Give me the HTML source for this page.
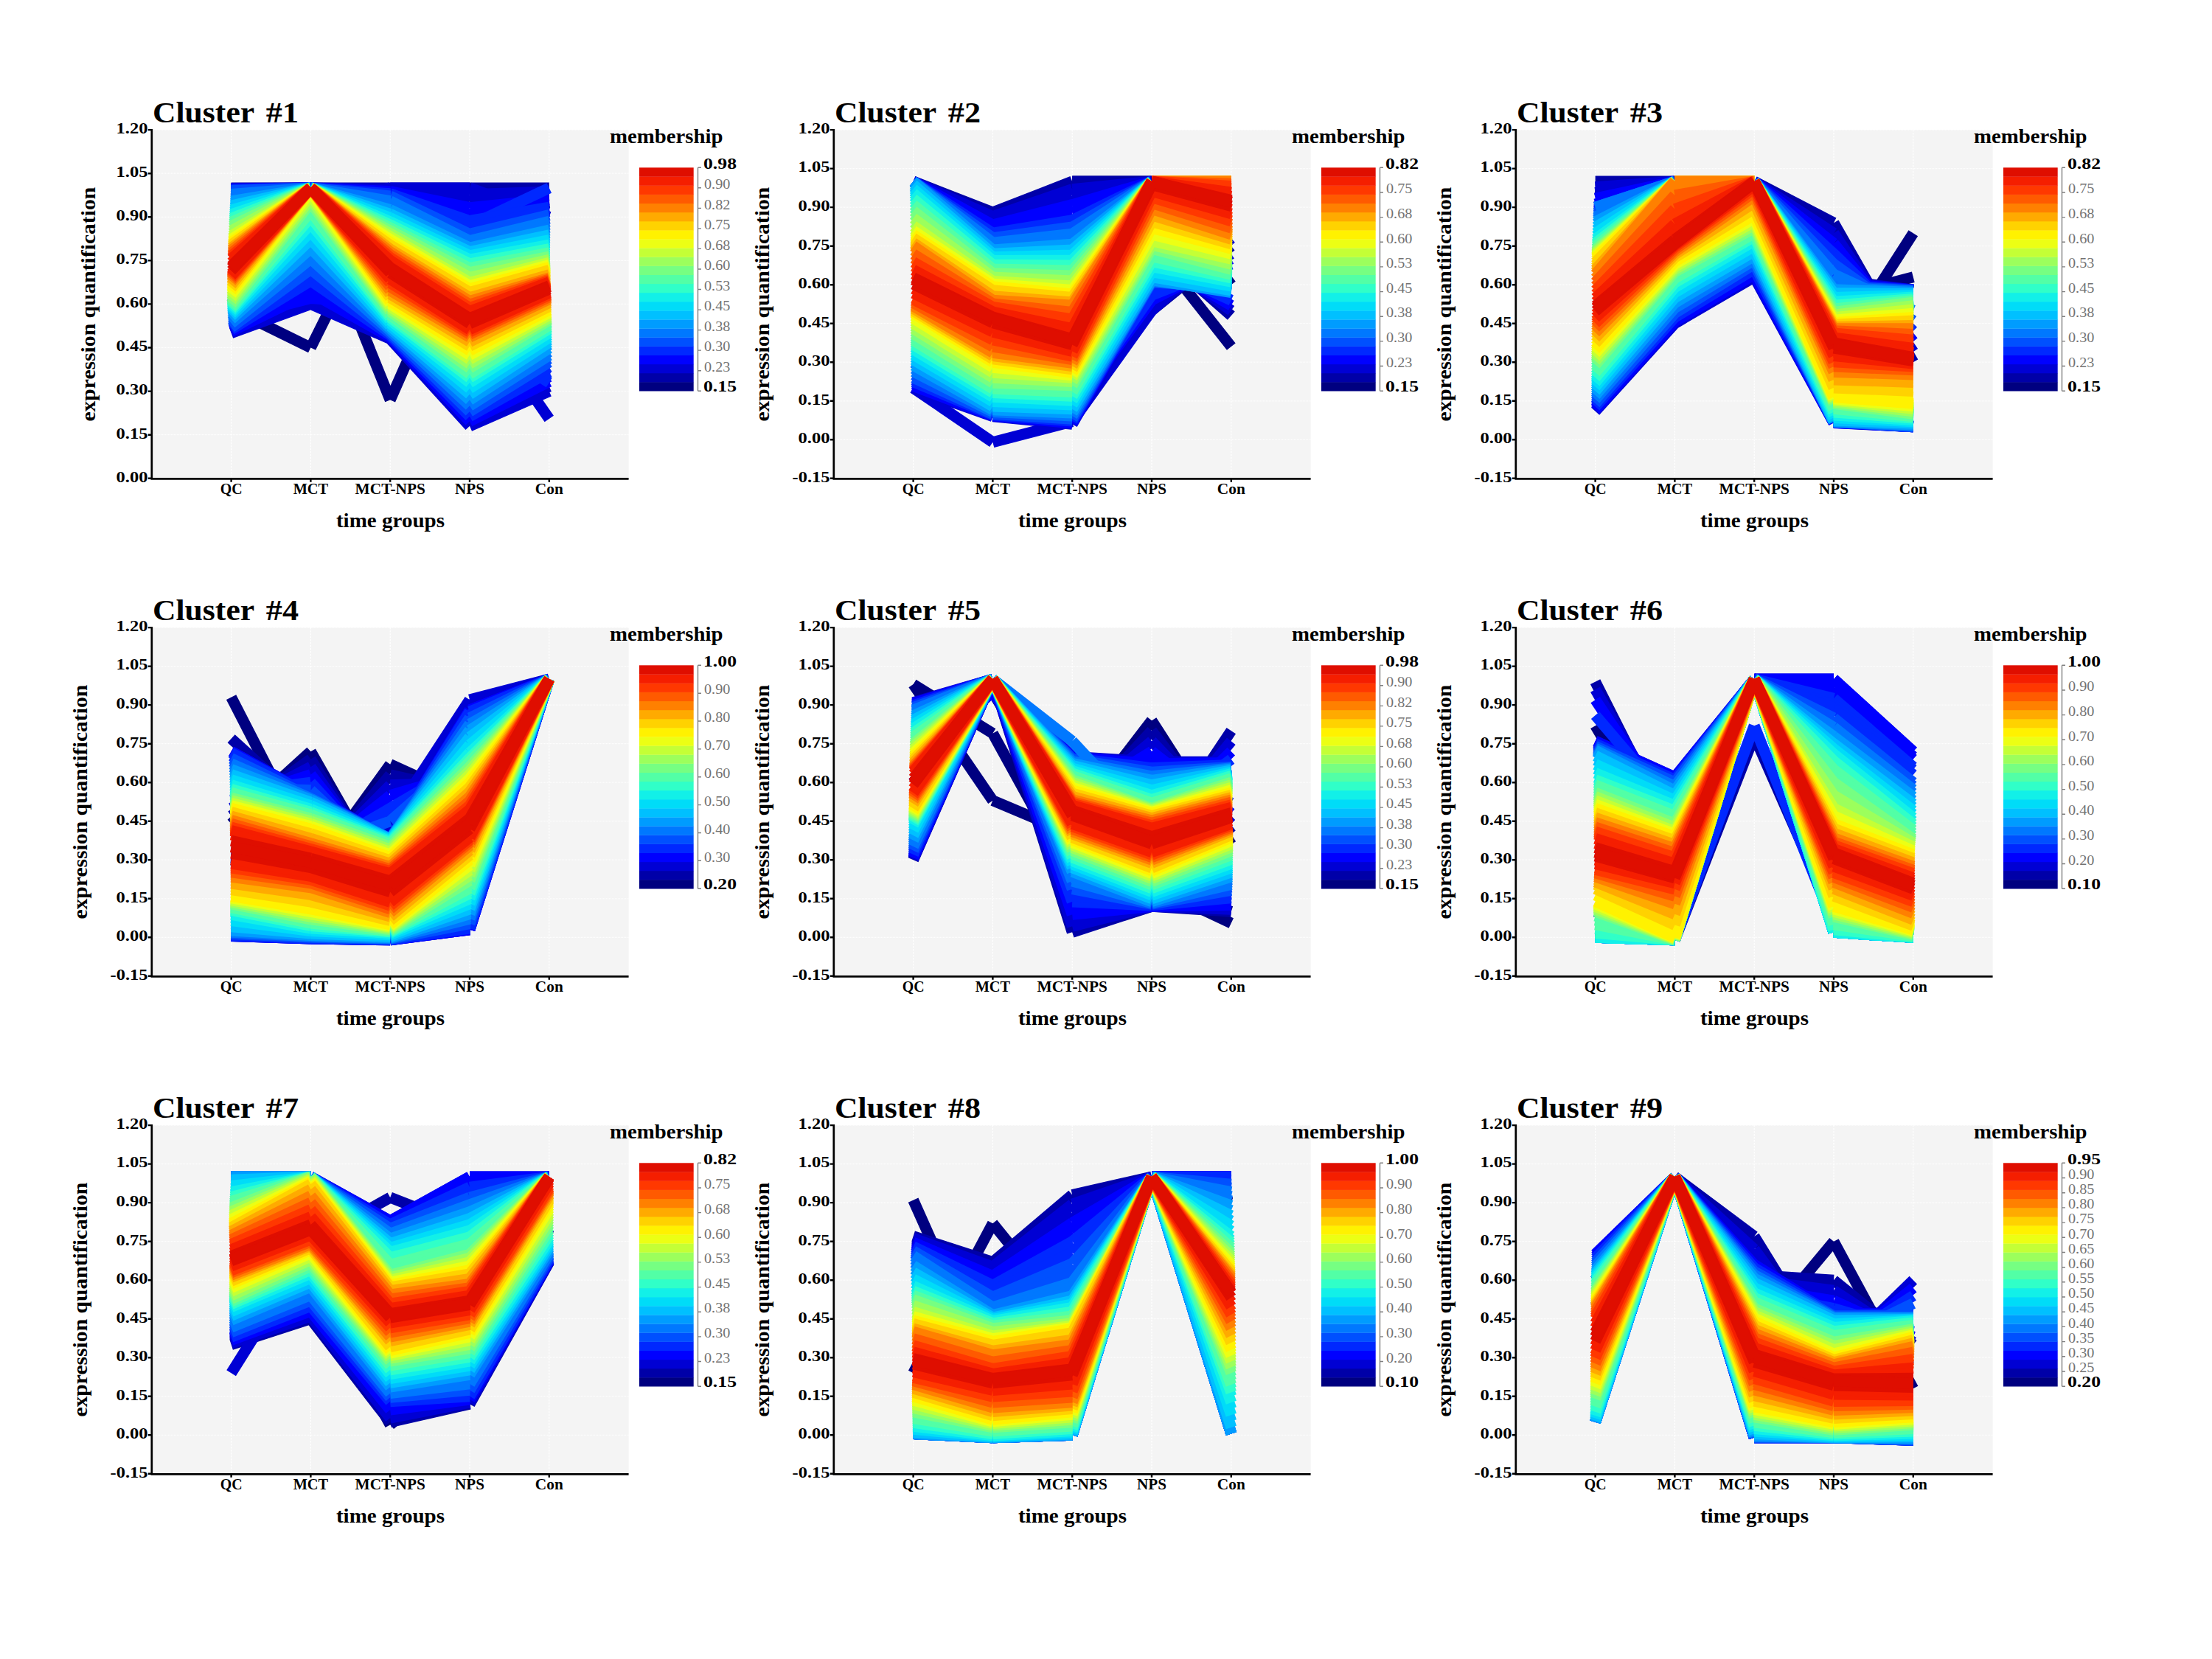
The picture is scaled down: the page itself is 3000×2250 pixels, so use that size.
<!DOCTYPE html>
<html><head><meta charset="utf-8"><title>Mfuzz clusters</title>
<style>
html,body{margin:0;padding:0;background:#fff;}
body{width:3000px;height:2250px;overflow:hidden;}
svg{display:block;}
text{font-family:"Liberation Serif", serif;font-weight:bold;fill:#000;}
</style></head><body>
<svg width="3000" height="2250" viewBox="0 0 3000 2250">
<rect width="3000" height="2250" fill="#fff"/>
<rect x="205.8" y="176.1" width="646.8" height="472.7" fill="#F4F4F4"/>
<path d="M205.8 176.1H852.6M205.8 235.2H852.6M205.8 294.3H852.6M205.8 353.4H852.6M205.8 412.4H852.6M205.8 471.5H852.6M205.8 530.6H852.6M205.8 589.7H852.6M205.8 648.8H852.6" stroke="#FFFFFF" stroke-width="1.2" stroke-dasharray="1 1" fill="none"/>
<path d="M313.6 176.1V648.8M421.4 176.1V648.8M529.2 176.1V648.8M637.0 176.1V648.8M744.8 176.1V648.8" stroke="#FFFFFF" stroke-width="1.2" stroke-dasharray="2.5 1.5" fill="none"/>
<clipPath id="clip1"><rect x="205.8" y="176.1" width="646.8" height="472.7"/></clipPath>
<g clip-path="url(#clip1)" fill="none" stroke-width="15" stroke-linecap="butt">
<path d="M313.6 418.4L421.4 471.5M421.4 471.5L529.2 254.9M529.2 254.9L637.0 294.3M637.0 294.3L744.8 274.6" stroke="#000080"/>
<path d="M313.6 412.4L421.4 274.6M421.4 274.6L529.2 542.4M529.2 542.4L637.0 298.2M637.0 298.2L744.8 294.3" stroke="#000080"/>
<path d="M313.6 254.9L421.4 254.9M421.4 254.9L529.2 254.9M529.2 254.9L637.0 254.9M637.0 254.9L744.8 254.9" stroke="#0000A8"/>
<path d="M313.6 255.4L421.4 254.9M421.4 254.9L529.2 256.5M529.2 256.5L637.0 263.8M637.0 263.8L744.8 260.1" stroke="#0000D4"/>
<path d="M313.6 451.8L421.4 412.4M421.4 412.4L529.2 459.7M529.2 459.7L637.0 577.9M637.0 577.9L744.8 530.6" stroke="#0000D4"/>
<path d="M313.6 294.3L421.4 274.6M421.4 274.6L529.2 294.3M529.2 294.3L637.0 412.4M637.0 412.4L744.8 568.0" stroke="#0000D4"/>
<path d="M313.6 255.9L421.4 254.9M421.4 254.9L529.2 258.0M529.2 258.0L637.0 272.7M637.0 272.7L744.8 265.4" stroke="#0000D4"/>
<path d="M313.6 450.5L421.4 404.6M421.4 404.6L529.2 458.4M529.2 458.4L637.0 574.6M637.0 574.6L744.8 524.1" stroke="#0000D4"/>
<path d="M313.6 294.3L421.4 274.6M421.4 274.6L529.2 254.9M529.2 254.9L637.0 254.9M637.0 254.9L744.8 294.3" stroke="#0000D4"/>
<path d="M313.6 256.5L421.4 254.9M421.4 254.9L529.2 259.6M529.2 259.6L637.0 281.7M637.0 281.7L744.8 270.6" stroke="#0000FF"/>
<path d="M313.6 449.2L421.4 396.7M421.4 396.7L529.2 457.1M529.2 457.1L637.0 571.3M637.0 571.3L744.8 517.5" stroke="#0000FF"/>
<path d="M313.6 432.1L421.4 404.6M421.4 404.6L529.2 412.4M529.2 412.4L637.0 471.5M637.0 471.5L744.8 510.9" stroke="#0000FF"/>
<path d="M313.6 257.0L421.4 254.9M421.4 254.9L529.2 261.2M529.2 261.2L637.0 290.6M637.0 290.6L744.8 275.9" stroke="#0000FF"/>
<path d="M313.6 447.9L421.4 388.8M421.4 388.8L529.2 455.8M529.2 455.8L637.0 568.0M637.0 568.0L744.8 510.9" stroke="#0000FF"/>
<path d="M313.6 420.3L421.4 373.1M421.4 373.1L529.2 404.6M529.2 404.6L637.0 451.8M637.0 451.8L744.8 518.8" stroke="#0028FF"/>
<path d="M313.6 404.6L421.4 353.4M421.4 353.4L529.2 262.8M529.2 262.8L637.0 306.1M637.0 306.1L744.8 254.9" stroke="#0028FF"/>
<path d="M313.6 257.5L421.4 254.9M421.4 254.9L529.2 262.8M529.2 262.8L637.0 299.5M637.0 299.5L744.8 281.1" stroke="#0028FF"/>
<path d="M313.6 446.6L421.4 380.9M421.4 380.9L529.2 454.5M529.2 454.5L637.0 564.8M637.0 564.8L744.8 504.4" stroke="#0028FF"/>
<path d="M313.6 258.0L421.4 254.9M421.4 254.9L529.2 264.3M529.2 264.3L637.0 308.5M637.0 308.5L744.8 286.4" stroke="#0028FF"/>
<path d="M313.6 445.3L421.4 373.1M421.4 373.1L529.2 453.2M529.2 453.2L637.0 561.5M637.0 561.5L744.8 497.8" stroke="#0028FF"/>
<path d="M313.6 258.6L421.4 254.9M421.4 254.9L529.2 265.9M529.2 265.9L637.0 317.4M637.0 317.4L744.8 291.6" stroke="#0050FF"/>
<path d="M313.6 444.0L421.4 365.2M421.4 365.2L529.2 451.8M529.2 451.8L637.0 558.2M637.0 558.2L744.8 491.2" stroke="#0050FF"/>
<path d="M313.6 260.4L421.4 254.9M421.4 254.9L529.2 268.7M529.2 268.7L637.0 323.4M637.0 323.4L744.8 296.2" stroke="#0050FF"/>
<path d="M313.6 441.2L421.4 358.1M421.4 358.1L529.2 450.3M529.2 450.3L637.0 554.3M637.0 554.3L744.8 486.5" stroke="#0050FF"/>
<path d="M313.6 263.5L421.4 254.9M421.4 254.9L529.2 272.6M529.2 272.6L637.0 326.6M637.0 326.6L744.8 300.2" stroke="#0078FF"/>
<path d="M313.6 438.4L421.4 351.0M421.4 351.0L529.2 448.7M529.2 448.7L637.0 550.3M637.0 550.3L744.8 481.8" stroke="#0078FF"/>
<path d="M313.6 266.7L421.4 254.9M421.4 254.9L529.2 276.5M529.2 276.5L637.0 329.7M637.0 329.7L744.8 304.1" stroke="#0078FF"/>
<path d="M313.6 435.7L421.4 343.9M421.4 343.9L529.2 447.1M529.2 447.1L637.0 546.4M637.0 546.4L744.8 477.1" stroke="#0078FF"/>
<path d="M313.6 269.9L421.4 254.9M421.4 254.9L529.2 280.5M529.2 280.5L637.0 332.9M637.0 332.9L744.8 308.1" stroke="#0078FF"/>
<path d="M313.6 432.9L421.4 336.8M421.4 336.8L529.2 445.5M529.2 445.5L637.0 542.4M637.0 542.4L744.8 472.3" stroke="#009CFF"/>
<path d="M313.6 273.0L421.4 254.9M421.4 254.9L529.2 284.4M529.2 284.4L637.0 336.0M637.0 336.0L744.8 312.0" stroke="#009CFF"/>
<path d="M313.6 430.2L421.4 329.7M421.4 329.7L529.2 444.0M529.2 444.0L637.0 538.5M637.0 538.5L744.8 467.6" stroke="#009CFF"/>
<path d="M313.6 276.1L421.4 254.9M421.4 254.9L529.2 287.7M529.2 287.7L637.0 338.9M637.0 338.9L744.8 315.6" stroke="#009CFF"/>
<path d="M313.6 428.5L421.4 324.5M421.4 324.5L529.2 442.0M529.2 442.0L637.0 534.6M637.0 534.6L744.8 464.3" stroke="#00C0FF"/>
<path d="M313.6 279.0L421.4 254.9M421.4 254.9L529.2 290.3M529.2 290.3L637.0 341.5M637.0 341.5L744.8 318.9" stroke="#00C0FF"/>
<path d="M313.6 426.9L421.4 319.2M421.4 319.2L529.2 440.0M529.2 440.0L637.0 530.6M637.0 530.6L744.8 461.0" stroke="#00C0FF"/>
<path d="M313.6 282.0L421.4 254.9M421.4 254.9L529.2 293.0M529.2 293.0L637.0 344.2M637.0 344.2L744.8 322.2" stroke="#00C0FF"/>
<path d="M313.6 425.3L421.4 314.0M421.4 314.0L529.2 438.1M529.2 438.1L637.0 526.7M637.0 526.7L744.8 457.8" stroke="#00DCF8"/>
<path d="M313.6 284.9L421.4 254.9M421.4 254.9L529.2 295.6M529.2 295.6L637.0 346.8M637.0 346.8L744.8 325.5" stroke="#00DCF8"/>
<path d="M313.6 423.6L421.4 308.7M421.4 308.7L529.2 436.1M529.2 436.1L637.0 522.7M637.0 522.7L744.8 454.5" stroke="#00DCF8"/>
<path d="M313.6 287.9L421.4 254.9M421.4 254.9L529.2 298.2M529.2 298.2L637.0 349.4M637.0 349.4L744.8 328.7" stroke="#00DCF8"/>
<path d="M313.6 422.0L421.4 303.5M421.4 303.5L529.2 434.1M529.2 434.1L637.0 518.8M637.0 518.8L744.8 451.2" stroke="#12F0E8"/>
<path d="M313.6 290.8L421.4 254.9M421.4 254.9L529.2 300.8M529.2 300.8L637.0 352.0M637.0 352.0L744.8 332.0" stroke="#12F0E8"/>
<path d="M313.6 420.3L421.4 298.2M421.4 298.2L529.2 432.1M529.2 432.1L637.0 514.9M637.0 514.9L744.8 447.9" stroke="#12F0E8"/>
<path d="M313.6 293.6L421.4 254.9M421.4 254.9L529.2 303.1M529.2 303.1L637.0 354.8M637.0 354.8L744.8 335.0" stroke="#12F0E8"/>
<path d="M313.6 419.0L421.4 294.3M421.4 294.3L529.2 430.5M529.2 430.5L637.0 512.2M637.0 512.2L744.8 445.6" stroke="#30FFC8"/>
<path d="M313.6 296.2L421.4 254.9M421.4 254.9L529.2 305.1M529.2 305.1L637.0 357.8M637.0 357.8L744.8 337.6" stroke="#30FFC8"/>
<path d="M313.6 417.7L421.4 290.3M421.4 290.3L529.2 428.9M529.2 428.9L637.0 509.6M637.0 509.6L744.8 443.3" stroke="#30FFC8"/>
<path d="M313.6 298.9L421.4 254.9M421.4 254.9L529.2 307.1M529.2 307.1L637.0 360.7M637.0 360.7L744.8 340.2" stroke="#30FFC8"/>
<path d="M313.6 416.4L421.4 286.4M421.4 286.4L529.2 427.2M529.2 427.2L637.0 507.0M637.0 507.0L744.8 441.0" stroke="#52FFA6"/>
<path d="M313.6 301.5L421.4 254.9M421.4 254.9L529.2 309.0M529.2 309.0L637.0 363.7M637.0 363.7L744.8 342.9" stroke="#52FFA6"/>
<path d="M313.6 415.1L421.4 282.5M421.4 282.5L529.2 425.6M529.2 425.6L637.0 504.4M637.0 504.4L744.8 438.7" stroke="#52FFA6"/>
<path d="M313.6 304.1L421.4 254.9M421.4 254.9L529.2 311.0M529.2 311.0L637.0 366.7M637.0 366.7L744.8 345.5" stroke="#52FFA6"/>
<path d="M313.6 413.8L421.4 278.5M421.4 278.5L529.2 423.9M529.2 423.9L637.0 501.7M637.0 501.7L744.8 436.4" stroke="#52FFA6"/>
<path d="M313.6 306.7L421.4 254.9M421.4 254.9L529.2 313.0M529.2 313.0L637.0 369.6M637.0 369.6L744.8 348.1" stroke="#76FF82"/>
<path d="M313.6 412.4L421.4 274.6M421.4 274.6L529.2 422.3M529.2 422.3L637.0 499.1M637.0 499.1L744.8 434.1" stroke="#76FF82"/>
<path d="M313.6 309.8L421.4 254.9M421.4 254.9L529.2 315.0M529.2 315.0L637.0 372.8M637.0 372.8L744.8 350.4" stroke="#76FF82"/>
<path d="M313.6 410.2L421.4 272.1M421.4 272.1L529.2 420.6M529.2 420.6L637.0 496.2M637.0 496.2L744.8 432.4" stroke="#76FF82"/>
<path d="M313.6 313.2L421.4 254.9M421.4 254.9L529.2 316.9M529.2 316.9L637.0 376.3M637.0 376.3L744.8 352.4" stroke="#9CFF5C"/>
<path d="M313.6 408.0L421.4 269.7M421.4 269.7L529.2 418.9M529.2 418.9L637.0 493.2M637.0 493.2L744.8 430.7" stroke="#9CFF5C"/>
<path d="M313.6 316.7L421.4 254.9M421.4 254.9L529.2 318.9M529.2 318.9L637.0 379.7M637.0 379.7L744.8 354.3" stroke="#9CFF5C"/>
<path d="M313.6 405.8L421.4 267.2M421.4 267.2L529.2 417.1M529.2 417.1L637.0 490.2M637.0 490.2L744.8 428.9" stroke="#9CFF5C"/>
<path d="M313.6 320.1L421.4 254.9M421.4 254.9L529.2 320.9M529.2 320.9L637.0 383.2M637.0 383.2L744.8 356.3" stroke="#C4FF36"/>
<path d="M313.6 403.6L421.4 264.7M421.4 264.7L529.2 415.4M529.2 415.4L637.0 487.3M637.0 487.3L744.8 427.2" stroke="#C4FF36"/>
<path d="M313.6 322.8L421.4 254.9M421.4 254.9L529.2 322.8M529.2 322.8L637.0 385.9M637.0 385.9L744.8 358.0" stroke="#C4FF36"/>
<path d="M313.6 401.4L421.4 262.3M421.4 262.3L529.2 413.7M529.2 413.7L637.0 484.3M637.0 484.3L744.8 425.5" stroke="#C4FF36"/>
<path d="M313.6 324.8L421.4 254.9M421.4 254.9L529.2 324.8M529.2 324.8L637.0 387.8M637.0 387.8L744.8 359.5" stroke="#ECFF14"/>
<path d="M313.6 399.2L421.4 259.8M421.4 259.8L529.2 412.0M529.2 412.0L637.0 481.4M637.0 481.4L744.8 423.8" stroke="#ECFF14"/>
<path d="M313.6 326.8L421.4 254.9M421.4 254.9L529.2 326.8M529.2 326.8L637.0 389.8M637.0 389.8L744.8 361.0" stroke="#ECFF14"/>
<path d="M313.6 396.9L421.4 257.3M421.4 257.3L529.2 410.2M529.2 410.2L637.0 478.4M637.0 478.4L744.8 422.1" stroke="#ECFF14"/>
<path d="M313.6 328.7L421.4 254.9M421.4 254.9L529.2 328.7M529.2 328.7L637.0 391.8M637.0 391.8L744.8 362.5" stroke="#FFF200"/>
<path d="M313.6 394.7L421.4 254.9M421.4 254.9L529.2 408.5M529.2 408.5L637.0 475.5M637.0 475.5L744.8 420.3" stroke="#FFF200"/>
<path d="M313.6 330.5L421.4 254.9M421.4 254.9L529.2 330.6M529.2 330.6L637.0 394.0M637.0 394.0L744.8 364.3" stroke="#FFF200"/>
<path d="M313.6 392.6L421.4 254.9M421.4 254.9L529.2 406.1M529.2 406.1L637.0 472.4M637.0 472.4L744.8 417.9" stroke="#FFF200"/>
<path d="M313.6 332.0L421.4 254.9M421.4 254.9L529.2 332.5M529.2 332.5L637.0 396.4M637.0 396.4L744.8 366.4" stroke="#FFD200"/>
<path d="M313.6 390.5L421.4 254.9M421.4 254.9L529.2 403.7M529.2 403.7L637.0 469.4M637.0 469.4L744.8 415.5" stroke="#FFD200"/>
<path d="M313.6 333.5L421.4 254.9M421.4 254.9L529.2 334.3M529.2 334.3L637.0 398.8M637.0 398.8L744.8 368.5" stroke="#FFD200"/>
<path d="M313.6 388.4L421.4 254.9M421.4 254.9L529.2 401.2M529.2 401.2L637.0 466.4M637.0 466.4L744.8 413.1" stroke="#FFD200"/>
<path d="M313.6 335.0L421.4 254.9M421.4 254.9L529.2 336.1M529.2 336.1L637.0 401.2M637.0 401.2L744.8 370.6" stroke="#FFD200"/>
<path d="M313.6 386.2L421.4 254.9M421.4 254.9L529.2 398.8M529.2 398.8L637.0 463.4M637.0 463.4L744.8 410.6" stroke="#FFAA00"/>
<path d="M313.6 336.5L421.4 254.9M421.4 254.9L529.2 337.9M529.2 337.9L637.0 403.7M637.0 403.7L744.8 372.8" stroke="#FFAA00"/>
<path d="M313.6 384.1L421.4 254.9M421.4 254.9L529.2 396.4M529.2 396.4L637.0 460.3M637.0 460.3L744.8 408.2" stroke="#FFAA00"/>
<path d="M313.6 338.1L421.4 254.9M421.4 254.9L529.2 339.7M529.2 339.7L637.0 406.1M637.0 406.1L744.8 374.9" stroke="#FFAA00"/>
<path d="M313.6 382.0L421.4 254.9M421.4 254.9L529.2 394.0M529.2 394.0L637.0 457.3M637.0 457.3L744.8 405.8" stroke="#FF8000"/>
<path d="M313.6 339.6L421.4 254.9M421.4 254.9L529.2 341.5M529.2 341.5L637.0 408.5M637.0 408.5L744.8 377.0" stroke="#FF8000"/>
<path d="M313.6 380.3L421.4 254.9M421.4 254.9L529.2 391.4M529.2 391.4L637.0 455.0M637.0 455.0L744.8 403.9" stroke="#FF8000"/>
<path d="M313.6 341.5L421.4 254.9M421.4 254.9L529.2 343.5M529.2 343.5L637.0 410.8M637.0 410.8L744.8 378.0" stroke="#FF8000"/>
<path d="M313.6 379.0L421.4 254.9M421.4 254.9L529.2 388.8M529.2 388.8L637.0 453.3M637.0 453.3L744.8 402.6" stroke="#FF5A00"/>
<path d="M313.6 343.5L421.4 254.9M421.4 254.9L529.2 345.5M529.2 345.5L637.0 413.1M637.0 413.1L744.8 379.0" stroke="#FF5A00"/>
<path d="M313.6 377.7L421.4 254.9M421.4 254.9L529.2 386.2M529.2 386.2L637.0 451.7M637.0 451.7L744.8 401.3" stroke="#FF5A00"/>
<path d="M313.6 345.5L421.4 254.9M421.4 254.9L529.2 347.5M529.2 347.5L637.0 415.4M637.0 415.4L744.8 380.0" stroke="#FF5A00"/>
<path d="M313.6 376.3L421.4 254.9M421.4 254.9L529.2 383.6M529.2 383.6L637.0 450.0M637.0 450.0L744.8 400.0" stroke="#FF3800"/>
<path d="M313.6 347.5L421.4 254.9M421.4 254.9L529.2 349.4M529.2 349.4L637.0 417.7M637.0 417.7L744.8 380.9" stroke="#FF3800"/>
<path d="M313.6 375.0L421.4 254.9M421.4 254.9L529.2 380.9M529.2 380.9L637.0 448.4M637.0 448.4L744.8 398.7" stroke="#FF3800"/>
<path d="M313.6 349.4L421.4 254.9M421.4 254.9L529.2 351.4M529.2 351.4L637.0 420.0M637.0 420.0L744.8 381.9" stroke="#FF3800"/>
<path d="M313.6 373.7L421.4 254.9M421.4 254.9L529.2 378.3M529.2 378.3L637.0 446.8M637.0 446.8L744.8 397.3" stroke="#F51E00"/>
<path d="M313.6 351.4L421.4 254.9M421.4 254.9L529.2 353.4M529.2 353.4L637.0 422.3M637.0 422.3L744.8 382.9" stroke="#F51E00"/>
<path d="M313.6 371.1L421.4 254.9M421.4 254.9L529.2 374.6M529.2 374.6L637.0 443.6M637.0 443.6L744.8 395.1" stroke="#F51E00"/>
<path d="M313.6 356.1L421.4 254.9M421.4 254.9L529.2 358.1M529.2 358.1L637.0 427.0M637.0 427.0L744.8 385.3" stroke="#F51E00"/>
<path d="M313.6 367.1L421.4 254.9M421.4 254.9L529.2 369.9M529.2 369.9L637.0 438.8M637.0 438.8L744.8 392.0" stroke="#DF0E00"/>
<path d="M313.6 360.8L421.4 254.9M421.4 254.9L529.2 362.8M529.2 362.8L637.0 431.8M637.0 431.8L744.8 387.6" stroke="#DF0E00"/>
<path d="M313.6 363.2L421.4 254.9M421.4 254.9L529.2 365.2M529.2 365.2L637.0 434.1M637.0 434.1L744.8 388.8" stroke="#DF0E00"/>
<path d="M313.6 363.2L421.4 254.9M421.4 254.9L529.2 365.2M529.2 365.2L637.0 434.1M637.0 434.1L744.8 388.8" stroke="#DF0E00"/>
</g>
<path d="M205.8 174.9V649.4H852.6" stroke="#000" stroke-width="2.7" fill="none"/>
<text x="200.5" y="180.9" text-anchor="end" font-size="21.5" textLength="43" lengthAdjust="spacingAndGlyphs">1.20</text>
<text x="200.5" y="240.0" text-anchor="end" font-size="21.5" textLength="43" lengthAdjust="spacingAndGlyphs">1.05</text>
<text x="200.5" y="299.1" text-anchor="end" font-size="21.5" textLength="43" lengthAdjust="spacingAndGlyphs">0.90</text>
<text x="200.5" y="358.2" text-anchor="end" font-size="21.5" textLength="43" lengthAdjust="spacingAndGlyphs">0.75</text>
<text x="200.5" y="417.2" text-anchor="end" font-size="21.5" textLength="43" lengthAdjust="spacingAndGlyphs">0.60</text>
<text x="200.5" y="476.3" text-anchor="end" font-size="21.5" textLength="43" lengthAdjust="spacingAndGlyphs">0.45</text>
<text x="200.5" y="535.4" text-anchor="end" font-size="21.5" textLength="43" lengthAdjust="spacingAndGlyphs">0.30</text>
<text x="200.5" y="594.5" text-anchor="end" font-size="21.5" textLength="43" lengthAdjust="spacingAndGlyphs">0.15</text>
<text x="200.5" y="653.6" text-anchor="end" font-size="21.5" textLength="43" lengthAdjust="spacingAndGlyphs">0.00</text>
<path d="M200.8 176.1H205.8M200.8 235.2H205.8M200.8 294.3H205.8M200.8 353.4H205.8M200.8 412.4H205.8M200.8 471.5H205.8M200.8 530.6H205.8M200.8 589.7H205.8M200.8 648.8H205.8M313.6 648.8V653.8M421.4 648.8V653.8M529.2 648.8V653.8M637.0 648.8V653.8M744.8 648.8V653.8" stroke="#000" stroke-width="2.4" fill="none"/>
<text x="313.6" y="670.1" text-anchor="middle" font-size="21" textLength="29.8" lengthAdjust="spacingAndGlyphs">QC</text>
<text x="421.4" y="670.1" text-anchor="middle" font-size="21" textLength="47.5" lengthAdjust="spacingAndGlyphs">MCT</text>
<text x="529.2" y="670.1" text-anchor="middle" font-size="21" textLength="95.2" lengthAdjust="spacingAndGlyphs">MCT-NPS</text>
<text x="637.0" y="670.1" text-anchor="middle" font-size="21" textLength="40" lengthAdjust="spacingAndGlyphs">NPS</text>
<text x="744.8" y="670.1" text-anchor="middle" font-size="21" textLength="38" lengthAdjust="spacingAndGlyphs">Con</text>
<text x="206.9" y="166.3" font-size="40" textLength="138.3" lengthAdjust="spacingAndGlyphs">Cluster</text>
<text x="360.8" y="166.3" font-size="40" textLength="44.2" lengthAdjust="spacingAndGlyphs">#1</text>
<text x="529.5" y="714.9" text-anchor="middle" font-size="28" textLength="147.2" lengthAdjust="spacingAndGlyphs">time groups</text>
<text transform="translate(129.0,412.7) rotate(-90)" x="0" y="0" text-anchor="middle" font-size="27.5" textLength="317.8" lengthAdjust="spacingAndGlyphs">expression quantification</text>
<text x="827.0" y="194.1" font-size="27" textLength="153.5" lengthAdjust="spacingAndGlyphs">membership</text>
<rect x="867.0" y="518.08" width="73.7" height="12.42" fill="#000080"/>
<rect x="867.0" y="505.97" width="73.7" height="12.42" fill="#0000A8"/>
<rect x="867.0" y="493.85" width="73.7" height="12.42" fill="#0000D4"/>
<rect x="867.0" y="481.74" width="73.7" height="12.42" fill="#0000FF"/>
<rect x="867.0" y="469.62" width="73.7" height="12.42" fill="#0028FF"/>
<rect x="867.0" y="457.50" width="73.7" height="12.42" fill="#0050FF"/>
<rect x="867.0" y="445.39" width="73.7" height="12.42" fill="#0078FF"/>
<rect x="867.0" y="433.27" width="73.7" height="12.42" fill="#009CFF"/>
<rect x="867.0" y="421.16" width="73.7" height="12.42" fill="#00C0FF"/>
<rect x="867.0" y="409.04" width="73.7" height="12.42" fill="#00DCF8"/>
<rect x="867.0" y="396.92" width="73.7" height="12.42" fill="#12F0E8"/>
<rect x="867.0" y="384.81" width="73.7" height="12.42" fill="#30FFC8"/>
<rect x="867.0" y="372.69" width="73.7" height="12.42" fill="#52FFA6"/>
<rect x="867.0" y="360.58" width="73.7" height="12.42" fill="#76FF82"/>
<rect x="867.0" y="348.46" width="73.7" height="12.42" fill="#9CFF5C"/>
<rect x="867.0" y="336.34" width="73.7" height="12.42" fill="#C4FF36"/>
<rect x="867.0" y="324.23" width="73.7" height="12.42" fill="#ECFF14"/>
<rect x="867.0" y="312.11" width="73.7" height="12.42" fill="#FFF200"/>
<rect x="867.0" y="300.00" width="73.7" height="12.42" fill="#FFD200"/>
<rect x="867.0" y="287.88" width="73.7" height="12.42" fill="#FFAA00"/>
<rect x="867.0" y="275.76" width="73.7" height="12.42" fill="#FF8000"/>
<rect x="867.0" y="263.65" width="73.7" height="12.42" fill="#FF5A00"/>
<rect x="867.0" y="251.53" width="73.7" height="12.42" fill="#FF3800"/>
<rect x="867.0" y="239.42" width="73.7" height="12.42" fill="#F51E00"/>
<rect x="867.0" y="227.30" width="73.7" height="12.42" fill="#DF0E00"/>
<text x="954.0" y="228.5" font-size="20.5" textLength="45" lengthAdjust="spacingAndGlyphs">0.98</text>
<text x="955.0" y="256.0" font-size="18" style="font-weight:normal;fill:#737373" textLength="35.4" lengthAdjust="spacingAndGlyphs">0.90</text>
<text x="955.0" y="283.6" font-size="18" style="font-weight:normal;fill:#737373" textLength="35.4" lengthAdjust="spacingAndGlyphs">0.82</text>
<text x="955.0" y="311.1" font-size="18" style="font-weight:normal;fill:#737373" textLength="35.4" lengthAdjust="spacingAndGlyphs">0.75</text>
<text x="955.0" y="338.6" font-size="18" style="font-weight:normal;fill:#737373" textLength="35.4" lengthAdjust="spacingAndGlyphs">0.68</text>
<text x="955.0" y="366.2" font-size="18" style="font-weight:normal;fill:#737373" textLength="35.4" lengthAdjust="spacingAndGlyphs">0.60</text>
<text x="955.0" y="393.7" font-size="18" style="font-weight:normal;fill:#737373" textLength="35.4" lengthAdjust="spacingAndGlyphs">0.53</text>
<text x="955.0" y="421.3" font-size="18" style="font-weight:normal;fill:#737373" textLength="35.4" lengthAdjust="spacingAndGlyphs">0.45</text>
<text x="955.0" y="448.8" font-size="18" style="font-weight:normal;fill:#737373" textLength="35.4" lengthAdjust="spacingAndGlyphs">0.38</text>
<text x="955.0" y="476.3" font-size="18" style="font-weight:normal;fill:#737373" textLength="35.4" lengthAdjust="spacingAndGlyphs">0.30</text>
<text x="955.0" y="503.9" font-size="18" style="font-weight:normal;fill:#737373" textLength="35.4" lengthAdjust="spacingAndGlyphs">0.23</text>
<text x="954.0" y="531.4" font-size="20.5" textLength="45" lengthAdjust="spacingAndGlyphs">0.15</text>
<path d="M946.5 227.3V530.2M946.5 227.3H951.0M946.5 254.8H951.0M946.5 282.4H951.0M946.5 309.9H951.0M946.5 337.4H951.0M946.5 365.0H951.0M946.5 392.5H951.0M946.5 420.1H951.0M946.5 447.6H951.0M946.5 475.1H951.0M946.5 502.7H951.0M946.5 530.2H951.0" stroke="#808080" stroke-width="1.4" fill="none"/>
<rect x="1130.8" y="176.1" width="646.8" height="472.7" fill="#F4F4F4"/>
<path d="M1130.8 176.1H1777.6M1130.8 228.6H1777.6M1130.8 281.1H1777.6M1130.8 333.7H1777.6M1130.8 386.2H1777.6M1130.8 438.7H1777.6M1130.8 491.2H1777.6M1130.8 543.8H1777.6M1130.8 596.3H1777.6M1130.8 648.8H1777.6" stroke="#FFFFFF" stroke-width="1.2" stroke-dasharray="1 1" fill="none"/>
<path d="M1238.6 176.1V648.8M1346.4 176.1V648.8M1454.2 176.1V648.8M1562.0 176.1V648.8M1669.8 176.1V648.8" stroke="#FFFFFF" stroke-width="1.2" stroke-dasharray="2.5 1.5" fill="none"/>
<clipPath id="clip2"><rect x="1130.8" y="176.1" width="646.8" height="472.7"/></clipPath>
<g clip-path="url(#clip2)" fill="none" stroke-width="15" stroke-linecap="butt">
<path d="M1238.6 421.2L1346.4 438.7M1346.4 438.7L1454.2 246.1M1454.2 246.1L1562.0 246.1M1562.0 246.1L1669.8 386.2" stroke="#000080"/>
<path d="M1238.6 491.2L1346.4 543.8M1346.4 543.8L1454.2 554.3M1454.2 554.3L1562.0 333.7M1562.0 333.7L1669.8 470.2" stroke="#000080"/>
<path d="M1238.6 491.2L1346.4 543.8M1346.4 543.8L1454.2 554.3M1454.2 554.3L1562.0 421.2M1562.0 421.2L1669.8 333.7" stroke="#0000A8"/>
<path d="M1238.6 246.1L1346.4 288.1M1346.4 288.1L1454.2 246.1M1454.2 246.1L1562.0 246.1M1562.0 246.1L1669.8 246.1" stroke="#0000A8"/>
<path d="M1238.6 491.2L1346.4 543.8M1346.4 543.8L1454.2 554.3M1454.2 554.3L1562.0 333.7M1562.0 333.7L1669.8 428.2" stroke="#0000A8"/>
<path d="M1238.6 246.1L1346.4 293.7M1346.4 293.7L1454.2 256.6M1454.2 256.6L1562.0 246.1M1562.0 246.1L1669.8 246.1" stroke="#0000D4"/>
<path d="M1238.6 491.2L1346.4 543.8M1346.4 543.8L1454.2 554.3M1454.2 554.3L1562.0 414.2M1562.0 414.2L1669.8 344.2" stroke="#0000D4"/>
<path d="M1238.6 246.1L1346.4 299.4M1346.4 299.4L1454.2 267.1M1454.2 267.1L1562.0 246.1M1562.0 246.1L1669.8 246.1" stroke="#0000D4"/>
<path d="M1238.6 526.2L1346.4 564.8M1346.4 564.8L1454.2 575.3M1454.2 575.3L1562.0 386.2M1562.0 386.2L1669.8 386.2" stroke="#0000D4"/>
<path d="M1238.6 526.2L1346.4 599.8M1346.4 599.8L1454.2 571.8M1454.2 571.8L1562.0 421.2M1562.0 421.2L1669.8 323.2" stroke="#0000D4"/>
<path d="M1238.6 491.2L1346.4 543.8M1346.4 543.8L1454.2 554.3M1454.2 554.3L1562.0 344.2M1562.0 344.2L1669.8 421.2" stroke="#0000D4"/>
<path d="M1238.6 246.1L1346.4 305.0M1346.4 305.0L1454.2 277.6M1454.2 277.6L1562.0 246.1M1562.0 246.1L1669.8 246.1" stroke="#0000FF"/>
<path d="M1238.6 491.2L1346.4 543.8M1346.4 543.8L1454.2 554.3M1454.2 554.3L1562.0 407.2M1562.0 407.2L1669.8 351.2" stroke="#0000FF"/>
<path d="M1238.6 523.4L1346.4 564.1M1346.4 564.1L1454.2 573.9M1454.2 573.9L1562.0 385.5M1562.0 385.5L1669.8 386.9" stroke="#0000FF"/>
<path d="M1238.6 246.1L1346.4 310.6M1346.4 310.6L1454.2 288.1M1454.2 288.1L1562.0 246.1M1562.0 246.1L1669.8 246.1" stroke="#0000FF"/>
<path d="M1238.6 520.6L1346.4 563.4M1346.4 563.4L1454.2 572.5M1454.2 572.5L1562.0 384.8M1562.0 384.8L1669.8 387.6" stroke="#0000FF"/>
<path d="M1238.6 491.2L1346.4 543.8M1346.4 543.8L1454.2 554.3M1454.2 554.3L1562.0 351.2M1562.0 351.2L1669.8 414.2" stroke="#0000FF"/>
<path d="M1238.6 246.1L1346.4 316.2M1346.4 316.2L1454.2 298.7M1454.2 298.7L1562.0 246.1M1562.0 246.1L1669.8 246.1" stroke="#0028FF"/>
<path d="M1238.6 517.8L1346.4 562.7M1346.4 562.7L1454.2 571.1M1454.2 571.1L1562.0 384.1M1562.0 384.1L1669.8 388.3" stroke="#0028FF"/>
<path d="M1238.6 491.2L1346.4 543.8M1346.4 543.8L1454.2 554.3M1454.2 554.3L1562.0 400.2M1562.0 400.2L1669.8 358.2" stroke="#0028FF"/>
<path d="M1238.6 246.1L1346.4 319.4M1346.4 319.4L1454.2 303.3M1454.2 303.3L1562.0 246.1M1562.0 246.1L1669.8 246.1" stroke="#0028FF"/>
<path d="M1238.6 515.0L1346.4 562.0M1346.4 562.0L1454.2 569.7M1454.2 569.7L1562.0 383.4M1562.0 383.4L1669.8 389.0" stroke="#0028FF"/>
<path d="M1238.6 491.2L1346.4 543.8M1346.4 543.8L1454.2 554.3M1454.2 554.3L1562.0 358.2M1562.0 358.2L1669.8 407.2" stroke="#0028FF"/>
<path d="M1238.6 246.1L1346.4 322.7M1346.4 322.7L1454.2 308.0M1454.2 308.0L1562.0 246.1M1562.0 246.1L1669.8 246.1" stroke="#0050FF"/>
<path d="M1238.6 512.2L1346.4 561.3M1346.4 561.3L1454.2 568.3M1454.2 568.3L1562.0 382.7M1562.0 382.7L1669.8 389.7" stroke="#0050FF"/>
<path d="M1238.6 246.1L1346.4 326.0M1346.4 326.0L1454.2 312.7M1454.2 312.7L1562.0 246.1M1562.0 246.1L1669.8 246.1" stroke="#0050FF"/>
<path d="M1238.6 508.0L1346.4 559.9M1346.4 559.9L1454.2 566.2M1454.2 566.2L1562.0 382.0M1562.0 382.0L1669.8 391.1" stroke="#0050FF"/>
<path d="M1238.6 246.1L1346.4 329.2M1346.4 329.2L1454.2 317.3M1454.2 317.3L1562.0 246.1M1562.0 246.1L1669.8 246.1" stroke="#0078FF"/>
<path d="M1238.6 503.8L1346.4 558.5M1346.4 558.5L1454.2 564.1M1454.2 564.1L1562.0 381.3M1562.0 381.3L1669.8 392.5" stroke="#0078FF"/>
<path d="M1238.6 246.1L1346.4 332.5M1346.4 332.5L1454.2 322.0M1454.2 322.0L1562.0 246.1M1562.0 246.1L1669.8 246.1" stroke="#0078FF"/>
<path d="M1238.6 499.6L1346.4 557.1M1346.4 557.1L1454.2 562.0M1454.2 562.0L1562.0 380.6M1562.0 380.6L1669.8 393.9" stroke="#0078FF"/>
<path d="M1238.6 246.1L1346.4 335.8M1346.4 335.8L1454.2 326.7M1454.2 326.7L1562.0 246.1M1562.0 246.1L1669.8 246.1" stroke="#0078FF"/>
<path d="M1238.6 495.4L1346.4 555.7M1346.4 555.7L1454.2 559.9M1454.2 559.9L1562.0 379.9M1562.0 379.9L1669.8 395.3" stroke="#009CFF"/>
<path d="M1238.6 246.1L1346.4 339.0M1346.4 339.0L1454.2 331.3M1454.2 331.3L1562.0 246.1M1562.0 246.1L1669.8 246.1" stroke="#009CFF"/>
<path d="M1238.6 491.2L1346.4 554.3M1346.4 554.3L1454.2 557.8M1454.2 557.8L1562.0 379.2M1562.0 379.2L1669.8 396.7" stroke="#009CFF"/>
<path d="M1238.6 247.6L1346.4 341.8M1346.4 341.8L1454.2 335.4M1454.2 335.4L1562.0 246.1M1562.0 246.1L1669.8 246.1" stroke="#009CFF"/>
<path d="M1238.6 487.7L1346.4 551.1M1346.4 551.1L1454.2 554.8M1454.2 554.8L1562.0 375.7M1562.0 375.7L1669.8 393.8" stroke="#00C0FF"/>
<path d="M1238.6 250.5L1346.4 344.2M1346.4 344.2L1454.2 338.9M1454.2 338.9L1562.0 246.1M1562.0 246.1L1669.8 246.1" stroke="#00C0FF"/>
<path d="M1238.6 484.2L1346.4 547.8M1346.4 547.8L1454.2 551.9M1454.2 551.9L1562.0 372.2M1562.0 372.2L1669.8 390.9" stroke="#00C0FF"/>
<path d="M1238.6 253.4L1346.4 346.5M1346.4 346.5L1454.2 342.4M1454.2 342.4L1562.0 246.1M1562.0 246.1L1669.8 246.1" stroke="#00C0FF"/>
<path d="M1238.6 480.7L1346.4 544.6M1346.4 544.6L1454.2 549.0M1454.2 549.0L1562.0 368.7M1562.0 368.7L1669.8 387.9" stroke="#00DCF8"/>
<path d="M1238.6 256.3L1346.4 348.8M1346.4 348.8L1454.2 345.9M1454.2 345.9L1562.0 246.1M1562.0 246.1L1669.8 246.1" stroke="#00DCF8"/>
<path d="M1238.6 477.2L1346.4 541.4M1346.4 541.4L1454.2 546.1M1454.2 546.1L1562.0 365.2M1562.0 365.2L1669.8 385.0" stroke="#00DCF8"/>
<path d="M1238.6 259.3L1346.4 351.2M1346.4 351.2L1454.2 349.4M1454.2 349.4L1562.0 246.1M1562.0 246.1L1669.8 246.1" stroke="#00DCF8"/>
<path d="M1238.6 473.7L1346.4 538.2M1346.4 538.2L1454.2 543.2M1454.2 543.2L1562.0 361.7M1562.0 361.7L1669.8 382.1" stroke="#12F0E8"/>
<path d="M1238.6 262.2L1346.4 353.5M1346.4 353.5L1454.2 352.9M1454.2 352.9L1562.0 246.1M1562.0 246.1L1669.8 246.1" stroke="#12F0E8"/>
<path d="M1238.6 470.2L1346.4 535.0M1346.4 535.0L1454.2 540.3M1454.2 540.3L1562.0 358.2M1562.0 358.2L1669.8 379.2" stroke="#12F0E8"/>
<path d="M1238.6 265.7L1346.4 356.1M1346.4 356.1L1454.2 356.4M1454.2 356.4L1562.0 246.1M1562.0 246.1L1669.8 246.1" stroke="#12F0E8"/>
<path d="M1238.6 467.3L1346.4 532.4M1346.4 532.4L1454.2 537.3M1454.2 537.3L1562.0 354.7M1562.0 354.7L1669.8 376.9" stroke="#30FFC8"/>
<path d="M1238.6 269.8L1346.4 359.1M1346.4 359.1L1454.2 359.9M1454.2 359.9L1562.0 246.1M1562.0 246.1L1669.8 246.1" stroke="#30FFC8"/>
<path d="M1238.6 464.4L1346.4 529.7M1346.4 529.7L1454.2 534.4M1454.2 534.4L1562.0 351.2M1562.0 351.2L1669.8 374.5" stroke="#30FFC8"/>
<path d="M1238.6 273.8L1346.4 362.0M1346.4 362.0L1454.2 363.4M1454.2 363.4L1562.0 246.1M1562.0 246.1L1669.8 246.1" stroke="#30FFC8"/>
<path d="M1238.6 461.5L1346.4 527.1M1346.4 527.1L1454.2 531.5M1454.2 531.5L1562.0 347.7M1562.0 347.7L1669.8 372.2" stroke="#52FFA6"/>
<path d="M1238.6 277.9L1346.4 364.9M1346.4 364.9L1454.2 366.9M1454.2 366.9L1562.0 246.1M1562.0 246.1L1669.8 246.1" stroke="#52FFA6"/>
<path d="M1238.6 458.6L1346.4 524.5M1346.4 524.5L1454.2 528.6M1454.2 528.6L1562.0 344.2M1562.0 344.2L1669.8 369.8" stroke="#52FFA6"/>
<path d="M1238.6 282.0L1346.4 367.8M1346.4 367.8L1454.2 370.4M1454.2 370.4L1562.0 246.1M1562.0 246.1L1669.8 246.1" stroke="#52FFA6"/>
<path d="M1238.6 455.6L1346.4 521.9M1346.4 521.9L1454.2 525.7M1454.2 525.7L1562.0 340.7M1562.0 340.7L1669.8 367.5" stroke="#52FFA6"/>
<path d="M1238.6 286.1L1346.4 370.7M1346.4 370.7L1454.2 373.9M1454.2 373.9L1562.0 246.1M1562.0 246.1L1669.8 246.1" stroke="#76FF82"/>
<path d="M1238.6 452.7L1346.4 519.2M1346.4 519.2L1454.2 522.7M1454.2 522.7L1562.0 337.2M1562.0 337.2L1669.8 365.2" stroke="#76FF82"/>
<path d="M1238.6 290.8L1346.4 373.5M1346.4 373.5L1454.2 377.4M1454.2 377.4L1562.0 246.1M1562.0 246.1L1669.8 246.1" stroke="#76FF82"/>
<path d="M1238.6 449.2L1346.4 515.7M1346.4 515.7L1454.2 520.1M1454.2 520.1L1562.0 334.5M1562.0 334.5L1669.8 361.7" stroke="#76FF82"/>
<path d="M1238.6 296.0L1346.4 376.1M1346.4 376.1L1454.2 380.9M1454.2 380.9L1562.0 246.1M1562.0 246.1L1669.8 246.1" stroke="#9CFF5C"/>
<path d="M1238.6 445.7L1346.4 512.2M1346.4 512.2L1454.2 517.5M1454.2 517.5L1562.0 331.9M1562.0 331.9L1669.8 358.2" stroke="#9CFF5C"/>
<path d="M1238.6 301.3L1346.4 378.7M1346.4 378.7L1454.2 384.4M1454.2 384.4L1562.0 246.1M1562.0 246.1L1669.8 246.1" stroke="#9CFF5C"/>
<path d="M1238.6 442.2L1346.4 508.7M1346.4 508.7L1454.2 514.9M1454.2 514.9L1562.0 329.3M1562.0 329.3L1669.8 354.7" stroke="#9CFF5C"/>
<path d="M1238.6 306.5L1346.4 381.4M1346.4 381.4L1454.2 387.9M1454.2 387.9L1562.0 246.1M1562.0 246.1L1669.8 246.1" stroke="#C4FF36"/>
<path d="M1238.6 438.7L1346.4 505.2M1346.4 505.2L1454.2 512.2M1454.2 512.2L1562.0 326.7M1562.0 326.7L1669.8 351.2" stroke="#C4FF36"/>
<path d="M1238.6 310.5L1346.4 383.6M1346.4 383.6L1454.2 391.0M1454.2 391.0L1562.0 246.1M1562.0 246.1L1669.8 246.1" stroke="#C4FF36"/>
<path d="M1238.6 435.2L1346.4 501.7M1346.4 501.7L1454.2 510.5M1454.2 510.5L1562.0 322.3M1562.0 322.3L1669.8 347.7" stroke="#C4FF36"/>
<path d="M1238.6 313.1L1346.4 385.3M1346.4 385.3L1454.2 393.6M1454.2 393.6L1562.0 246.1M1562.0 246.1L1669.8 246.1" stroke="#ECFF14"/>
<path d="M1238.6 431.7L1346.4 498.2M1346.4 498.2L1454.2 508.7M1454.2 508.7L1562.0 317.9M1562.0 317.9L1669.8 344.2" stroke="#ECFF14"/>
<path d="M1238.6 315.7L1346.4 387.1M1346.4 387.1L1454.2 396.3M1454.2 396.3L1562.0 246.1M1562.0 246.1L1669.8 246.1" stroke="#ECFF14"/>
<path d="M1238.6 428.2L1346.4 494.7M1346.4 494.7L1454.2 507.0M1454.2 507.0L1562.0 313.5M1562.0 313.5L1669.8 340.7" stroke="#ECFF14"/>
<path d="M1238.6 318.3L1346.4 388.8M1346.4 388.8L1454.2 398.9M1454.2 398.9L1562.0 246.1M1562.0 246.1L1669.8 246.1" stroke="#FFF200"/>
<path d="M1238.6 424.7L1346.4 491.2M1346.4 491.2L1454.2 505.2M1454.2 505.2L1562.0 309.2M1562.0 309.2L1669.8 337.2" stroke="#FFF200"/>
<path d="M1238.6 320.7L1346.4 391.0M1346.4 391.0L1454.2 401.3M1454.2 401.3L1562.0 246.1M1562.0 246.1L1669.8 246.1" stroke="#FFF200"/>
<path d="M1238.6 423.1L1346.4 489.1M1346.4 489.1L1454.2 503.1M1454.2 503.1L1562.0 304.8M1562.0 304.8L1669.8 333.9" stroke="#FFF200"/>
<path d="M1238.6 322.9L1346.4 393.7M1346.4 393.7L1454.2 403.4M1454.2 403.4L1562.0 246.1M1562.0 246.1L1669.8 246.1" stroke="#FFD200"/>
<path d="M1238.6 421.5L1346.4 486.9M1346.4 486.9L1454.2 500.9M1454.2 500.9L1562.0 300.5M1562.0 300.5L1669.8 330.7" stroke="#FFD200"/>
<path d="M1238.6 325.0L1346.4 396.4M1346.4 396.4L1454.2 405.6M1454.2 405.6L1562.0 246.1M1562.0 246.1L1669.8 246.1" stroke="#FFD200"/>
<path d="M1238.6 419.9L1346.4 484.8M1346.4 484.8L1454.2 498.8M1454.2 498.8L1562.0 296.2M1562.0 296.2L1669.8 327.5" stroke="#FFD200"/>
<path d="M1238.6 327.2L1346.4 399.1M1346.4 399.1L1454.2 407.7M1454.2 407.7L1562.0 246.1M1562.0 246.1L1669.8 246.1" stroke="#FFD200"/>
<path d="M1238.6 418.2L1346.4 482.6M1346.4 482.6L1454.2 496.6M1454.2 496.6L1562.0 291.9M1562.0 291.9L1669.8 324.2" stroke="#FFAA00"/>
<path d="M1238.6 329.4L1346.4 401.8M1346.4 401.8L1454.2 409.9M1454.2 409.9L1562.0 246.1M1562.0 246.1L1669.8 246.1" stroke="#FFAA00"/>
<path d="M1238.6 416.6L1346.4 480.5M1346.4 480.5L1454.2 494.5M1454.2 494.5L1562.0 287.6M1562.0 287.6L1669.8 321.0" stroke="#FFAA00"/>
<path d="M1238.6 331.5L1346.4 404.5M1346.4 404.5L1454.2 412.0M1454.2 412.0L1562.0 246.1M1562.0 246.1L1669.8 246.1" stroke="#FFAA00"/>
<path d="M1238.6 415.0L1346.4 478.3M1346.4 478.3L1454.2 492.3M1454.2 492.3L1562.0 283.3M1562.0 283.3L1669.8 317.8" stroke="#FF8000"/>
<path d="M1238.6 333.7L1346.4 407.2M1346.4 407.2L1454.2 414.2M1454.2 414.2L1562.0 246.1M1562.0 246.1L1669.8 246.1" stroke="#FF8000"/>
<path d="M1238.6 413.0L1346.4 474.9M1346.4 474.9L1454.2 490.1M1454.2 490.1L1562.0 279.2M1562.0 279.2L1669.8 313.8" stroke="#FF8000"/>
<path d="M1238.6 339.1L1346.4 409.5M1346.4 409.5L1454.2 418.9M1454.2 418.9L1562.0 246.1M1562.0 246.1L1669.8 247.7" stroke="#FF8000"/>
<path d="M1238.6 410.7L1346.4 470.2M1346.4 470.2L1454.2 487.7M1454.2 487.7L1562.0 275.3M1562.0 275.3L1669.8 309.2" stroke="#FF5A00"/>
<path d="M1238.6 344.6L1346.4 411.9M1346.4 411.9L1454.2 423.5M1454.2 423.5L1562.0 246.1M1562.0 246.1L1669.8 249.2" stroke="#FF5A00"/>
<path d="M1238.6 408.4L1346.4 465.6M1346.4 465.6L1454.2 485.4M1454.2 485.4L1562.0 271.4M1562.0 271.4L1669.8 304.5" stroke="#FF5A00"/>
<path d="M1238.6 350.0L1346.4 414.2M1346.4 414.2L1454.2 428.2M1454.2 428.2L1562.0 246.1M1562.0 246.1L1669.8 250.8" stroke="#FF5A00"/>
<path d="M1238.6 406.0L1346.4 460.9M1346.4 460.9L1454.2 483.1M1454.2 483.1L1562.0 267.5M1562.0 267.5L1669.8 299.8" stroke="#FF3800"/>
<path d="M1238.6 355.5L1346.4 416.5M1346.4 416.5L1454.2 432.9M1454.2 432.9L1562.0 246.1M1562.0 246.1L1669.8 252.4" stroke="#FF3800"/>
<path d="M1238.6 403.7L1346.4 456.2M1346.4 456.2L1454.2 480.7M1454.2 480.7L1562.0 263.6M1562.0 263.6L1669.8 295.2" stroke="#FF3800"/>
<path d="M1238.6 360.8L1346.4 419.5M1346.4 419.5L1454.2 438.7M1454.2 438.7L1562.0 246.1M1562.0 246.1L1669.8 255.8" stroke="#FF3800"/>
<path d="M1238.6 397.6L1346.4 450.1M1346.4 450.1L1454.2 476.4M1454.2 476.4L1562.0 259.3M1562.0 259.3L1669.8 289.9" stroke="#F51E00"/>
<path d="M1238.6 366.1L1346.4 423.0M1346.4 423.0L1454.2 445.7M1454.2 445.7L1562.0 246.1M1562.0 246.1L1669.8 261.0" stroke="#F51E00"/>
<path d="M1238.6 391.4L1346.4 444.0M1346.4 444.0L1454.2 472.0M1454.2 472.0L1562.0 254.9M1562.0 254.9L1669.8 284.6" stroke="#F51E00"/>
<path d="M1238.6 371.3L1346.4 426.5M1346.4 426.5L1454.2 452.7M1454.2 452.7L1562.0 246.1M1562.0 246.1L1669.8 266.3" stroke="#F51E00"/>
<path d="M1238.6 385.3L1346.4 437.8M1346.4 437.8L1454.2 467.6M1454.2 467.6L1562.0 250.5M1562.0 250.5L1669.8 279.4" stroke="#DF0E00"/>
<path d="M1238.6 376.6L1346.4 430.0M1346.4 430.0L1454.2 459.7M1454.2 459.7L1562.0 246.1M1562.0 246.1L1669.8 271.5" stroke="#DF0E00"/>
<path d="M1238.6 379.2L1346.4 431.7M1346.4 431.7L1454.2 463.2M1454.2 463.2L1562.0 246.1M1562.0 246.1L1669.8 274.1" stroke="#DF0E00"/>
<path d="M1238.6 379.2L1346.4 431.7M1346.4 431.7L1454.2 463.2M1454.2 463.2L1562.0 246.1M1562.0 246.1L1669.8 274.1" stroke="#DF0E00"/>
</g>
<path d="M1130.8 174.9V649.4H1777.6" stroke="#000" stroke-width="2.7" fill="none"/>
<text x="1125.5" y="180.9" text-anchor="end" font-size="21.5" textLength="43" lengthAdjust="spacingAndGlyphs">1.20</text>
<text x="1125.5" y="233.4" text-anchor="end" font-size="21.5" textLength="43" lengthAdjust="spacingAndGlyphs">1.05</text>
<text x="1125.5" y="285.9" text-anchor="end" font-size="21.5" textLength="43" lengthAdjust="spacingAndGlyphs">0.90</text>
<text x="1125.5" y="338.5" text-anchor="end" font-size="21.5" textLength="43" lengthAdjust="spacingAndGlyphs">0.75</text>
<text x="1125.5" y="391.0" text-anchor="end" font-size="21.5" textLength="43" lengthAdjust="spacingAndGlyphs">0.60</text>
<text x="1125.5" y="443.5" text-anchor="end" font-size="21.5" textLength="43" lengthAdjust="spacingAndGlyphs">0.45</text>
<text x="1125.5" y="496.0" text-anchor="end" font-size="21.5" textLength="43" lengthAdjust="spacingAndGlyphs">0.30</text>
<text x="1125.5" y="548.6" text-anchor="end" font-size="21.5" textLength="43" lengthAdjust="spacingAndGlyphs">0.15</text>
<text x="1125.5" y="601.1" text-anchor="end" font-size="21.5" textLength="43" lengthAdjust="spacingAndGlyphs">0.00</text>
<text x="1125.5" y="653.6" text-anchor="end" font-size="21.5" textLength="51" lengthAdjust="spacingAndGlyphs">-0.15</text>
<path d="M1125.8 176.1H1130.8M1125.8 228.6H1130.8M1125.8 281.1H1130.8M1125.8 333.7H1130.8M1125.8 386.2H1130.8M1125.8 438.7H1130.8M1125.8 491.2H1130.8M1125.8 543.8H1130.8M1125.8 596.3H1130.8M1125.8 648.8H1130.8M1238.6 648.8V653.8M1346.4 648.8V653.8M1454.2 648.8V653.8M1562.0 648.8V653.8M1669.8 648.8V653.8" stroke="#000" stroke-width="2.4" fill="none"/>
<text x="1238.6" y="670.1" text-anchor="middle" font-size="21" textLength="29.8" lengthAdjust="spacingAndGlyphs">QC</text>
<text x="1346.4" y="670.1" text-anchor="middle" font-size="21" textLength="47.5" lengthAdjust="spacingAndGlyphs">MCT</text>
<text x="1454.2" y="670.1" text-anchor="middle" font-size="21" textLength="95.2" lengthAdjust="spacingAndGlyphs">MCT-NPS</text>
<text x="1562.0" y="670.1" text-anchor="middle" font-size="21" textLength="40" lengthAdjust="spacingAndGlyphs">NPS</text>
<text x="1669.8" y="670.1" text-anchor="middle" font-size="21" textLength="38" lengthAdjust="spacingAndGlyphs">Con</text>
<text x="1131.9" y="166.3" font-size="40" textLength="138.3" lengthAdjust="spacingAndGlyphs">Cluster</text>
<text x="1285.8" y="166.3" font-size="40" textLength="44.2" lengthAdjust="spacingAndGlyphs">#2</text>
<text x="1454.5" y="714.9" text-anchor="middle" font-size="28" textLength="147.2" lengthAdjust="spacingAndGlyphs">time groups</text>
<text transform="translate(1043.4,412.7) rotate(-90)" x="0" y="0" text-anchor="middle" font-size="27.5" textLength="317.8" lengthAdjust="spacingAndGlyphs">expression quantification</text>
<text x="1752.0" y="194.1" font-size="27" textLength="153.5" lengthAdjust="spacingAndGlyphs">membership</text>
<rect x="1792.0" y="518.08" width="73.7" height="12.42" fill="#000080"/>
<rect x="1792.0" y="505.97" width="73.7" height="12.42" fill="#0000A8"/>
<rect x="1792.0" y="493.85" width="73.7" height="12.42" fill="#0000D4"/>
<rect x="1792.0" y="481.74" width="73.7" height="12.42" fill="#0000FF"/>
<rect x="1792.0" y="469.62" width="73.7" height="12.42" fill="#0028FF"/>
<rect x="1792.0" y="457.50" width="73.7" height="12.42" fill="#0050FF"/>
<rect x="1792.0" y="445.39" width="73.7" height="12.42" fill="#0078FF"/>
<rect x="1792.0" y="433.27" width="73.7" height="12.42" fill="#009CFF"/>
<rect x="1792.0" y="421.16" width="73.7" height="12.42" fill="#00C0FF"/>
<rect x="1792.0" y="409.04" width="73.7" height="12.42" fill="#00DCF8"/>
<rect x="1792.0" y="396.92" width="73.7" height="12.42" fill="#12F0E8"/>
<rect x="1792.0" y="384.81" width="73.7" height="12.42" fill="#30FFC8"/>
<rect x="1792.0" y="372.69" width="73.7" height="12.42" fill="#52FFA6"/>
<rect x="1792.0" y="360.58" width="73.7" height="12.42" fill="#76FF82"/>
<rect x="1792.0" y="348.46" width="73.7" height="12.42" fill="#9CFF5C"/>
<rect x="1792.0" y="336.34" width="73.7" height="12.42" fill="#C4FF36"/>
<rect x="1792.0" y="324.23" width="73.7" height="12.42" fill="#ECFF14"/>
<rect x="1792.0" y="312.11" width="73.7" height="12.42" fill="#FFF200"/>
<rect x="1792.0" y="300.00" width="73.7" height="12.42" fill="#FFD200"/>
<rect x="1792.0" y="287.88" width="73.7" height="12.42" fill="#FFAA00"/>
<rect x="1792.0" y="275.76" width="73.7" height="12.42" fill="#FF8000"/>
<rect x="1792.0" y="263.65" width="73.7" height="12.42" fill="#FF5A00"/>
<rect x="1792.0" y="251.53" width="73.7" height="12.42" fill="#FF3800"/>
<rect x="1792.0" y="239.42" width="73.7" height="12.42" fill="#F51E00"/>
<rect x="1792.0" y="227.30" width="73.7" height="12.42" fill="#DF0E00"/>
<text x="1879.0" y="228.5" font-size="20.5" textLength="45" lengthAdjust="spacingAndGlyphs">0.82</text>
<text x="1880.0" y="262.2" font-size="18" style="font-weight:normal;fill:#737373" textLength="35.4" lengthAdjust="spacingAndGlyphs">0.75</text>
<text x="1880.0" y="295.8" font-size="18" style="font-weight:normal;fill:#737373" textLength="35.4" lengthAdjust="spacingAndGlyphs">0.68</text>
<text x="1880.0" y="329.5" font-size="18" style="font-weight:normal;fill:#737373" textLength="35.4" lengthAdjust="spacingAndGlyphs">0.60</text>
<text x="1880.0" y="363.1" font-size="18" style="font-weight:normal;fill:#737373" textLength="35.4" lengthAdjust="spacingAndGlyphs">0.53</text>
<text x="1880.0" y="396.8" font-size="18" style="font-weight:normal;fill:#737373" textLength="35.4" lengthAdjust="spacingAndGlyphs">0.45</text>
<text x="1880.0" y="430.4" font-size="18" style="font-weight:normal;fill:#737373" textLength="35.4" lengthAdjust="spacingAndGlyphs">0.38</text>
<text x="1880.0" y="464.1" font-size="18" style="font-weight:normal;fill:#737373" textLength="35.4" lengthAdjust="spacingAndGlyphs">0.30</text>
<text x="1880.0" y="497.7" font-size="18" style="font-weight:normal;fill:#737373" textLength="35.4" lengthAdjust="spacingAndGlyphs">0.23</text>
<text x="1879.0" y="531.4" font-size="20.5" textLength="45" lengthAdjust="spacingAndGlyphs">0.15</text>
<path d="M1871.5 227.3V530.2M1871.5 227.3H1876.0M1871.5 261.0H1876.0M1871.5 294.6H1876.0M1871.5 328.3H1876.0M1871.5 361.9H1876.0M1871.5 395.6H1876.0M1871.5 429.2H1876.0M1871.5 462.9H1876.0M1871.5 496.5H1876.0M1871.5 530.2H1876.0" stroke="#808080" stroke-width="1.4" fill="none"/>
<rect x="2055.8" y="176.1" width="646.8" height="472.7" fill="#F4F4F4"/>
<path d="M2055.8 176.1H2702.6M2055.8 228.6H2702.6M2055.8 281.1H2702.6M2055.8 333.7H2702.6M2055.8 386.2H2702.6M2055.8 438.7H2702.6M2055.8 491.2H2702.6M2055.8 543.8H2702.6M2055.8 596.3H2702.6M2055.8 648.8H2702.6" stroke="#FFFFFF" stroke-width="1.2" stroke-dasharray="1 1" fill="none"/>
<path d="M2163.6 176.1V648.8M2271.4 176.1V648.8M2379.2 176.1V648.8M2487.0 176.1V648.8M2594.8 176.1V648.8" stroke="#FFFFFF" stroke-width="1.2" stroke-dasharray="2.5 1.5" fill="none"/>
<clipPath id="clip3"><rect x="2055.8" y="176.1" width="646.8" height="472.7"/></clipPath>
<g clip-path="url(#clip3)" fill="none" stroke-width="15" stroke-linecap="butt">
<path d="M2163.6 256.6L2271.4 274.1M2271.4 274.1L2379.2 246.1M2379.2 246.1L2487.0 484.2M2487.0 484.2L2594.8 316.2" stroke="#000080"/>
<path d="M2163.6 281.1L2271.4 246.1M2271.4 246.1L2379.2 246.1M2379.2 246.1L2487.0 403.7M2487.0 403.7L2594.8 375.7" stroke="#000080"/>
<path d="M2163.6 281.1L2271.4 246.1M2271.4 246.1L2379.2 246.1M2379.2 246.1L2487.0 302.2M2487.0 302.2L2594.8 491.2" stroke="#0000A8"/>
<path d="M2163.6 246.1L2271.4 246.1M2271.4 246.1L2379.2 246.1M2379.2 246.1L2487.0 379.2M2487.0 379.2L2594.8 393.2" stroke="#0000A8"/>
<path d="M2163.6 253.8L2271.4 246.1M2271.4 246.1L2379.2 246.1M2379.2 246.1L2487.0 380.6M2487.0 380.6L2594.8 393.2" stroke="#0000D4"/>
<path d="M2163.6 281.1L2271.4 246.1M2271.4 246.1L2379.2 246.1M2379.2 246.1L2487.0 316.2M2487.0 316.2L2594.8 477.2" stroke="#0000D4"/>
<path d="M2163.6 261.5L2271.4 246.1M2271.4 246.1L2379.2 246.1M2379.2 246.1L2487.0 382.0M2487.0 382.0L2594.8 393.2" stroke="#0000D4"/>
<path d="M2163.6 557.8L2271.4 438.7M2271.4 438.7L2379.2 375.7M2379.2 375.7L2487.0 573.5M2487.0 573.5L2594.8 578.8" stroke="#0000D4"/>
<path d="M2163.6 269.2L2271.4 246.1M2271.4 246.1L2379.2 246.1M2379.2 246.1L2487.0 383.4M2487.0 383.4L2594.8 393.2" stroke="#0000FF"/>
<path d="M2163.6 281.1L2271.4 246.1M2271.4 246.1L2379.2 246.1M2379.2 246.1L2487.0 330.2M2487.0 330.2L2594.8 463.2" stroke="#0000FF"/>
<path d="M2163.6 555.7L2271.4 435.9M2271.4 435.9L2379.2 372.2M2379.2 372.2L2487.0 573.2M2487.0 573.2L2594.8 578.8" stroke="#0000FF"/>
<path d="M2163.6 276.9L2271.4 246.1M2271.4 246.1L2379.2 246.1M2379.2 246.1L2487.0 384.8M2487.0 384.8L2594.8 393.2" stroke="#0000FF"/>
<path d="M2163.6 553.6L2271.4 433.1M2271.4 433.1L2379.2 368.7M2379.2 368.7L2487.0 572.8M2487.0 572.8L2594.8 578.8" stroke="#0000FF"/>
<path d="M2163.6 284.6L2271.4 246.1M2271.4 246.1L2379.2 246.1M2379.2 246.1L2487.0 386.2M2487.0 386.2L2594.8 393.2" stroke="#0028FF"/>
<path d="M2163.6 551.5L2271.4 430.3M2271.4 430.3L2379.2 365.2M2379.2 365.2L2487.0 572.5M2487.0 572.5L2594.8 578.8" stroke="#0028FF"/>
<path d="M2163.6 281.1L2271.4 246.1M2271.4 246.1L2379.2 246.1M2379.2 246.1L2487.0 344.2M2487.0 344.2L2594.8 449.2" stroke="#0028FF"/>
<path d="M2163.6 287.0L2271.4 246.1M2271.4 246.1L2379.2 246.1M2379.2 246.1L2487.0 387.1M2487.0 387.1L2594.8 393.7" stroke="#0028FF"/>
<path d="M2163.6 549.4L2271.4 427.5M2271.4 427.5L2379.2 361.7M2379.2 361.7L2487.0 572.1M2487.0 572.1L2594.8 578.8" stroke="#0028FF"/>
<path d="M2163.6 289.3L2271.4 246.1M2271.4 246.1L2379.2 246.1M2379.2 246.1L2487.0 388.1M2487.0 388.1L2594.8 394.1" stroke="#0050FF"/>
<path d="M2163.6 547.3L2271.4 424.7M2271.4 424.7L2379.2 358.2M2379.2 358.2L2487.0 571.8M2487.0 571.8L2594.8 578.8" stroke="#0050FF"/>
<path d="M2163.6 281.1L2271.4 246.1M2271.4 246.1L2379.2 246.1M2379.2 246.1L2487.0 358.2M2487.0 358.2L2594.8 435.2" stroke="#0050FF"/>
<path d="M2163.6 291.6L2271.4 246.1M2271.4 246.1L2379.2 246.1M2379.2 246.1L2487.0 389.0M2487.0 389.0L2594.8 394.6" stroke="#0050FF"/>
<path d="M2163.6 544.5L2271.4 421.2M2271.4 421.2L2379.2 355.4M2379.2 355.4L2487.0 571.8M2487.0 571.8L2594.8 578.1" stroke="#0050FF"/>
<path d="M2163.6 294.0L2271.4 246.1M2271.4 246.1L2379.2 246.1M2379.2 246.1L2487.0 389.9M2487.0 389.9L2594.8 395.1" stroke="#0078FF"/>
<path d="M2163.6 281.1L2271.4 246.1M2271.4 246.1L2379.2 246.1M2379.2 246.1L2487.0 372.2M2487.0 372.2L2594.8 421.2" stroke="#0078FF"/>
<path d="M2163.6 541.7L2271.4 417.7M2271.4 417.7L2379.2 352.6M2379.2 352.6L2487.0 571.8M2487.0 571.8L2594.8 577.4" stroke="#0078FF"/>
<path d="M2163.6 296.3L2271.4 246.1M2271.4 246.1L2379.2 246.1M2379.2 246.1L2487.0 390.9M2487.0 390.9L2594.8 395.5" stroke="#0078FF"/>
<path d="M2163.6 538.9L2271.4 414.2M2271.4 414.2L2379.2 349.8M2379.2 349.8L2487.0 571.8M2487.0 571.8L2594.8 576.7" stroke="#0078FF"/>
<path d="M2163.6 298.7L2271.4 246.1M2271.4 246.1L2379.2 246.1M2379.2 246.1L2487.0 391.8M2487.0 391.8L2594.8 396.0" stroke="#0078FF"/>
<path d="M2163.6 536.1L2271.4 410.7M2271.4 410.7L2379.2 347.0M2379.2 347.0L2487.0 571.8M2487.0 571.8L2594.8 576.0" stroke="#009CFF"/>
<path d="M2163.6 301.0L2271.4 246.1M2271.4 246.1L2379.2 246.1M2379.2 246.1L2487.0 392.7M2487.0 392.7L2594.8 396.5" stroke="#009CFF"/>
<path d="M2163.6 533.3L2271.4 407.2M2271.4 407.2L2379.2 344.2M2379.2 344.2L2487.0 571.8M2487.0 571.8L2594.8 575.3" stroke="#009CFF"/>
<path d="M2163.6 304.2L2271.4 246.1M2271.4 246.1L2379.2 246.1M2379.2 246.1L2487.0 394.7M2487.0 394.7L2594.8 397.3" stroke="#009CFF"/>
<path d="M2163.6 530.3L2271.4 403.7M2271.4 403.7L2379.2 340.7M2379.2 340.7L2487.0 570.0M2487.0 570.0L2594.8 574.1" stroke="#00C0FF"/>
<path d="M2163.6 308.3L2271.4 246.1M2271.4 246.1L2379.2 246.1M2379.2 246.1L2487.0 397.6M2487.0 397.6L2594.8 398.4" stroke="#00C0FF"/>
<path d="M2163.6 527.4L2271.4 400.2M2271.4 400.2L2379.2 337.2M2379.2 337.2L2487.0 568.3M2487.0 568.3L2594.8 572.9" stroke="#00C0FF"/>
<path d="M2163.6 312.4L2271.4 246.1M2271.4 246.1L2379.2 246.1M2379.2 246.1L2487.0 400.5M2487.0 400.5L2594.8 399.6" stroke="#00C0FF"/>
<path d="M2163.6 524.5L2271.4 396.7M2271.4 396.7L2379.2 333.7M2379.2 333.7L2487.0 566.5M2487.0 566.5L2594.8 571.8" stroke="#00DCF8"/>
<path d="M2163.6 316.5L2271.4 246.1M2271.4 246.1L2379.2 246.1M2379.2 246.1L2487.0 403.4M2487.0 403.4L2594.8 400.8" stroke="#00DCF8"/>
<path d="M2163.6 521.6L2271.4 393.2M2271.4 393.2L2379.2 330.2M2379.2 330.2L2487.0 564.8M2487.0 564.8L2594.8 570.6" stroke="#00DCF8"/>
<path d="M2163.6 320.5L2271.4 246.1M2271.4 246.1L2379.2 246.1M2379.2 246.1L2487.0 406.3M2487.0 406.3L2594.8 401.9" stroke="#00DCF8"/>
<path d="M2163.6 518.7L2271.4 389.7M2271.4 389.7L2379.2 326.7M2379.2 326.7L2487.0 563.0M2487.0 563.0L2594.8 569.4" stroke="#12F0E8"/>
<path d="M2163.6 324.6L2271.4 246.1M2271.4 246.1L2379.2 246.1M2379.2 246.1L2487.0 409.2M2487.0 409.2L2594.8 403.1" stroke="#12F0E8"/>
<path d="M2163.6 515.7L2271.4 386.2M2271.4 386.2L2379.2 323.2M2379.2 323.2L2487.0 561.3M2487.0 561.3L2594.8 568.3" stroke="#12F0E8"/>
<path d="M2163.6 327.8L2271.4 246.1M2271.4 246.1L2379.2 246.1M2379.2 246.1L2487.0 411.9M2487.0 411.9L2594.8 404.3" stroke="#12F0E8"/>
<path d="M2163.6 512.2L2271.4 383.3M2271.4 383.3L2379.2 320.8M2379.2 320.8L2487.0 558.9M2487.0 558.9L2594.8 567.1" stroke="#30FFC8"/>
<path d="M2163.6 330.2L2271.4 246.1M2271.4 246.1L2379.2 246.1M2379.2 246.1L2487.0 414.2M2487.0 414.2L2594.8 405.4" stroke="#30FFC8"/>
<path d="M2163.6 508.7L2271.4 380.4M2271.4 380.4L2379.2 318.5M2379.2 318.5L2487.0 556.6M2487.0 556.6L2594.8 565.9" stroke="#30FFC8"/>
<path d="M2163.6 332.5L2271.4 246.1M2271.4 246.1L2379.2 246.1M2379.2 246.1L2487.0 416.5M2487.0 416.5L2594.8 406.6" stroke="#30FFC8"/>
<path d="M2163.6 505.2L2271.4 377.4M2271.4 377.4L2379.2 316.2M2379.2 316.2L2487.0 554.3M2487.0 554.3L2594.8 564.8" stroke="#52FFA6"/>
<path d="M2163.6 334.8L2271.4 246.1M2271.4 246.1L2379.2 246.1M2379.2 246.1L2487.0 418.9M2487.0 418.9L2594.8 407.8" stroke="#52FFA6"/>
<path d="M2163.6 501.7L2271.4 374.5M2271.4 374.5L2379.2 313.8M2379.2 313.8L2487.0 551.9M2487.0 551.9L2594.8 563.6" stroke="#52FFA6"/>
<path d="M2163.6 337.2L2271.4 246.1M2271.4 246.1L2379.2 246.1M2379.2 246.1L2487.0 421.2M2487.0 421.2L2594.8 408.9" stroke="#52FFA6"/>
<path d="M2163.6 498.2L2271.4 371.6M2271.4 371.6L2379.2 311.5M2379.2 311.5L2487.0 549.6M2487.0 549.6L2594.8 562.4" stroke="#52FFA6"/>
<path d="M2163.6 339.5L2271.4 246.1M2271.4 246.1L2379.2 246.1M2379.2 246.1L2487.0 423.5M2487.0 423.5L2594.8 410.1" stroke="#76FF82"/>
<path d="M2163.6 494.7L2271.4 368.7M2271.4 368.7L2379.2 309.2M2379.2 309.2L2487.0 547.3M2487.0 547.3L2594.8 561.3" stroke="#76FF82"/>
<path d="M2163.6 341.3L2271.4 246.1M2271.4 246.1L2379.2 246.1M2379.2 246.1L2487.0 425.6M2487.0 425.6L2594.8 412.0" stroke="#76FF82"/>
<path d="M2163.6 492.1L2271.4 366.9M2271.4 366.9L2379.2 307.0M2379.2 307.0L2487.0 546.2M2487.0 546.2L2594.8 559.5" stroke="#76FF82"/>
<path d="M2163.6 342.6L2271.4 246.1M2271.4 246.1L2379.2 246.1M2379.2 246.1L2487.0 427.3M2487.0 427.3L2594.8 414.6" stroke="#9CFF5C"/>
<path d="M2163.6 489.5L2271.4 365.2M2271.4 365.2L2379.2 304.8M2379.2 304.8L2487.0 545.1M2487.0 545.1L2594.8 557.8" stroke="#9CFF5C"/>
<path d="M2163.6 344.0L2271.4 246.1M2271.4 246.1L2379.2 246.1M2379.2 246.1L2487.0 429.1M2487.0 429.1L2594.8 417.3" stroke="#9CFF5C"/>
<path d="M2163.6 486.9L2271.4 363.4M2271.4 363.4L2379.2 302.6M2379.2 302.6L2487.0 544.0M2487.0 544.0L2594.8 556.0" stroke="#9CFF5C"/>
<path d="M2163.6 345.3L2271.4 246.1M2271.4 246.1L2379.2 246.1M2379.2 246.1L2487.0 430.8M2487.0 430.8L2594.8 419.9" stroke="#C4FF36"/>
<path d="M2163.6 484.2L2271.4 361.7M2271.4 361.7L2379.2 300.4M2379.2 300.4L2487.0 542.9M2487.0 542.9L2594.8 554.3" stroke="#C4FF36"/>
<path d="M2163.6 346.6L2271.4 246.1M2271.4 246.1L2379.2 246.1M2379.2 246.1L2487.0 432.6M2487.0 432.6L2594.8 422.5" stroke="#C4FF36"/>
<path d="M2163.6 481.6L2271.4 359.9M2271.4 359.9L2379.2 298.2M2379.2 298.2L2487.0 541.8M2487.0 541.8L2594.8 552.5" stroke="#C4FF36"/>
<path d="M2163.6 347.9L2271.4 246.1M2271.4 246.1L2379.2 246.1M2379.2 246.1L2487.0 434.3M2487.0 434.3L2594.8 425.1" stroke="#ECFF14"/>
<path d="M2163.6 479.0L2271.4 358.2M2271.4 358.2L2379.2 296.0M2379.2 296.0L2487.0 540.7M2487.0 540.7L2594.8 550.8" stroke="#ECFF14"/>
<path d="M2163.6 349.2L2271.4 246.1M2271.4 246.1L2379.2 246.1M2379.2 246.1L2487.0 436.1M2487.0 436.1L2594.8 427.8" stroke="#ECFF14"/>
<path d="M2163.6 476.4L2271.4 356.4M2271.4 356.4L2379.2 293.8M2379.2 293.8L2487.0 539.6M2487.0 539.6L2594.8 549.0" stroke="#ECFF14"/>
<path d="M2163.6 350.5L2271.4 246.1M2271.4 246.1L2379.2 246.1M2379.2 246.1L2487.0 437.8M2487.0 437.8L2594.8 430.4" stroke="#FFF200"/>
<path d="M2163.6 473.7L2271.4 354.7M2271.4 354.7L2379.2 291.6M2379.2 291.6L2487.0 538.5M2487.0 538.5L2594.8 547.3" stroke="#FFF200"/>
<path d="M2163.6 352.8L2271.4 246.1M2271.4 246.1L2379.2 246.1M2379.2 246.1L2487.0 439.2M2487.0 439.2L2594.8 432.8" stroke="#FFF200"/>
<path d="M2163.6 469.5L2271.4 351.9M2271.4 351.9L2379.2 287.4M2379.2 287.4L2487.0 532.2M2487.0 532.2L2594.8 538.9" stroke="#FFF200"/>
<path d="M2163.6 356.0L2271.4 246.1M2271.4 246.1L2379.2 246.1M2379.2 246.1L2487.0 440.3M2487.0 440.3L2594.8 434.9" stroke="#FFD200"/>
<path d="M2163.6 465.3L2271.4 349.1M2271.4 349.1L2379.2 283.2M2379.2 283.2L2487.0 525.9M2487.0 525.9L2594.8 530.4" stroke="#FFD200"/>
<path d="M2163.6 359.3L2271.4 246.1M2271.4 246.1L2379.2 246.1M2379.2 246.1L2487.0 441.4M2487.0 441.4L2594.8 437.1" stroke="#FFD200"/>
<path d="M2163.6 461.5L2271.4 346.8M2271.4 346.8L2379.2 279.0M2379.2 279.0L2487.0 520.1M2487.0 520.1L2594.8 523.6" stroke="#FFD200"/>
<path d="M2163.6 362.5L2271.4 246.1M2271.4 246.1L2379.2 246.1M2379.2 246.1L2487.0 442.5M2487.0 442.5L2594.8 439.2" stroke="#FFD200"/>
<path d="M2163.6 458.0L2271.4 345.0M2271.4 345.0L2379.2 274.6M2379.2 274.6L2487.0 514.9M2487.0 514.9L2594.8 518.4" stroke="#FFAA00"/>
<path d="M2163.6 365.7L2271.4 246.1M2271.4 246.1L2379.2 246.1M2379.2 246.1L2487.0 443.6M2487.0 443.6L2594.8 441.4" stroke="#FFAA00"/>
<path d="M2163.6 454.5L2271.4 343.3M2271.4 343.3L2379.2 270.2M2379.2 270.2L2487.0 509.6M2487.0 509.6L2594.8 513.1" stroke="#FFAA00"/>
<path d="M2163.6 369.0L2271.4 246.1M2271.4 246.1L2379.2 246.1M2379.2 246.1L2487.0 444.6M2487.0 444.6L2594.8 443.6" stroke="#FFAA00"/>
<path d="M2163.6 451.0L2271.4 341.5M2271.4 341.5L2379.2 265.8M2379.2 265.8L2487.0 504.4M2487.0 504.4L2594.8 507.9" stroke="#FF8000"/>
<path d="M2163.6 372.2L2271.4 246.1M2271.4 246.1L2379.2 246.1M2379.2 246.1L2487.0 445.7M2487.0 445.7L2594.8 445.7" stroke="#FF8000"/>
<path d="M2163.6 447.7L2271.4 339.9M2271.4 339.9L2379.2 262.5M2379.2 262.5L2487.0 500.2M2487.0 500.2L2594.8 504.1" stroke="#FF8000"/>
<path d="M2163.6 377.6L2271.4 255.5M2271.4 255.5L2379.2 246.1M2379.2 246.1L2487.0 447.3M2487.0 447.3L2594.8 449.6" stroke="#FF8000"/>
<path d="M2163.6 444.5L2271.4 338.3M2271.4 338.3L2379.2 260.1M2379.2 260.1L2487.0 497.1M2487.0 497.1L2594.8 501.7" stroke="#FF5A00"/>
<path d="M2163.6 383.1L2271.4 264.8M2271.4 264.8L2379.2 246.1M2379.2 246.1L2487.0 448.8M2487.0 448.8L2594.8 453.5" stroke="#FF5A00"/>
<path d="M2163.6 441.4L2271.4 336.8M2271.4 336.8L2379.2 257.8M2379.2 257.8L2487.0 494.0M2487.0 494.0L2594.8 499.4" stroke="#FF5A00"/>
<path d="M2163.6 388.5L2271.4 274.1M2271.4 274.1L2379.2 246.1M2379.2 246.1L2487.0 450.4M2487.0 450.4L2594.8 457.4" stroke="#FF5A00"/>
<path d="M2163.6 438.3L2271.4 335.2M2271.4 335.2L2379.2 255.5M2379.2 255.5L2487.0 490.8M2487.0 490.8L2594.8 497.1" stroke="#FF3800"/>
<path d="M2163.6 394.0L2271.4 283.5M2271.4 283.5L2379.2 246.1M2379.2 246.1L2487.0 451.9M2487.0 451.9L2594.8 461.3" stroke="#FF3800"/>
<path d="M2163.6 435.2L2271.4 333.7M2271.4 333.7L2379.2 253.1M2379.2 253.1L2487.0 487.7M2487.0 487.7L2594.8 494.7" stroke="#FF3800"/>
<path d="M2163.6 399.3L2271.4 293.4M2271.4 293.4L2379.2 246.1M2379.2 246.1L2487.0 454.5M2487.0 454.5L2594.8 466.3" stroke="#FF3800"/>
<path d="M2163.6 430.8L2271.4 332.8M2271.4 332.8L2379.2 251.4M2379.2 251.4L2487.0 482.5M2487.0 482.5L2594.8 493.0" stroke="#F51E00"/>
<path d="M2163.6 404.6L2271.4 303.9M2271.4 303.9L2379.2 246.1M2379.2 246.1L2487.0 458.0M2487.0 458.0L2594.8 472.4" stroke="#F51E00"/>
<path d="M2163.6 426.5L2271.4 331.9M2271.4 331.9L2379.2 249.6M2379.2 249.6L2487.0 477.2M2487.0 477.2L2594.8 491.2" stroke="#F51E00"/>
<path d="M2163.6 409.8L2271.4 314.4M2271.4 314.4L2379.2 246.1M2379.2 246.1L2487.0 461.5M2487.0 461.5L2594.8 478.5" stroke="#F51E00"/>
<path d="M2163.6 422.1L2271.4 331.0M2271.4 331.0L2379.2 247.9M2379.2 247.9L2487.0 472.0M2487.0 472.0L2594.8 489.5" stroke="#DF0E00"/>
<path d="M2163.6 415.1L2271.4 324.9M2271.4 324.9L2379.2 246.1M2379.2 246.1L2487.0 465.0M2487.0 465.0L2594.8 484.7" stroke="#DF0E00"/>
<path d="M2163.6 417.7L2271.4 330.2M2271.4 330.2L2379.2 246.1M2379.2 246.1L2487.0 466.7M2487.0 466.7L2594.8 487.7" stroke="#DF0E00"/>
<path d="M2163.6 417.7L2271.4 330.2M2271.4 330.2L2379.2 246.1M2379.2 246.1L2487.0 466.7M2487.0 466.7L2594.8 487.7" stroke="#DF0E00"/>
</g>
<path d="M2055.8 174.9V649.4H2702.6" stroke="#000" stroke-width="2.7" fill="none"/>
<text x="2050.5" y="180.9" text-anchor="end" font-size="21.5" textLength="43" lengthAdjust="spacingAndGlyphs">1.20</text>
<text x="2050.5" y="233.4" text-anchor="end" font-size="21.5" textLength="43" lengthAdjust="spacingAndGlyphs">1.05</text>
<text x="2050.5" y="285.9" text-anchor="end" font-size="21.5" textLength="43" lengthAdjust="spacingAndGlyphs">0.90</text>
<text x="2050.5" y="338.5" text-anchor="end" font-size="21.5" textLength="43" lengthAdjust="spacingAndGlyphs">0.75</text>
<text x="2050.5" y="391.0" text-anchor="end" font-size="21.5" textLength="43" lengthAdjust="spacingAndGlyphs">0.60</text>
<text x="2050.5" y="443.5" text-anchor="end" font-size="21.5" textLength="43" lengthAdjust="spacingAndGlyphs">0.45</text>
<text x="2050.5" y="496.0" text-anchor="end" font-size="21.5" textLength="43" lengthAdjust="spacingAndGlyphs">0.30</text>
<text x="2050.5" y="548.6" text-anchor="end" font-size="21.5" textLength="43" lengthAdjust="spacingAndGlyphs">0.15</text>
<text x="2050.5" y="601.1" text-anchor="end" font-size="21.5" textLength="43" lengthAdjust="spacingAndGlyphs">0.00</text>
<text x="2050.5" y="653.6" text-anchor="end" font-size="21.5" textLength="51" lengthAdjust="spacingAndGlyphs">-0.15</text>
<path d="M2050.8 176.1H2055.8M2050.8 228.6H2055.8M2050.8 281.1H2055.8M2050.8 333.7H2055.8M2050.8 386.2H2055.8M2050.8 438.7H2055.8M2050.8 491.2H2055.8M2050.8 543.8H2055.8M2050.8 596.3H2055.8M2050.8 648.8H2055.8M2163.6 648.8V653.8M2271.4 648.8V653.8M2379.2 648.8V653.8M2487.0 648.8V653.8M2594.8 648.8V653.8" stroke="#000" stroke-width="2.4" fill="none"/>
<text x="2163.6" y="670.1" text-anchor="middle" font-size="21" textLength="29.8" lengthAdjust="spacingAndGlyphs">QC</text>
<text x="2271.4" y="670.1" text-anchor="middle" font-size="21" textLength="47.5" lengthAdjust="spacingAndGlyphs">MCT</text>
<text x="2379.2" y="670.1" text-anchor="middle" font-size="21" textLength="95.2" lengthAdjust="spacingAndGlyphs">MCT-NPS</text>
<text x="2487.0" y="670.1" text-anchor="middle" font-size="21" textLength="40" lengthAdjust="spacingAndGlyphs">NPS</text>
<text x="2594.8" y="670.1" text-anchor="middle" font-size="21" textLength="38" lengthAdjust="spacingAndGlyphs">Con</text>
<text x="2056.9" y="166.3" font-size="40" textLength="138.3" lengthAdjust="spacingAndGlyphs">Cluster</text>
<text x="2210.8" y="166.3" font-size="40" textLength="44.2" lengthAdjust="spacingAndGlyphs">#3</text>
<text x="2379.5" y="714.9" text-anchor="middle" font-size="28" textLength="147.2" lengthAdjust="spacingAndGlyphs">time groups</text>
<text transform="translate(1968.4,412.7) rotate(-90)" x="0" y="0" text-anchor="middle" font-size="27.5" textLength="317.8" lengthAdjust="spacingAndGlyphs">expression quantification</text>
<text x="2677.0" y="194.1" font-size="27" textLength="153.5" lengthAdjust="spacingAndGlyphs">membership</text>
<rect x="2717.0" y="518.08" width="73.7" height="12.42" fill="#000080"/>
<rect x="2717.0" y="505.97" width="73.7" height="12.42" fill="#0000A8"/>
<rect x="2717.0" y="493.85" width="73.7" height="12.42" fill="#0000D4"/>
<rect x="2717.0" y="481.74" width="73.7" height="12.42" fill="#0000FF"/>
<rect x="2717.0" y="469.62" width="73.7" height="12.42" fill="#0028FF"/>
<rect x="2717.0" y="457.50" width="73.7" height="12.42" fill="#0050FF"/>
<rect x="2717.0" y="445.39" width="73.7" height="12.42" fill="#0078FF"/>
<rect x="2717.0" y="433.27" width="73.7" height="12.42" fill="#009CFF"/>
<rect x="2717.0" y="421.16" width="73.7" height="12.42" fill="#00C0FF"/>
<rect x="2717.0" y="409.04" width="73.7" height="12.42" fill="#00DCF8"/>
<rect x="2717.0" y="396.92" width="73.7" height="12.42" fill="#12F0E8"/>
<rect x="2717.0" y="384.81" width="73.7" height="12.42" fill="#30FFC8"/>
<rect x="2717.0" y="372.69" width="73.7" height="12.42" fill="#52FFA6"/>
<rect x="2717.0" y="360.58" width="73.7" height="12.42" fill="#76FF82"/>
<rect x="2717.0" y="348.46" width="73.7" height="12.42" fill="#9CFF5C"/>
<rect x="2717.0" y="336.34" width="73.7" height="12.42" fill="#C4FF36"/>
<rect x="2717.0" y="324.23" width="73.7" height="12.42" fill="#ECFF14"/>
<rect x="2717.0" y="312.11" width="73.7" height="12.42" fill="#FFF200"/>
<rect x="2717.0" y="300.00" width="73.7" height="12.42" fill="#FFD200"/>
<rect x="2717.0" y="287.88" width="73.7" height="12.42" fill="#FFAA00"/>
<rect x="2717.0" y="275.76" width="73.7" height="12.42" fill="#FF8000"/>
<rect x="2717.0" y="263.65" width="73.7" height="12.42" fill="#FF5A00"/>
<rect x="2717.0" y="251.53" width="73.7" height="12.42" fill="#FF3800"/>
<rect x="2717.0" y="239.42" width="73.7" height="12.42" fill="#F51E00"/>
<rect x="2717.0" y="227.30" width="73.7" height="12.42" fill="#DF0E00"/>
<text x="2804.0" y="228.5" font-size="20.5" textLength="45" lengthAdjust="spacingAndGlyphs">0.82</text>
<text x="2805.0" y="262.2" font-size="18" style="font-weight:normal;fill:#737373" textLength="35.4" lengthAdjust="spacingAndGlyphs">0.75</text>
<text x="2805.0" y="295.8" font-size="18" style="font-weight:normal;fill:#737373" textLength="35.4" lengthAdjust="spacingAndGlyphs">0.68</text>
<text x="2805.0" y="329.5" font-size="18" style="font-weight:normal;fill:#737373" textLength="35.4" lengthAdjust="spacingAndGlyphs">0.60</text>
<text x="2805.0" y="363.1" font-size="18" style="font-weight:normal;fill:#737373" textLength="35.4" lengthAdjust="spacingAndGlyphs">0.53</text>
<text x="2805.0" y="396.8" font-size="18" style="font-weight:normal;fill:#737373" textLength="35.4" lengthAdjust="spacingAndGlyphs">0.45</text>
<text x="2805.0" y="430.4" font-size="18" style="font-weight:normal;fill:#737373" textLength="35.4" lengthAdjust="spacingAndGlyphs">0.38</text>
<text x="2805.0" y="464.1" font-size="18" style="font-weight:normal;fill:#737373" textLength="35.4" lengthAdjust="spacingAndGlyphs">0.30</text>
<text x="2805.0" y="497.7" font-size="18" style="font-weight:normal;fill:#737373" textLength="35.4" lengthAdjust="spacingAndGlyphs">0.23</text>
<text x="2804.0" y="531.4" font-size="20.5" textLength="45" lengthAdjust="spacingAndGlyphs">0.15</text>
<path d="M2796.5 227.3V530.2M2796.5 227.3H2801.0M2796.5 261.0H2801.0M2796.5 294.6H2801.0M2796.5 328.3H2801.0M2796.5 361.9H2801.0M2796.5 395.6H2801.0M2796.5 429.2H2801.0M2796.5 462.9H2801.0M2796.5 496.5H2801.0M2796.5 530.2H2801.0" stroke="#808080" stroke-width="1.4" fill="none"/>
<rect x="205.8" y="851.1" width="646.8" height="472.7" fill="#F4F4F4"/>
<path d="M205.8 851.1H852.6M205.8 903.6H852.6M205.8 956.1H852.6M205.8 1008.7H852.6M205.8 1061.2H852.6M205.8 1113.7H852.6M205.8 1166.2H852.6M205.8 1218.8H852.6M205.8 1271.3H852.6M205.8 1323.8H852.6" stroke="#FFFFFF" stroke-width="1.2" stroke-dasharray="1 1" fill="none"/>
<path d="M313.6 851.1V1323.8M421.4 851.1V1323.8M529.2 851.1V1323.8M637.0 851.1V1323.8M744.8 851.1V1323.8" stroke="#FFFFFF" stroke-width="1.2" stroke-dasharray="2.5 1.5" fill="none"/>
<clipPath id="clip4"><rect x="205.8" y="851.1" width="646.8" height="472.7"/></clipPath>
<g clip-path="url(#clip4)" fill="none" stroke-width="15" stroke-linecap="butt">
<path d="M313.6 945.6L421.4 1155.7M421.4 1155.7L529.2 1131.2M529.2 1131.2L637.0 1061.2M637.0 1061.2L744.8 921.1" stroke="#000080"/>
<path d="M313.6 1117.2L421.4 1019.2M421.4 1019.2L529.2 1208.3M529.2 1208.3L637.0 1096.2M637.0 1096.2L744.8 921.1" stroke="#000080"/>
<path d="M313.6 1166.2L421.4 1185.5M421.4 1185.5L529.2 1036.7M529.2 1036.7L637.0 1085.7M637.0 1085.7L744.8 921.1" stroke="#000080"/>
<path d="M313.6 1106.7L421.4 1029.7M421.4 1029.7L529.2 1201.2M529.2 1201.2L637.0 1089.2M637.0 1089.2L744.8 921.1" stroke="#0000A8"/>
<path d="M313.6 1001.7L421.4 1099.7M421.4 1099.7L529.2 1148.7M529.2 1148.7L637.0 991.2M637.0 991.2L744.8 921.1" stroke="#0000A8"/>
<path d="M313.6 1162.7L421.4 1180.2M421.4 1180.2L529.2 1050.7M529.2 1050.7L637.0 1075.2M637.0 1075.2L744.8 921.1" stroke="#0000A8"/>
<path d="M313.6 1096.2L421.4 1131.2M421.4 1131.2L529.2 1113.7M529.2 1113.7L637.0 949.1M637.0 949.1L744.8 921.1" stroke="#0000D4"/>
<path d="M313.6 1096.2L421.4 1040.2M421.4 1040.2L529.2 1194.2M529.2 1194.2L637.0 1082.2M637.0 1082.2L744.8 921.1" stroke="#0000D4"/>
<path d="M313.6 1019.2L421.4 1078.7M421.4 1078.7L529.2 1138.2M529.2 1138.2L637.0 963.1M637.0 963.1L744.8 921.1" stroke="#0000D4"/>
<path d="M313.6 1269.5L421.4 1273.0M421.4 1273.0L529.2 1274.8M529.2 1274.8L637.0 1260.8M637.0 1260.8L744.8 921.1" stroke="#0000D4"/>
<path d="M313.6 1096.2L421.4 1131.2M421.4 1131.2L529.2 1124.2M529.2 1124.2L637.0 956.1M637.0 956.1L744.8 921.1" stroke="#0000D4"/>
<path d="M313.6 1159.2L421.4 1173.2M421.4 1173.2L529.2 1064.7M529.2 1064.7L637.0 1061.2M637.0 1061.2L744.8 921.1" stroke="#0000D4"/>
<path d="M313.6 1085.7L421.4 1050.7M421.4 1050.7L529.2 1187.2M529.2 1187.2L637.0 1075.2M637.0 1075.2L744.8 921.1" stroke="#0000FF"/>
<path d="M313.6 1019.2L421.4 1078.7M421.4 1078.7L529.2 1138.2M529.2 1138.2L637.0 963.1M637.0 963.1L744.8 921.1" stroke="#0000FF"/>
<path d="M313.6 1269.5L421.4 1273.0M421.4 1273.0L529.2 1274.8M529.2 1274.8L637.0 1260.8M637.0 1260.8L744.8 921.1" stroke="#0000FF"/>
<path d="M313.6 1019.2L421.4 1078.7M421.4 1078.7L529.2 1138.2M529.2 1138.2L637.0 963.1M637.0 963.1L744.8 921.1" stroke="#0000FF"/>
<path d="M313.6 1269.5L421.4 1273.0M421.4 1273.0L529.2 1274.8M529.2 1274.8L637.0 1260.8M637.0 1260.8L744.8 921.1" stroke="#0000FF"/>
<path d="M313.6 1155.7L421.4 1166.2M421.4 1166.2L529.2 1078.7M529.2 1078.7L637.0 1047.2M637.0 1047.2L744.8 921.1" stroke="#0000FF"/>
<path d="M313.6 1021.0L421.4 1079.2M421.4 1079.2L529.2 1138.2M529.2 1138.2L637.0 965.2M637.0 965.2L744.8 921.1" stroke="#0028FF"/>
<path d="M313.6 1268.9L421.4 1272.7M421.4 1272.7L529.2 1274.5M529.2 1274.5L637.0 1259.1M637.0 1259.1L744.8 921.1" stroke="#0028FF"/>
<path d="M313.6 1075.2L421.4 1061.2M421.4 1061.2L529.2 1180.2M529.2 1180.2L637.0 1068.2M637.0 1068.2L744.8 921.1" stroke="#0028FF"/>
<path d="M313.6 1024.8L421.4 1080.1M421.4 1080.1L529.2 1138.2M529.2 1138.2L637.0 969.5M637.0 969.5L744.8 921.1" stroke="#0028FF"/>
<path d="M313.6 1267.8L421.4 1272.0M421.4 1272.0L529.2 1274.1M529.2 1274.1L637.0 1255.9M637.0 1255.9L744.8 921.1" stroke="#0028FF"/>
<path d="M313.6 1152.2L421.4 1159.2M421.4 1159.2L529.2 1096.2M529.2 1096.2L637.0 1033.2M637.0 1033.2L744.8 921.1" stroke="#0028FF"/>
<path d="M313.6 1028.5L421.4 1081.0M421.4 1081.0L529.2 1138.2M529.2 1138.2L637.0 973.7M637.0 973.7L744.8 921.1" stroke="#0050FF"/>
<path d="M313.6 1266.6L421.4 1271.3M421.4 1271.3L529.2 1273.6M529.2 1273.6L637.0 1252.6M637.0 1252.6L744.8 921.1" stroke="#0050FF"/>
<path d="M313.6 1068.2L421.4 1071.7M421.4 1071.7L529.2 1173.2M529.2 1173.2L637.0 1061.2M637.0 1061.2L744.8 921.1" stroke="#0050FF"/>
<path d="M313.6 1032.2L421.4 1082.0M421.4 1082.0L529.2 1138.2M529.2 1138.2L637.0 977.9M637.0 977.9L744.8 921.1" stroke="#0050FF"/>
<path d="M313.6 1265.4L421.4 1270.6M421.4 1270.6L529.2 1273.1M529.2 1273.1L637.0 1249.3M637.0 1249.3L744.8 921.1" stroke="#0050FF"/>
<path d="M313.6 1148.7L421.4 1152.2M421.4 1152.2L529.2 1113.7M529.2 1113.7L637.0 1019.2M637.0 1019.2L744.8 921.1" stroke="#0050FF"/>
<path d="M313.6 1036.0L421.4 1082.9M421.4 1082.9L529.2 1138.2M529.2 1138.2L637.0 982.1M637.0 982.1L744.8 921.1" stroke="#0078FF"/>
<path d="M313.6 1264.3L421.4 1269.9M421.4 1269.9L529.2 1272.7M529.2 1272.7L637.0 1246.1M637.0 1246.1L744.8 921.1" stroke="#0078FF"/>
<path d="M313.6 1039.7L421.4 1083.8M421.4 1083.8L529.2 1138.2M529.2 1138.2L637.0 986.3M637.0 986.3L744.8 921.1" stroke="#0078FF"/>
<path d="M313.6 1263.1L421.4 1269.2M421.4 1269.2L529.2 1272.2M529.2 1272.2L637.0 1242.8M637.0 1242.8L744.8 921.1" stroke="#0078FF"/>
<path d="M313.6 1043.4L421.4 1084.8M421.4 1084.8L529.2 1138.2M529.2 1138.2L637.0 990.5M637.0 990.5L744.8 921.1" stroke="#009CFF"/>
<path d="M313.6 1261.9L421.4 1268.5M421.4 1268.5L529.2 1271.7M529.2 1271.7L637.0 1239.5M637.0 1239.5L744.8 921.1" stroke="#009CFF"/>
<path d="M313.6 1047.2L421.4 1085.7M421.4 1085.7L529.2 1138.2M529.2 1138.2L637.0 994.7M637.0 994.7L744.8 921.1" stroke="#009CFF"/>
<path d="M313.6 1260.8L421.4 1267.8M421.4 1267.8L529.2 1271.3M529.2 1271.3L637.0 1236.3M637.0 1236.3L744.8 921.1" stroke="#009CFF"/>
<path d="M313.6 1050.7L421.4 1088.0M421.4 1088.0L529.2 1138.8M529.2 1138.8L637.0 999.9M637.0 999.9L744.8 921.1" stroke="#00C0FF"/>
<path d="M313.6 1256.7L421.4 1266.0M421.4 1266.0L529.2 1270.1M529.2 1270.1L637.0 1232.8M637.0 1232.8L744.8 921.1" stroke="#00C0FF"/>
<path d="M313.6 1054.2L421.4 1090.4M421.4 1090.4L529.2 1139.4M529.2 1139.4L637.0 1005.2M637.0 1005.2L744.8 921.1" stroke="#00C0FF"/>
<path d="M313.6 1252.6L421.4 1264.3M421.4 1264.3L529.2 1268.9M529.2 1268.9L637.0 1229.3M637.0 1229.3L744.8 921.1" stroke="#00C0FF"/>
<path d="M313.6 1057.7L421.4 1092.7M421.4 1092.7L529.2 1140.0M529.2 1140.0L637.0 1010.4M637.0 1010.4L744.8 921.1" stroke="#00DCF8"/>
<path d="M313.6 1248.5L421.4 1262.5M421.4 1262.5L529.2 1267.8M529.2 1267.8L637.0 1225.8M637.0 1225.8L744.8 921.1" stroke="#00DCF8"/>
<path d="M313.6 1061.2L421.4 1095.0M421.4 1095.0L529.2 1140.6M529.2 1140.6L637.0 1015.7M637.0 1015.7L744.8 921.1" stroke="#00DCF8"/>
<path d="M313.6 1244.4L421.4 1260.8M421.4 1260.8L529.2 1266.6M529.2 1266.6L637.0 1222.3M637.0 1222.3L744.8 921.1" stroke="#00DCF8"/>
<path d="M313.6 1064.7L421.4 1097.4M421.4 1097.4L529.2 1141.1M529.2 1141.1L637.0 1020.9M637.0 1020.9L744.8 921.1" stroke="#12F0E8"/>
<path d="M313.6 1240.3L421.4 1259.0M421.4 1259.0L529.2 1265.4M529.2 1265.4L637.0 1218.8M637.0 1218.8L744.8 921.1" stroke="#12F0E8"/>
<path d="M313.6 1068.2L421.4 1099.7M421.4 1099.7L529.2 1141.7M529.2 1141.7L637.0 1026.2M637.0 1026.2L744.8 921.1" stroke="#12F0E8"/>
<path d="M313.6 1236.3L421.4 1257.3M421.4 1257.3L529.2 1264.3M529.2 1264.3L637.0 1215.3M637.0 1215.3L744.8 921.1" stroke="#12F0E8"/>
<path d="M313.6 1070.5L421.4 1101.5M421.4 1101.5L529.2 1142.9M529.2 1142.9L637.0 1028.5M637.0 1028.5L744.8 921.1" stroke="#30FFC8"/>
<path d="M313.6 1234.5L421.4 1255.5M421.4 1255.5L529.2 1263.7M529.2 1263.7L637.0 1211.8M637.0 1211.8L744.8 921.1" stroke="#30FFC8"/>
<path d="M313.6 1072.9L421.4 1103.2M421.4 1103.2L529.2 1144.1M529.2 1144.1L637.0 1030.8M637.0 1030.8L744.8 921.1" stroke="#30FFC8"/>
<path d="M313.6 1232.8L421.4 1253.8M421.4 1253.8L529.2 1263.1M529.2 1263.1L637.0 1208.3M637.0 1208.3L744.8 921.1" stroke="#30FFC8"/>
<path d="M313.6 1075.2L421.4 1105.0M421.4 1105.0L529.2 1145.2M529.2 1145.2L637.0 1033.2M637.0 1033.2L744.8 921.1" stroke="#52FFA6"/>
<path d="M313.6 1231.0L421.4 1252.0M421.4 1252.0L529.2 1262.5M529.2 1262.5L637.0 1204.7M637.0 1204.7L744.8 921.1" stroke="#52FFA6"/>
<path d="M313.6 1077.5L421.4 1106.7M421.4 1106.7L529.2 1146.4M529.2 1146.4L637.0 1035.5M637.0 1035.5L744.8 921.1" stroke="#52FFA6"/>
<path d="M313.6 1229.3L421.4 1250.3M421.4 1250.3L529.2 1261.9M529.2 1261.9L637.0 1201.2M637.0 1201.2L744.8 921.1" stroke="#52FFA6"/>
<path d="M313.6 1079.9L421.4 1108.5M421.4 1108.5L529.2 1147.6M529.2 1147.6L637.0 1037.8M637.0 1037.8L744.8 921.1" stroke="#52FFA6"/>
<path d="M313.6 1227.5L421.4 1248.5M421.4 1248.5L529.2 1261.4M529.2 1261.4L637.0 1197.7M637.0 1197.7L744.8 921.1" stroke="#52FFA6"/>
<path d="M313.6 1082.2L421.4 1110.2M421.4 1110.2L529.2 1148.7M529.2 1148.7L637.0 1040.2M637.0 1040.2L744.8 921.1" stroke="#76FF82"/>
<path d="M313.6 1225.8L421.4 1246.8M421.4 1246.8L529.2 1260.8M529.2 1260.8L637.0 1194.2M637.0 1194.2L744.8 921.1" stroke="#76FF82"/>
<path d="M313.6 1083.9L421.4 1112.0M421.4 1112.0L529.2 1150.5M529.2 1150.5L637.0 1042.8M637.0 1042.8L744.8 921.1" stroke="#76FF82"/>
<path d="M313.6 1224.4L421.4 1245.0M421.4 1245.0L529.2 1259.9M529.2 1259.9L637.0 1190.7M637.0 1190.7L744.8 921.1" stroke="#76FF82"/>
<path d="M313.6 1085.7L421.4 1113.7M421.4 1113.7L529.2 1152.2M529.2 1152.2L637.0 1045.4M637.0 1045.4L744.8 921.1" stroke="#9CFF5C"/>
<path d="M313.6 1223.1L421.4 1243.3M421.4 1243.3L529.2 1259.0M529.2 1259.0L637.0 1187.2M637.0 1187.2L744.8 921.1" stroke="#9CFF5C"/>
<path d="M313.6 1087.5L421.4 1115.5M421.4 1115.5L529.2 1154.0M529.2 1154.0L637.0 1048.1M637.0 1048.1L744.8 921.1" stroke="#9CFF5C"/>
<path d="M313.6 1221.8L421.4 1241.5M421.4 1241.5L529.2 1258.1M529.2 1258.1L637.0 1183.7M637.0 1183.7L744.8 921.1" stroke="#9CFF5C"/>
<path d="M313.6 1089.2L421.4 1117.2M421.4 1117.2L529.2 1155.7M529.2 1155.7L637.0 1050.7M637.0 1050.7L744.8 921.1" stroke="#C4FF36"/>
<path d="M313.6 1220.5L421.4 1239.8M421.4 1239.8L529.2 1257.3M529.2 1257.3L637.0 1180.2M637.0 1180.2L744.8 921.1" stroke="#C4FF36"/>
<path d="M313.6 1091.0L421.4 1119.0M421.4 1119.0L529.2 1157.5M529.2 1157.5L637.0 1053.3M637.0 1053.3L744.8 921.1" stroke="#C4FF36"/>
<path d="M313.6 1219.2L421.4 1238.0M421.4 1238.0L529.2 1256.4M529.2 1256.4L637.0 1176.7M637.0 1176.7L744.8 921.1" stroke="#C4FF36"/>
<path d="M313.6 1092.7L421.4 1120.7M421.4 1120.7L529.2 1159.2M529.2 1159.2L637.0 1055.9M637.0 1055.9L744.8 921.1" stroke="#ECFF14"/>
<path d="M313.6 1217.9L421.4 1236.3M421.4 1236.3L529.2 1255.5M529.2 1255.5L637.0 1173.2M637.0 1173.2L744.8 921.1" stroke="#ECFF14"/>
<path d="M313.6 1094.5L421.4 1122.5M421.4 1122.5L529.2 1161.0M529.2 1161.0L637.0 1058.6M637.0 1058.6L744.8 921.1" stroke="#ECFF14"/>
<path d="M313.6 1216.6L421.4 1234.5M421.4 1234.5L529.2 1254.6M529.2 1254.6L637.0 1169.7M637.0 1169.7L744.8 921.1" stroke="#ECFF14"/>
<path d="M313.6 1096.2L421.4 1124.2M421.4 1124.2L529.2 1162.7M529.2 1162.7L637.0 1061.2M637.0 1061.2L744.8 921.1" stroke="#FFF200"/>
<path d="M313.6 1215.3L421.4 1232.8M421.4 1232.8L529.2 1253.8M529.2 1253.8L637.0 1166.2M637.0 1166.2L744.8 921.1" stroke="#FFF200"/>
<path d="M313.6 1098.9L421.4 1127.4M421.4 1127.4L529.2 1164.9M529.2 1164.9L637.0 1064.4M637.0 1064.4L744.8 921.1" stroke="#FFF200"/>
<path d="M313.6 1210.9L421.4 1227.9M421.4 1227.9L529.2 1251.1M529.2 1251.1L637.0 1163.0M637.0 1163.0L744.8 921.1" stroke="#FFF200"/>
<path d="M313.6 1101.6L421.4 1130.7M421.4 1130.7L529.2 1167.0M529.2 1167.0L637.0 1067.7M637.0 1067.7L744.8 921.1" stroke="#FFD200"/>
<path d="M313.6 1206.6L421.4 1223.1M421.4 1223.1L529.2 1248.4M529.2 1248.4L637.0 1159.8M637.0 1159.8L744.8 921.1" stroke="#FFD200"/>
<path d="M313.6 1104.3L421.4 1133.9M421.4 1133.9L529.2 1169.2M529.2 1169.2L637.0 1070.9M637.0 1070.9L744.8 921.1" stroke="#FFD200"/>
<path d="M313.6 1202.3L421.4 1218.2M421.4 1218.2L529.2 1245.7M529.2 1245.7L637.0 1156.5M637.0 1156.5L744.8 921.1" stroke="#FFD200"/>
<path d="M313.6 1107.0L421.4 1137.1M421.4 1137.1L529.2 1171.4M529.2 1171.4L637.0 1074.1M637.0 1074.1L744.8 921.1" stroke="#FFAA00"/>
<path d="M313.6 1198.0L421.4 1213.4M421.4 1213.4L529.2 1243.0M529.2 1243.0L637.0 1153.3M637.0 1153.3L744.8 921.1" stroke="#FFAA00"/>
<path d="M313.6 1109.7L421.4 1140.4M421.4 1140.4L529.2 1173.5M529.2 1173.5L637.0 1077.3M637.0 1077.3L744.8 921.1" stroke="#FFAA00"/>
<path d="M313.6 1193.7L421.4 1208.5M421.4 1208.5L529.2 1240.3M529.2 1240.3L637.0 1150.1M637.0 1150.1L744.8 921.1" stroke="#FFAA00"/>
<path d="M313.6 1112.4L421.4 1143.6M421.4 1143.6L529.2 1175.7M529.2 1175.7L637.0 1080.6M637.0 1080.6L744.8 921.1" stroke="#FF8000"/>
<path d="M313.6 1189.4L421.4 1203.7M421.4 1203.7L529.2 1237.6M529.2 1237.6L637.0 1146.8M637.0 1146.8L744.8 921.1" stroke="#FF8000"/>
<path d="M313.6 1114.9L421.4 1146.1M421.4 1146.1L529.2 1177.5M529.2 1177.5L637.0 1083.7M637.0 1083.7L744.8 921.1" stroke="#FF8000"/>
<path d="M313.6 1185.8L421.4 1200.1M421.4 1200.1L529.2 1235.1M529.2 1235.1L637.0 1144.3M637.0 1144.3L744.8 921.1" stroke="#FF8000"/>
<path d="M313.6 1117.2L421.4 1147.9M421.4 1147.9L529.2 1178.9M529.2 1178.9L637.0 1086.6M637.0 1086.6L744.8 921.1" stroke="#FF5A00"/>
<path d="M313.6 1182.9L421.4 1197.7M421.4 1197.7L529.2 1232.8M529.2 1232.8L637.0 1142.6M637.0 1142.6L744.8 921.1" stroke="#FF5A00"/>
<path d="M313.6 1119.5L421.4 1149.6M421.4 1149.6L529.2 1180.4M529.2 1180.4L637.0 1089.5M637.0 1089.5L744.8 921.1" stroke="#FF5A00"/>
<path d="M313.6 1179.9L421.4 1195.4M421.4 1195.4L529.2 1230.4M529.2 1230.4L637.0 1140.8M637.0 1140.8L744.8 921.1" stroke="#FF5A00"/>
<path d="M313.6 1121.9L421.4 1151.4M421.4 1151.4L529.2 1181.8M529.2 1181.8L637.0 1092.4M637.0 1092.4L744.8 921.1" stroke="#FF3800"/>
<path d="M313.6 1177.0L421.4 1193.1M421.4 1193.1L529.2 1228.1M529.2 1228.1L637.0 1139.1M637.0 1139.1L744.8 921.1" stroke="#FF3800"/>
<path d="M313.6 1124.2L421.4 1153.1M421.4 1153.1L529.2 1183.3M529.2 1183.3L637.0 1095.3M637.0 1095.3L744.8 921.1" stroke="#FF3800"/>
<path d="M313.6 1174.1L421.4 1190.7M421.4 1190.7L529.2 1225.8M529.2 1225.8L637.0 1137.3M637.0 1137.3L744.8 921.1" stroke="#FF3800"/>
<path d="M313.6 1126.5L421.4 1154.9M421.4 1154.9L529.2 1184.8M529.2 1184.8L637.0 1098.2M637.0 1098.2L744.8 921.1" stroke="#F51E00"/>
<path d="M313.6 1171.2L421.4 1188.4M421.4 1188.4L529.2 1223.4M529.2 1223.4L637.0 1135.6M637.0 1135.6L744.8 921.1" stroke="#F51E00"/>
<path d="M313.6 1131.9L421.4 1158.5M421.4 1158.5L529.2 1188.6M529.2 1188.6L637.0 1103.2M637.0 1103.2L744.8 921.1" stroke="#F51E00"/>
<path d="M313.6 1165.5L421.4 1183.7M421.4 1183.7L529.2 1218.1M529.2 1218.1L637.0 1131.2M637.0 1131.2L744.8 921.1" stroke="#F51E00"/>
<path d="M313.6 1140.3L421.4 1164.1M421.4 1164.1L529.2 1194.9M529.2 1194.9L637.0 1110.2M637.0 1110.2L744.8 921.1" stroke="#DF0E00"/>
<path d="M313.6 1157.1L421.4 1176.7M421.4 1176.7L529.2 1209.7M529.2 1209.7L637.0 1124.2M637.0 1124.2L744.8 921.1" stroke="#DF0E00"/>
<path d="M313.6 1148.7L421.4 1169.7M421.4 1169.7L529.2 1201.2M529.2 1201.2L637.0 1117.2M637.0 1117.2L744.8 921.1" stroke="#DF0E00"/>
<path d="M313.6 1148.7L421.4 1169.7M421.4 1169.7L529.2 1201.2M529.2 1201.2L637.0 1117.2M637.0 1117.2L744.8 921.1" stroke="#DF0E00"/>
</g>
<path d="M205.8 849.9V1324.4H852.6" stroke="#000" stroke-width="2.7" fill="none"/>
<text x="200.5" y="855.9" text-anchor="end" font-size="21.5" textLength="43" lengthAdjust="spacingAndGlyphs">1.20</text>
<text x="200.5" y="908.4" text-anchor="end" font-size="21.5" textLength="43" lengthAdjust="spacingAndGlyphs">1.05</text>
<text x="200.5" y="960.9" text-anchor="end" font-size="21.5" textLength="43" lengthAdjust="spacingAndGlyphs">0.90</text>
<text x="200.5" y="1013.5" text-anchor="end" font-size="21.5" textLength="43" lengthAdjust="spacingAndGlyphs">0.75</text>
<text x="200.5" y="1066.0" text-anchor="end" font-size="21.5" textLength="43" lengthAdjust="spacingAndGlyphs">0.60</text>
<text x="200.5" y="1118.5" text-anchor="end" font-size="21.5" textLength="43" lengthAdjust="spacingAndGlyphs">0.45</text>
<text x="200.5" y="1171.0" text-anchor="end" font-size="21.5" textLength="43" lengthAdjust="spacingAndGlyphs">0.30</text>
<text x="200.5" y="1223.6" text-anchor="end" font-size="21.5" textLength="43" lengthAdjust="spacingAndGlyphs">0.15</text>
<text x="200.5" y="1276.1" text-anchor="end" font-size="21.5" textLength="43" lengthAdjust="spacingAndGlyphs">0.00</text>
<text x="200.5" y="1328.6" text-anchor="end" font-size="21.5" textLength="51" lengthAdjust="spacingAndGlyphs">-0.15</text>
<path d="M200.8 851.1H205.8M200.8 903.6H205.8M200.8 956.1H205.8M200.8 1008.7H205.8M200.8 1061.2H205.8M200.8 1113.7H205.8M200.8 1166.2H205.8M200.8 1218.8H205.8M200.8 1271.3H205.8M200.8 1323.8H205.8M313.6 1323.8V1328.8M421.4 1323.8V1328.8M529.2 1323.8V1328.8M637.0 1323.8V1328.8M744.8 1323.8V1328.8" stroke="#000" stroke-width="2.4" fill="none"/>
<text x="313.6" y="1345.1" text-anchor="middle" font-size="21" textLength="29.8" lengthAdjust="spacingAndGlyphs">QC</text>
<text x="421.4" y="1345.1" text-anchor="middle" font-size="21" textLength="47.5" lengthAdjust="spacingAndGlyphs">MCT</text>
<text x="529.2" y="1345.1" text-anchor="middle" font-size="21" textLength="95.2" lengthAdjust="spacingAndGlyphs">MCT-NPS</text>
<text x="637.0" y="1345.1" text-anchor="middle" font-size="21" textLength="40" lengthAdjust="spacingAndGlyphs">NPS</text>
<text x="744.8" y="1345.1" text-anchor="middle" font-size="21" textLength="38" lengthAdjust="spacingAndGlyphs">Con</text>
<text x="206.9" y="841.3" font-size="40" textLength="138.3" lengthAdjust="spacingAndGlyphs">Cluster</text>
<text x="360.8" y="841.3" font-size="40" textLength="44.2" lengthAdjust="spacingAndGlyphs">#4</text>
<text x="529.5" y="1389.9" text-anchor="middle" font-size="28" textLength="147.2" lengthAdjust="spacingAndGlyphs">time groups</text>
<text transform="translate(118.4,1087.7) rotate(-90)" x="0" y="0" text-anchor="middle" font-size="27.5" textLength="317.8" lengthAdjust="spacingAndGlyphs">expression quantification</text>
<text x="827.0" y="869.1" font-size="27" textLength="153.5" lengthAdjust="spacingAndGlyphs">membership</text>
<rect x="867.0" y="1193.08" width="73.7" height="12.42" fill="#000080"/>
<rect x="867.0" y="1180.97" width="73.7" height="12.42" fill="#0000A8"/>
<rect x="867.0" y="1168.85" width="73.7" height="12.42" fill="#0000D4"/>
<rect x="867.0" y="1156.74" width="73.7" height="12.42" fill="#0000FF"/>
<rect x="867.0" y="1144.62" width="73.7" height="12.42" fill="#0028FF"/>
<rect x="867.0" y="1132.50" width="73.7" height="12.42" fill="#0050FF"/>
<rect x="867.0" y="1120.39" width="73.7" height="12.42" fill="#0078FF"/>
<rect x="867.0" y="1108.27" width="73.7" height="12.42" fill="#009CFF"/>
<rect x="867.0" y="1096.16" width="73.7" height="12.42" fill="#00C0FF"/>
<rect x="867.0" y="1084.04" width="73.7" height="12.42" fill="#00DCF8"/>
<rect x="867.0" y="1071.92" width="73.7" height="12.42" fill="#12F0E8"/>
<rect x="867.0" y="1059.81" width="73.7" height="12.42" fill="#30FFC8"/>
<rect x="867.0" y="1047.69" width="73.7" height="12.42" fill="#52FFA6"/>
<rect x="867.0" y="1035.58" width="73.7" height="12.42" fill="#76FF82"/>
<rect x="867.0" y="1023.46" width="73.7" height="12.42" fill="#9CFF5C"/>
<rect x="867.0" y="1011.34" width="73.7" height="12.42" fill="#C4FF36"/>
<rect x="867.0" y="999.23" width="73.7" height="12.42" fill="#ECFF14"/>
<rect x="867.0" y="987.11" width="73.7" height="12.42" fill="#FFF200"/>
<rect x="867.0" y="975.00" width="73.7" height="12.42" fill="#FFD200"/>
<rect x="867.0" y="962.88" width="73.7" height="12.42" fill="#FFAA00"/>
<rect x="867.0" y="950.76" width="73.7" height="12.42" fill="#FF8000"/>
<rect x="867.0" y="938.65" width="73.7" height="12.42" fill="#FF5A00"/>
<rect x="867.0" y="926.53" width="73.7" height="12.42" fill="#FF3800"/>
<rect x="867.0" y="914.42" width="73.7" height="12.42" fill="#F51E00"/>
<rect x="867.0" y="902.30" width="73.7" height="12.42" fill="#DF0E00"/>
<text x="954.0" y="903.5" font-size="20.5" textLength="45" lengthAdjust="spacingAndGlyphs">1.00</text>
<text x="955.0" y="941.4" font-size="18" style="font-weight:normal;fill:#737373" textLength="35.4" lengthAdjust="spacingAndGlyphs">0.90</text>
<text x="955.0" y="979.2" font-size="18" style="font-weight:normal;fill:#737373" textLength="35.4" lengthAdjust="spacingAndGlyphs">0.80</text>
<text x="955.0" y="1017.1" font-size="18" style="font-weight:normal;fill:#737373" textLength="35.4" lengthAdjust="spacingAndGlyphs">0.70</text>
<text x="955.0" y="1055.0" font-size="18" style="font-weight:normal;fill:#737373" textLength="35.4" lengthAdjust="spacingAndGlyphs">0.60</text>
<text x="955.0" y="1092.8" font-size="18" style="font-weight:normal;fill:#737373" textLength="35.4" lengthAdjust="spacingAndGlyphs">0.50</text>
<text x="955.0" y="1130.7" font-size="18" style="font-weight:normal;fill:#737373" textLength="35.4" lengthAdjust="spacingAndGlyphs">0.40</text>
<text x="955.0" y="1168.5" font-size="18" style="font-weight:normal;fill:#737373" textLength="35.4" lengthAdjust="spacingAndGlyphs">0.30</text>
<text x="954.0" y="1206.4" font-size="20.5" textLength="45" lengthAdjust="spacingAndGlyphs">0.20</text>
<path d="M946.5 902.3V1205.2M946.5 902.3H951.0M946.5 940.2H951.0M946.5 978.0H951.0M946.5 1015.9H951.0M946.5 1053.8H951.0M946.5 1091.6H951.0M946.5 1129.5H951.0M946.5 1167.3H951.0M946.5 1205.2H951.0" stroke="#808080" stroke-width="1.4" fill="none"/>
<rect x="1130.8" y="851.1" width="646.8" height="472.7" fill="#F4F4F4"/>
<path d="M1130.8 851.1H1777.6M1130.8 903.6H1777.6M1130.8 956.1H1777.6M1130.8 1008.7H1777.6M1130.8 1061.2H1777.6M1130.8 1113.7H1777.6M1130.8 1166.2H1777.6M1130.8 1218.8H1777.6M1130.8 1271.3H1777.6M1130.8 1323.8H1777.6" stroke="#FFFFFF" stroke-width="1.2" stroke-dasharray="1 1" fill="none"/>
<path d="M1238.6 851.1V1323.8M1346.4 851.1V1323.8M1454.2 851.1V1323.8M1562.0 851.1V1323.8M1669.8 851.1V1323.8" stroke="#FFFFFF" stroke-width="1.2" stroke-dasharray="2.5 1.5" fill="none"/>
<clipPath id="clip5"><rect x="1130.8" y="851.1" width="646.8" height="472.7"/></clipPath>
<g clip-path="url(#clip5)" fill="none" stroke-width="15" stroke-linecap="butt">
<path d="M1238.6 928.1L1346.4 994.7M1346.4 994.7L1454.2 1190.7M1454.2 1190.7L1562.0 1201.2M1562.0 1201.2L1669.8 1236.3" stroke="#000080"/>
<path d="M1238.6 928.1L1346.4 1085.7M1346.4 1085.7L1454.2 1131.2M1454.2 1131.2L1562.0 1201.2M1562.0 1201.2L1669.8 1252.0" stroke="#000080"/>
<path d="M1238.6 1026.2L1346.4 938.6M1346.4 938.6L1454.2 1117.2M1454.2 1117.2L1562.0 977.2M1562.0 977.2L1669.8 1145.2" stroke="#000080"/>
<path d="M1238.6 1166.2L1346.4 921.1M1346.4 921.1L1454.2 1264.3M1454.2 1264.3L1562.0 1229.3M1562.0 1229.3L1669.8 1236.3" stroke="#0000A8"/>
<path d="M1238.6 1026.2L1346.4 938.6M1346.4 938.6L1454.2 1106.7M1454.2 1106.7L1562.0 991.2M1562.0 991.2L1669.8 1131.2" stroke="#0000A8"/>
<path d="M1238.6 1061.2L1346.4 921.1M1346.4 921.1L1454.2 1096.2M1454.2 1096.2L1562.0 1152.2M1562.0 1152.2L1669.8 991.2" stroke="#0000A8"/>
<path d="M1238.6 1165.2L1346.4 921.1M1346.4 921.1L1454.2 1256.3M1454.2 1256.3L1562.0 1229.3M1562.0 1229.3L1669.8 1233.3" stroke="#0000D4"/>
<path d="M1238.6 1026.2L1346.4 938.6M1346.4 938.6L1454.2 1096.2M1454.2 1096.2L1562.0 1005.2M1562.0 1005.2L1669.8 1117.2" stroke="#0000D4"/>
<path d="M1238.6 1164.2L1346.4 921.1M1346.4 921.1L1454.2 1248.3M1454.2 1248.3L1562.0 1229.3M1562.0 1229.3L1669.8 1230.3" stroke="#0000D4"/>
<path d="M1238.6 952.6L1346.4 921.1M1346.4 921.1L1454.2 1026.2M1454.2 1026.2L1562.0 1033.2M1562.0 1033.2L1669.8 1033.2" stroke="#0000D4"/>
<path d="M1238.6 1061.2L1346.4 921.1M1346.4 921.1L1454.2 1096.2M1454.2 1096.2L1562.0 1138.2M1562.0 1138.2L1669.8 1005.2" stroke="#0000D4"/>
<path d="M1238.6 1163.2L1346.4 921.1M1346.4 921.1L1454.2 1240.3M1454.2 1240.3L1562.0 1229.3M1562.0 1229.3L1669.8 1227.3" stroke="#0000FF"/>
<path d="M1238.6 1026.2L1346.4 938.6M1346.4 938.6L1454.2 1085.7M1454.2 1085.7L1562.0 1019.2M1562.0 1019.2L1669.8 1103.2" stroke="#0000FF"/>
<path d="M1238.6 954.0L1346.4 921.1M1346.4 921.1L1454.2 1026.9M1454.2 1026.9L1562.0 1036.0M1562.0 1036.0L1669.8 1034.6" stroke="#0000FF"/>
<path d="M1238.6 1161.4L1346.4 921.1M1346.4 921.1L1454.2 1231.9M1454.2 1231.9L1562.0 1228.8M1562.0 1228.8L1669.8 1223.1" stroke="#0000FF"/>
<path d="M1238.6 955.4L1346.4 921.1M1346.4 921.1L1454.2 1027.6M1454.2 1027.6L1562.0 1038.8M1562.0 1038.8L1669.8 1036.0" stroke="#0000FF"/>
<path d="M1238.6 1026.2L1346.4 938.6M1346.4 938.6L1454.2 1075.2M1454.2 1075.2L1562.0 1033.2M1562.0 1033.2L1669.8 1089.2" stroke="#0000FF"/>
<path d="M1238.6 1061.2L1346.4 921.1M1346.4 921.1L1454.2 1096.2M1454.2 1096.2L1562.0 1124.2M1562.0 1124.2L1669.8 1019.2" stroke="#0000FF"/>
<path d="M1238.6 1158.8L1346.4 921.1M1346.4 921.1L1454.2 1223.1M1454.2 1223.1L1562.0 1227.9M1562.0 1227.9L1669.8 1217.9" stroke="#0028FF"/>
<path d="M1238.6 956.8L1346.4 921.1M1346.4 921.1L1454.2 1028.3M1454.2 1028.3L1562.0 1041.6M1562.0 1041.6L1669.8 1037.4" stroke="#0028FF"/>
<path d="M1238.6 1156.2L1346.4 921.1M1346.4 921.1L1454.2 1214.4M1454.2 1214.4L1562.0 1227.1M1562.0 1227.1L1669.8 1212.6" stroke="#0028FF"/>
<path d="M1238.6 958.2L1346.4 921.1M1346.4 921.1L1454.2 1029.0M1454.2 1029.0L1562.0 1044.4M1562.0 1044.4L1669.8 1038.8" stroke="#0028FF"/>
<path d="M1238.6 1061.2L1346.4 921.1M1346.4 921.1L1454.2 1089.2M1454.2 1089.2L1562.0 1110.2M1562.0 1110.2L1669.8 1029.7" stroke="#0028FF"/>
<path d="M1238.6 1153.5L1346.4 921.1M1346.4 921.1L1454.2 1205.6M1454.2 1205.6L1562.0 1226.2M1562.0 1226.2L1669.8 1207.4" stroke="#0050FF"/>
<path d="M1238.6 959.6L1346.4 921.1M1346.4 921.1L1454.2 1029.7M1454.2 1029.7L1562.0 1047.2M1562.0 1047.2L1669.8 1040.2" stroke="#0050FF"/>
<path d="M1238.6 1150.8L1346.4 921.1M1346.4 921.1L1454.2 1199.1M1454.2 1199.1L1562.0 1225.4M1562.0 1225.4L1669.8 1203.0" stroke="#0050FF"/>
<path d="M1238.6 962.4L1346.4 921.1M1346.4 921.1L1454.2 1031.1M1454.2 1031.1L1562.0 1050.0M1562.0 1050.0L1669.8 1040.9" stroke="#0050FF"/>
<path d="M1238.6 1148.0L1346.4 921.1M1346.4 921.1L1454.2 1194.9M1454.2 1194.9L1562.0 1224.7M1562.0 1224.7L1669.8 1199.5" stroke="#0078FF"/>
<path d="M1238.6 965.2L1346.4 921.1M1346.4 921.1L1454.2 1032.5M1454.2 1032.5L1562.0 1052.8M1562.0 1052.8L1669.8 1041.6" stroke="#0078FF"/>
<path d="M1238.6 1145.2L1346.4 921.1M1346.4 921.1L1454.2 1190.7M1454.2 1190.7L1562.0 1224.0M1562.0 1224.0L1669.8 1196.0" stroke="#0078FF"/>
<path d="M1238.6 963.1L1346.4 921.1M1346.4 921.1L1454.2 1005.2M1454.2 1005.2L1562.0 1120.7M1562.0 1120.7L1669.8 1096.2" stroke="#0078FF"/>
<path d="M1238.6 968.0L1346.4 921.1M1346.4 921.1L1454.2 1033.9M1454.2 1033.9L1562.0 1055.6M1562.0 1055.6L1669.8 1042.3" stroke="#0078FF"/>
<path d="M1238.6 1142.4L1346.4 921.1M1346.4 921.1L1454.2 1186.5M1454.2 1186.5L1562.0 1223.3M1562.0 1223.3L1669.8 1192.5" stroke="#0078FF"/>
<path d="M1238.6 970.9L1346.4 921.1M1346.4 921.1L1454.2 1035.3M1454.2 1035.3L1562.0 1058.4M1562.0 1058.4L1669.8 1043.0" stroke="#009CFF"/>
<path d="M1238.6 1139.6L1346.4 921.1M1346.4 921.1L1454.2 1182.3M1454.2 1182.3L1562.0 1222.6M1562.0 1222.6L1669.8 1189.0" stroke="#009CFF"/>
<path d="M1238.6 973.7L1346.4 921.1M1346.4 921.1L1454.2 1036.7M1454.2 1036.7L1562.0 1061.2M1562.0 1061.2L1669.8 1043.7" stroke="#009CFF"/>
<path d="M1238.6 1136.5L1346.4 921.1M1346.4 921.1L1454.2 1179.1M1454.2 1179.1L1562.0 1221.1M1562.0 1221.1L1669.8 1185.8" stroke="#009CFF"/>
<path d="M1238.6 976.6L1346.4 921.1M1346.4 921.1L1454.2 1038.4M1454.2 1038.4L1562.0 1064.7M1562.0 1064.7L1669.8 1044.8" stroke="#00C0FF"/>
<path d="M1238.6 1133.0L1346.4 921.1M1346.4 921.1L1454.2 1176.7M1454.2 1176.7L1562.0 1218.8M1562.0 1218.8L1669.8 1182.9" stroke="#00C0FF"/>
<path d="M1238.6 979.5L1346.4 921.1M1346.4 921.1L1454.2 1040.2M1454.2 1040.2L1562.0 1068.2M1562.0 1068.2L1669.8 1046.0" stroke="#00C0FF"/>
<path d="M1238.6 1129.5L1346.4 921.1M1346.4 921.1L1454.2 1174.4M1454.2 1174.4L1562.0 1216.4M1562.0 1216.4L1669.8 1179.9" stroke="#00C0FF"/>
<path d="M1238.6 982.4L1346.4 921.1M1346.4 921.1L1454.2 1041.9M1454.2 1041.9L1562.0 1071.7M1562.0 1071.7L1669.8 1047.2" stroke="#00DCF8"/>
<path d="M1238.6 1126.0L1346.4 921.1M1346.4 921.1L1454.2 1172.1M1454.2 1172.1L1562.0 1214.1M1562.0 1214.1L1669.8 1177.0" stroke="#00DCF8"/>
<path d="M1238.6 985.3L1346.4 921.1M1346.4 921.1L1454.2 1043.7M1454.2 1043.7L1562.0 1075.2M1562.0 1075.2L1669.8 1048.4" stroke="#00DCF8"/>
<path d="M1238.6 1122.5L1346.4 921.1M1346.4 921.1L1454.2 1169.7M1454.2 1169.7L1562.0 1211.8M1562.0 1211.8L1669.8 1174.1" stroke="#00DCF8"/>
<path d="M1238.6 988.2L1346.4 921.1M1346.4 921.1L1454.2 1045.4M1454.2 1045.4L1562.0 1078.7M1562.0 1078.7L1669.8 1049.5" stroke="#12F0E8"/>
<path d="M1238.6 1119.0L1346.4 921.1M1346.4 921.1L1454.2 1167.4M1454.2 1167.4L1562.0 1209.4M1562.0 1209.4L1669.8 1171.2" stroke="#12F0E8"/>
<path d="M1238.6 991.2L1346.4 921.1M1346.4 921.1L1454.2 1047.2M1454.2 1047.2L1562.0 1082.2M1562.0 1082.2L1669.8 1050.7" stroke="#12F0E8"/>
<path d="M1238.6 1116.6L1346.4 921.1M1346.4 921.1L1454.2 1165.1M1454.2 1165.1L1562.0 1207.1M1562.0 1207.1L1669.8 1168.3" stroke="#12F0E8"/>
<path d="M1238.6 994.1L1346.4 921.1M1346.4 921.1L1454.2 1048.9M1454.2 1048.9L1562.0 1084.5M1562.0 1084.5L1669.8 1052.4" stroke="#30FFC8"/>
<path d="M1238.6 1115.5L1346.4 921.1M1346.4 921.1L1454.2 1162.7M1454.2 1162.7L1562.0 1204.7M1562.0 1204.7L1669.8 1165.4" stroke="#30FFC8"/>
<path d="M1238.6 997.0L1346.4 921.1M1346.4 921.1L1454.2 1050.7M1454.2 1050.7L1562.0 1086.9M1562.0 1086.9L1669.8 1054.2" stroke="#30FFC8"/>
<path d="M1238.6 1114.3L1346.4 921.1M1346.4 921.1L1454.2 1160.4M1454.2 1160.4L1562.0 1202.4M1562.0 1202.4L1669.8 1162.4" stroke="#30FFC8"/>
<path d="M1238.6 999.9L1346.4 921.1M1346.4 921.1L1454.2 1052.4M1454.2 1052.4L1562.0 1089.2M1562.0 1089.2L1669.8 1055.9" stroke="#52FFA6"/>
<path d="M1238.6 1113.1L1346.4 921.1M1346.4 921.1L1454.2 1158.1M1454.2 1158.1L1562.0 1200.1M1562.0 1200.1L1669.8 1159.5" stroke="#52FFA6"/>
<path d="M1238.6 1002.8L1346.4 921.1M1346.4 921.1L1454.2 1054.2M1454.2 1054.2L1562.0 1091.5M1562.0 1091.5L1669.8 1057.7" stroke="#52FFA6"/>
<path d="M1238.6 1112.0L1346.4 921.1M1346.4 921.1L1454.2 1155.7M1454.2 1155.7L1562.0 1197.7M1562.0 1197.7L1669.8 1156.6" stroke="#52FFA6"/>
<path d="M1238.6 1005.7L1346.4 921.1M1346.4 921.1L1454.2 1055.9M1454.2 1055.9L1562.0 1093.9M1562.0 1093.9L1669.8 1059.4" stroke="#52FFA6"/>
<path d="M1238.6 1110.8L1346.4 921.1M1346.4 921.1L1454.2 1153.4M1454.2 1153.4L1562.0 1195.4M1562.0 1195.4L1669.8 1153.7" stroke="#76FF82"/>
<path d="M1238.6 1008.7L1346.4 921.1M1346.4 921.1L1454.2 1057.7M1454.2 1057.7L1562.0 1096.2M1562.0 1096.2L1669.8 1061.2" stroke="#76FF82"/>
<path d="M1238.6 1109.6L1346.4 921.1M1346.4 921.1L1454.2 1151.4M1454.2 1151.4L1562.0 1193.4M1562.0 1193.4L1669.8 1151.1" stroke="#76FF82"/>
<path d="M1238.6 1010.9L1346.4 921.1M1346.4 921.1L1454.2 1059.4M1454.2 1059.4L1562.0 1097.1M1562.0 1097.1L1669.8 1062.9" stroke="#76FF82"/>
<path d="M1238.6 1108.2L1346.4 921.1M1346.4 921.1L1454.2 1149.6M1454.2 1149.6L1562.0 1191.6M1562.0 1191.6L1669.8 1148.9" stroke="#9CFF5C"/>
<path d="M1238.6 1013.0L1346.4 921.1M1346.4 921.1L1454.2 1061.2M1454.2 1061.2L1562.0 1098.0M1562.0 1098.0L1669.8 1064.7" stroke="#9CFF5C"/>
<path d="M1238.6 1106.9L1346.4 921.1M1346.4 921.1L1454.2 1147.9M1454.2 1147.9L1562.0 1189.9M1562.0 1189.9L1669.8 1146.8" stroke="#9CFF5C"/>
<path d="M1238.6 1015.2L1346.4 921.1M1346.4 921.1L1454.2 1062.9M1454.2 1062.9L1562.0 1098.8M1562.0 1098.8L1669.8 1066.4" stroke="#9CFF5C"/>
<path d="M1238.6 1105.6L1346.4 921.1M1346.4 921.1L1454.2 1146.1M1454.2 1146.1L1562.0 1188.1M1562.0 1188.1L1669.8 1144.6" stroke="#C4FF36"/>
<path d="M1238.6 1017.4L1346.4 921.1M1346.4 921.1L1454.2 1064.7M1454.2 1064.7L1562.0 1099.7M1562.0 1099.7L1669.8 1068.2" stroke="#C4FF36"/>
<path d="M1238.6 1104.3L1346.4 921.1M1346.4 921.1L1454.2 1144.3M1454.2 1144.3L1562.0 1186.4M1562.0 1186.4L1669.8 1142.4" stroke="#C4FF36"/>
<path d="M1238.6 1019.6L1346.4 921.1M1346.4 921.1L1454.2 1066.4M1454.2 1066.4L1562.0 1100.6M1562.0 1100.6L1669.8 1069.9" stroke="#C4FF36"/>
<path d="M1238.6 1103.0L1346.4 921.1M1346.4 921.1L1454.2 1142.6M1454.2 1142.6L1562.0 1184.6M1562.0 1184.6L1669.8 1140.2" stroke="#ECFF14"/>
<path d="M1238.6 1021.8L1346.4 921.1M1346.4 921.1L1454.2 1068.2M1454.2 1068.2L1562.0 1101.5M1562.0 1101.5L1669.8 1071.7" stroke="#ECFF14"/>
<path d="M1238.6 1101.7L1346.4 921.1M1346.4 921.1L1454.2 1140.8M1454.2 1140.8L1562.0 1182.9M1562.0 1182.9L1669.8 1138.0" stroke="#ECFF14"/>
<path d="M1238.6 1024.0L1346.4 921.1M1346.4 921.1L1454.2 1069.9M1454.2 1069.9L1562.0 1102.3M1562.0 1102.3L1669.8 1073.4" stroke="#ECFF14"/>
<path d="M1238.6 1100.4L1346.4 921.1M1346.4 921.1L1454.2 1139.1M1454.2 1139.1L1562.0 1181.1M1562.0 1181.1L1669.8 1135.8" stroke="#FFF200"/>
<path d="M1238.6 1026.2L1346.4 921.1M1346.4 921.1L1454.2 1071.7M1454.2 1071.7L1562.0 1103.2M1562.0 1103.2L1669.8 1075.2" stroke="#FFF200"/>
<path d="M1238.6 1098.6L1346.4 921.1M1346.4 921.1L1454.2 1137.4M1454.2 1137.4L1562.0 1179.2M1562.0 1179.2L1669.8 1133.9" stroke="#FFF200"/>
<path d="M1238.6 1028.3L1346.4 921.1M1346.4 921.1L1454.2 1073.8M1454.2 1073.8L1562.0 1104.8M1562.0 1104.8L1669.8 1076.8" stroke="#FFF200"/>
<path d="M1238.6 1096.5L1346.4 921.1M1346.4 921.1L1454.2 1135.8M1454.2 1135.8L1562.0 1177.0M1562.0 1177.0L1669.8 1132.3" stroke="#FFD200"/>
<path d="M1238.6 1030.5L1346.4 921.1M1346.4 921.1L1454.2 1076.0M1454.2 1076.0L1562.0 1106.4M1562.0 1106.4L1669.8 1078.4" stroke="#FFD200"/>
<path d="M1238.6 1094.3L1346.4 921.1M1346.4 921.1L1454.2 1134.2M1454.2 1134.2L1562.0 1174.9M1562.0 1174.9L1669.8 1130.7" stroke="#FFD200"/>
<path d="M1238.6 1032.6L1346.4 921.1M1346.4 921.1L1454.2 1078.2M1454.2 1078.2L1562.0 1108.1M1562.0 1108.1L1669.8 1080.0" stroke="#FFD200"/>
<path d="M1238.6 1092.2L1346.4 921.1M1346.4 921.1L1454.2 1132.6M1454.2 1132.6L1562.0 1172.7M1562.0 1172.7L1669.8 1129.1" stroke="#FFD200"/>
<path d="M1238.6 1034.8L1346.4 921.1M1346.4 921.1L1454.2 1080.3M1454.2 1080.3L1562.0 1109.7M1562.0 1109.7L1669.8 1081.7" stroke="#FFAA00"/>
<path d="M1238.6 1090.0L1346.4 921.1M1346.4 921.1L1454.2 1130.9M1454.2 1130.9L1562.0 1170.5M1562.0 1170.5L1669.8 1127.4" stroke="#FFAA00"/>
<path d="M1238.6 1036.9L1346.4 921.1M1346.4 921.1L1454.2 1082.5M1454.2 1082.5L1562.0 1111.3M1562.0 1111.3L1669.8 1083.3" stroke="#FFAA00"/>
<path d="M1238.6 1087.9L1346.4 921.1M1346.4 921.1L1454.2 1129.3M1454.2 1129.3L1562.0 1168.4M1562.0 1168.4L1669.8 1125.8" stroke="#FFAA00"/>
<path d="M1238.6 1039.1L1346.4 921.1M1346.4 921.1L1454.2 1084.6M1454.2 1084.6L1562.0 1112.9M1562.0 1112.9L1669.8 1084.9" stroke="#FF8000"/>
<path d="M1238.6 1085.7L1346.4 921.1M1346.4 921.1L1454.2 1127.7M1454.2 1127.7L1562.0 1166.2M1562.0 1166.2L1669.8 1124.2" stroke="#FF8000"/>
<path d="M1238.6 1040.8L1346.4 921.1M1346.4 921.1L1454.2 1086.3M1454.2 1086.3L1562.0 1114.6M1562.0 1114.6L1669.8 1086.6" stroke="#FF8000"/>
<path d="M1238.6 1083.9L1346.4 921.1M1346.4 921.1L1454.2 1126.0M1454.2 1126.0L1562.0 1164.5M1562.0 1164.5L1669.8 1123.0" stroke="#FF8000"/>
<path d="M1238.6 1041.9L1346.4 921.1M1346.4 921.1L1454.2 1087.5M1454.2 1087.5L1562.0 1116.3M1562.0 1116.3L1669.8 1088.3" stroke="#FF5A00"/>
<path d="M1238.6 1082.2L1346.4 921.1M1346.4 921.1L1454.2 1124.2M1454.2 1124.2L1562.0 1162.7M1562.0 1162.7L1669.8 1121.9" stroke="#FF5A00"/>
<path d="M1238.6 1043.1L1346.4 921.1M1346.4 921.1L1454.2 1088.6M1454.2 1088.6L1562.0 1118.1M1562.0 1118.1L1669.8 1090.1" stroke="#FF5A00"/>
<path d="M1238.6 1080.4L1346.4 921.1M1346.4 921.1L1454.2 1122.5M1454.2 1122.5L1562.0 1161.0M1562.0 1161.0L1669.8 1120.7" stroke="#FF5A00"/>
<path d="M1238.6 1044.3L1346.4 921.1M1346.4 921.1L1454.2 1089.8M1454.2 1089.8L1562.0 1119.8M1562.0 1119.8L1669.8 1091.8" stroke="#FF3800"/>
<path d="M1238.6 1078.7L1346.4 921.1M1346.4 921.1L1454.2 1120.7M1454.2 1120.7L1562.0 1159.2M1562.0 1159.2L1669.8 1119.5" stroke="#FF3800"/>
<path d="M1238.6 1045.4L1346.4 921.1M1346.4 921.1L1454.2 1091.0M1454.2 1091.0L1562.0 1121.6M1562.0 1121.6L1669.8 1093.6" stroke="#FF3800"/>
<path d="M1238.6 1076.9L1346.4 921.1M1346.4 921.1L1454.2 1119.0M1454.2 1119.0L1562.0 1157.5M1562.0 1157.5L1669.8 1118.4" stroke="#FF3800"/>
<path d="M1238.6 1046.6L1346.4 921.1M1346.4 921.1L1454.2 1092.1M1454.2 1092.1L1562.0 1123.3M1562.0 1123.3L1669.8 1095.3" stroke="#F51E00"/>
<path d="M1238.6 1075.2L1346.4 921.1M1346.4 921.1L1454.2 1117.2M1454.2 1117.2L1562.0 1155.7M1562.0 1155.7L1669.8 1117.2" stroke="#F51E00"/>
<path d="M1238.6 1050.0L1346.4 921.1M1346.4 921.1L1454.2 1094.8M1454.2 1094.8L1562.0 1127.7M1562.0 1127.7L1669.8 1098.3" stroke="#F51E00"/>
<path d="M1238.6 1069.6L1346.4 921.1M1346.4 921.1L1454.2 1111.6M1454.2 1111.6L1562.0 1150.1M1562.0 1150.1L1669.8 1113.0" stroke="#F51E00"/>
<path d="M1238.6 1055.6L1346.4 921.1M1346.4 921.1L1454.2 1099.0M1454.2 1099.0L1562.0 1134.7M1562.0 1134.7L1669.8 1102.5" stroke="#DF0E00"/>
<path d="M1238.6 1064.0L1346.4 921.1M1346.4 921.1L1454.2 1106.0M1454.2 1106.0L1562.0 1144.5M1562.0 1144.5L1669.8 1108.8" stroke="#DF0E00"/>
<path d="M1238.6 1061.2L1346.4 921.1M1346.4 921.1L1454.2 1103.2M1454.2 1103.2L1562.0 1141.7M1562.0 1141.7L1669.8 1106.7" stroke="#DF0E00"/>
<path d="M1238.6 1061.2L1346.4 921.1M1346.4 921.1L1454.2 1103.2M1454.2 1103.2L1562.0 1141.7M1562.0 1141.7L1669.8 1106.7" stroke="#DF0E00"/>
</g>
<path d="M1130.8 849.9V1324.4H1777.6" stroke="#000" stroke-width="2.7" fill="none"/>
<text x="1125.5" y="855.9" text-anchor="end" font-size="21.5" textLength="43" lengthAdjust="spacingAndGlyphs">1.20</text>
<text x="1125.5" y="908.4" text-anchor="end" font-size="21.5" textLength="43" lengthAdjust="spacingAndGlyphs">1.05</text>
<text x="1125.5" y="960.9" text-anchor="end" font-size="21.5" textLength="43" lengthAdjust="spacingAndGlyphs">0.90</text>
<text x="1125.5" y="1013.5" text-anchor="end" font-size="21.5" textLength="43" lengthAdjust="spacingAndGlyphs">0.75</text>
<text x="1125.5" y="1066.0" text-anchor="end" font-size="21.5" textLength="43" lengthAdjust="spacingAndGlyphs">0.60</text>
<text x="1125.5" y="1118.5" text-anchor="end" font-size="21.5" textLength="43" lengthAdjust="spacingAndGlyphs">0.45</text>
<text x="1125.5" y="1171.0" text-anchor="end" font-size="21.5" textLength="43" lengthAdjust="spacingAndGlyphs">0.30</text>
<text x="1125.5" y="1223.6" text-anchor="end" font-size="21.5" textLength="43" lengthAdjust="spacingAndGlyphs">0.15</text>
<text x="1125.5" y="1276.1" text-anchor="end" font-size="21.5" textLength="43" lengthAdjust="spacingAndGlyphs">0.00</text>
<text x="1125.5" y="1328.6" text-anchor="end" font-size="21.5" textLength="51" lengthAdjust="spacingAndGlyphs">-0.15</text>
<path d="M1125.8 851.1H1130.8M1125.8 903.6H1130.8M1125.8 956.1H1130.8M1125.8 1008.7H1130.8M1125.8 1061.2H1130.8M1125.8 1113.7H1130.8M1125.8 1166.2H1130.8M1125.8 1218.8H1130.8M1125.8 1271.3H1130.8M1125.8 1323.8H1130.8M1238.6 1323.8V1328.8M1346.4 1323.8V1328.8M1454.2 1323.8V1328.8M1562.0 1323.8V1328.8M1669.8 1323.8V1328.8" stroke="#000" stroke-width="2.4" fill="none"/>
<text x="1238.6" y="1345.1" text-anchor="middle" font-size="21" textLength="29.8" lengthAdjust="spacingAndGlyphs">QC</text>
<text x="1346.4" y="1345.1" text-anchor="middle" font-size="21" textLength="47.5" lengthAdjust="spacingAndGlyphs">MCT</text>
<text x="1454.2" y="1345.1" text-anchor="middle" font-size="21" textLength="95.2" lengthAdjust="spacingAndGlyphs">MCT-NPS</text>
<text x="1562.0" y="1345.1" text-anchor="middle" font-size="21" textLength="40" lengthAdjust="spacingAndGlyphs">NPS</text>
<text x="1669.8" y="1345.1" text-anchor="middle" font-size="21" textLength="38" lengthAdjust="spacingAndGlyphs">Con</text>
<text x="1131.9" y="841.3" font-size="40" textLength="138.3" lengthAdjust="spacingAndGlyphs">Cluster</text>
<text x="1285.8" y="841.3" font-size="40" textLength="44.2" lengthAdjust="spacingAndGlyphs">#5</text>
<text x="1454.5" y="1389.9" text-anchor="middle" font-size="28" textLength="147.2" lengthAdjust="spacingAndGlyphs">time groups</text>
<text transform="translate(1043.4,1087.7) rotate(-90)" x="0" y="0" text-anchor="middle" font-size="27.5" textLength="317.8" lengthAdjust="spacingAndGlyphs">expression quantification</text>
<text x="1752.0" y="869.1" font-size="27" textLength="153.5" lengthAdjust="spacingAndGlyphs">membership</text>
<rect x="1792.0" y="1193.08" width="73.7" height="12.42" fill="#000080"/>
<rect x="1792.0" y="1180.97" width="73.7" height="12.42" fill="#0000A8"/>
<rect x="1792.0" y="1168.85" width="73.7" height="12.42" fill="#0000D4"/>
<rect x="1792.0" y="1156.74" width="73.7" height="12.42" fill="#0000FF"/>
<rect x="1792.0" y="1144.62" width="73.7" height="12.42" fill="#0028FF"/>
<rect x="1792.0" y="1132.50" width="73.7" height="12.42" fill="#0050FF"/>
<rect x="1792.0" y="1120.39" width="73.7" height="12.42" fill="#0078FF"/>
<rect x="1792.0" y="1108.27" width="73.7" height="12.42" fill="#009CFF"/>
<rect x="1792.0" y="1096.16" width="73.7" height="12.42" fill="#00C0FF"/>
<rect x="1792.0" y="1084.04" width="73.7" height="12.42" fill="#00DCF8"/>
<rect x="1792.0" y="1071.92" width="73.7" height="12.42" fill="#12F0E8"/>
<rect x="1792.0" y="1059.81" width="73.7" height="12.42" fill="#30FFC8"/>
<rect x="1792.0" y="1047.69" width="73.7" height="12.42" fill="#52FFA6"/>
<rect x="1792.0" y="1035.58" width="73.7" height="12.42" fill="#76FF82"/>
<rect x="1792.0" y="1023.46" width="73.7" height="12.42" fill="#9CFF5C"/>
<rect x="1792.0" y="1011.34" width="73.7" height="12.42" fill="#C4FF36"/>
<rect x="1792.0" y="999.23" width="73.7" height="12.42" fill="#ECFF14"/>
<rect x="1792.0" y="987.11" width="73.7" height="12.42" fill="#FFF200"/>
<rect x="1792.0" y="975.00" width="73.7" height="12.42" fill="#FFD200"/>
<rect x="1792.0" y="962.88" width="73.7" height="12.42" fill="#FFAA00"/>
<rect x="1792.0" y="950.76" width="73.7" height="12.42" fill="#FF8000"/>
<rect x="1792.0" y="938.65" width="73.7" height="12.42" fill="#FF5A00"/>
<rect x="1792.0" y="926.53" width="73.7" height="12.42" fill="#FF3800"/>
<rect x="1792.0" y="914.42" width="73.7" height="12.42" fill="#F51E00"/>
<rect x="1792.0" y="902.30" width="73.7" height="12.42" fill="#DF0E00"/>
<text x="1879.0" y="903.5" font-size="20.5" textLength="45" lengthAdjust="spacingAndGlyphs">0.98</text>
<text x="1880.0" y="931.0" font-size="18" style="font-weight:normal;fill:#737373" textLength="35.4" lengthAdjust="spacingAndGlyphs">0.90</text>
<text x="1880.0" y="958.6" font-size="18" style="font-weight:normal;fill:#737373" textLength="35.4" lengthAdjust="spacingAndGlyphs">0.82</text>
<text x="1880.0" y="986.1" font-size="18" style="font-weight:normal;fill:#737373" textLength="35.4" lengthAdjust="spacingAndGlyphs">0.75</text>
<text x="1880.0" y="1013.6" font-size="18" style="font-weight:normal;fill:#737373" textLength="35.4" lengthAdjust="spacingAndGlyphs">0.68</text>
<text x="1880.0" y="1041.2" font-size="18" style="font-weight:normal;fill:#737373" textLength="35.4" lengthAdjust="spacingAndGlyphs">0.60</text>
<text x="1880.0" y="1068.7" font-size="18" style="font-weight:normal;fill:#737373" textLength="35.4" lengthAdjust="spacingAndGlyphs">0.53</text>
<text x="1880.0" y="1096.3" font-size="18" style="font-weight:normal;fill:#737373" textLength="35.4" lengthAdjust="spacingAndGlyphs">0.45</text>
<text x="1880.0" y="1123.8" font-size="18" style="font-weight:normal;fill:#737373" textLength="35.4" lengthAdjust="spacingAndGlyphs">0.38</text>
<text x="1880.0" y="1151.3" font-size="18" style="font-weight:normal;fill:#737373" textLength="35.4" lengthAdjust="spacingAndGlyphs">0.30</text>
<text x="1880.0" y="1178.9" font-size="18" style="font-weight:normal;fill:#737373" textLength="35.4" lengthAdjust="spacingAndGlyphs">0.23</text>
<text x="1879.0" y="1206.4" font-size="20.5" textLength="45" lengthAdjust="spacingAndGlyphs">0.15</text>
<path d="M1871.5 902.3V1205.2M1871.5 902.3H1876.0M1871.5 929.8H1876.0M1871.5 957.4H1876.0M1871.5 984.9H1876.0M1871.5 1012.4H1876.0M1871.5 1040.0H1876.0M1871.5 1067.5H1876.0M1871.5 1095.1H1876.0M1871.5 1122.6H1876.0M1871.5 1150.1H1876.0M1871.5 1177.7H1876.0M1871.5 1205.2H1876.0" stroke="#808080" stroke-width="1.4" fill="none"/>
<rect x="2055.8" y="851.1" width="646.8" height="472.7" fill="#F4F4F4"/>
<path d="M2055.8 851.1H2702.6M2055.8 903.6H2702.6M2055.8 956.1H2702.6M2055.8 1008.7H2702.6M2055.8 1061.2H2702.6M2055.8 1113.7H2702.6M2055.8 1166.2H2702.6M2055.8 1218.8H2702.6M2055.8 1271.3H2702.6M2055.8 1323.8H2702.6" stroke="#FFFFFF" stroke-width="1.2" stroke-dasharray="1 1" fill="none"/>
<path d="M2163.6 851.1V1323.8M2271.4 851.1V1323.8M2379.2 851.1V1323.8M2487.0 851.1V1323.8M2594.8 851.1V1323.8" stroke="#FFFFFF" stroke-width="1.2" stroke-dasharray="2.5 1.5" fill="none"/>
<clipPath id="clip6"><rect x="2055.8" y="851.1" width="646.8" height="472.7"/></clipPath>
<g clip-path="url(#clip6)" fill="none" stroke-width="15" stroke-linecap="butt">
<path d="M2163.6 984.2L2271.4 1166.2M2271.4 1166.2L2379.2 921.1M2379.2 921.1L2487.0 956.1M2487.0 956.1L2594.8 1026.2" stroke="#000080"/>
<path d="M2163.6 924.6L2271.4 1138.2M2271.4 1138.2L2379.2 921.1M2379.2 921.1L2487.0 938.6M2487.0 938.6L2594.8 1026.2" stroke="#0000A8"/>
<path d="M2163.6 1236.3L2271.4 1274.8M2271.4 1274.8L2379.2 998.2M2379.2 998.2L2487.0 1243.3M2487.0 1243.3L2594.8 1236.3" stroke="#0000A8"/>
<path d="M2163.6 935.1L2271.4 1124.2M2271.4 1124.2L2379.2 921.1M2379.2 921.1L2487.0 938.6M2487.0 938.6L2594.8 1026.2" stroke="#0000D4"/>
<path d="M2163.6 1005.2L2271.4 1054.2M2271.4 1054.2L2379.2 921.1M2379.2 921.1L2487.0 921.1M2487.0 921.1L2594.8 1019.2" stroke="#0000D4"/>
<path d="M2163.6 1271.3L2271.4 1274.8M2271.4 1274.8L2379.2 921.1M2379.2 921.1L2487.0 1264.3M2487.0 1264.3L2594.8 1271.3" stroke="#0000D4"/>
<path d="M2163.6 949.1L2271.4 1110.2M2271.4 1110.2L2379.2 921.1M2379.2 921.1L2487.0 938.6M2487.0 938.6L2594.8 1026.2" stroke="#0000FF"/>
<path d="M2163.6 1005.2L2271.4 1054.2M2271.4 1054.2L2379.2 921.1M2379.2 921.1L2487.0 921.1M2487.0 921.1L2594.8 1019.2" stroke="#0000FF"/>
<path d="M2163.6 1271.3L2271.4 1274.8M2271.4 1274.8L2379.2 921.1M2379.2 921.1L2487.0 1264.3M2487.0 1264.3L2594.8 1271.3" stroke="#0000FF"/>
<path d="M2163.6 1006.9L2271.4 1055.9M2271.4 1055.9L2379.2 921.1M2379.2 921.1L2487.0 934.3M2487.0 934.3L2594.8 1029.7" stroke="#0000FF"/>
<path d="M2163.6 1271.3L2271.4 1274.8M2271.4 1274.8L2379.2 921.1M2379.2 921.1L2487.0 1264.3M2487.0 1264.3L2594.8 1271.3" stroke="#0000FF"/>
<path d="M2163.6 1236.3L2271.4 1274.8M2271.4 1274.8L2379.2 984.2M2379.2 984.2L2487.0 1253.8M2487.0 1253.8L2594.8 1236.3" stroke="#0028FF"/>
<path d="M2163.6 1008.7L2271.4 1057.7M2271.4 1057.7L2379.2 921.1M2379.2 921.1L2487.0 947.4M2487.0 947.4L2594.8 1040.2" stroke="#0028FF"/>
<path d="M2163.6 1271.3L2271.4 1274.8M2271.4 1274.8L2379.2 921.1M2379.2 921.1L2487.0 1264.3M2487.0 1264.3L2594.8 1271.3" stroke="#0028FF"/>
<path d="M2163.6 970.2L2271.4 1096.2M2271.4 1096.2L2379.2 921.1M2379.2 921.1L2487.0 956.1M2487.0 956.1L2594.8 1043.7" stroke="#0028FF"/>
<path d="M2163.6 1010.4L2271.4 1059.4M2271.4 1059.4L2379.2 921.1M2379.2 921.1L2487.0 960.5M2487.0 960.5L2594.8 1050.7" stroke="#0028FF"/>
<path d="M2163.6 1271.3L2271.4 1274.8M2271.4 1274.8L2379.2 921.1M2379.2 921.1L2487.0 1264.3M2487.0 1264.3L2594.8 1271.3" stroke="#0028FF"/>
<path d="M2163.6 1012.2L2271.4 1061.2M2271.4 1061.2L2379.2 921.1M2379.2 921.1L2487.0 973.7M2487.0 973.7L2594.8 1061.2" stroke="#0050FF"/>
<path d="M2163.6 1271.3L2271.4 1274.8M2271.4 1274.8L2379.2 921.1M2379.2 921.1L2487.0 1264.3M2487.0 1264.3L2594.8 1271.3" stroke="#0050FF"/>
<path d="M2163.6 1013.6L2271.4 1064.0M2271.4 1064.0L2379.2 921.1M2379.2 921.1L2487.0 980.0M2487.0 980.0L2594.8 1066.1" stroke="#0050FF"/>
<path d="M2163.6 1271.3L2271.4 1274.8M2271.4 1274.8L2379.2 921.1M2379.2 921.1L2487.0 1264.3M2487.0 1264.3L2594.8 1271.3" stroke="#0050FF"/>
<path d="M2163.6 1015.0L2271.4 1066.8M2271.4 1066.8L2379.2 921.1M2379.2 921.1L2487.0 986.3M2487.0 986.3L2594.8 1071.0" stroke="#0078FF"/>
<path d="M2163.6 1271.3L2271.4 1274.8M2271.4 1274.8L2379.2 921.1M2379.2 921.1L2487.0 1264.3M2487.0 1264.3L2594.8 1271.3" stroke="#0078FF"/>
<path d="M2163.6 1016.4L2271.4 1069.6M2271.4 1069.6L2379.2 921.1M2379.2 921.1L2487.0 992.6M2487.0 992.6L2594.8 1075.9" stroke="#0078FF"/>
<path d="M2163.6 1271.3L2271.4 1274.8M2271.4 1274.8L2379.2 921.1M2379.2 921.1L2487.0 1264.3M2487.0 1264.3L2594.8 1271.3" stroke="#0078FF"/>
<path d="M2163.6 1017.8L2271.4 1072.4M2271.4 1072.4L2379.2 921.1M2379.2 921.1L2487.0 998.9M2487.0 998.9L2594.8 1080.8" stroke="#009CFF"/>
<path d="M2163.6 1271.3L2271.4 1274.8M2271.4 1274.8L2379.2 921.1M2379.2 921.1L2487.0 1264.3M2487.0 1264.3L2594.8 1271.3" stroke="#009CFF"/>
<path d="M2163.6 1019.2L2271.4 1075.2M2271.4 1075.2L2379.2 921.1M2379.2 921.1L2487.0 1005.2M2487.0 1005.2L2594.8 1085.7" stroke="#009CFF"/>
<path d="M2163.6 1271.3L2271.4 1274.8M2271.4 1274.8L2379.2 921.1M2379.2 921.1L2487.0 1264.3M2487.0 1264.3L2594.8 1271.3" stroke="#009CFF"/>
<path d="M2163.6 1025.0L2271.4 1078.7M2271.4 1078.7L2379.2 921.1M2379.2 921.1L2487.0 1008.7M2487.0 1008.7L2594.8 1090.4" stroke="#00C0FF"/>
<path d="M2163.6 1271.3L2271.4 1274.8M2271.4 1274.8L2379.2 921.1M2379.2 921.1L2487.0 1264.3M2487.0 1264.3L2594.8 1271.3" stroke="#00C0FF"/>
<path d="M2163.6 1030.8L2271.4 1082.2M2271.4 1082.2L2379.2 921.1M2379.2 921.1L2487.0 1012.2M2487.0 1012.2L2594.8 1095.0" stroke="#00C0FF"/>
<path d="M2163.6 1271.3L2271.4 1274.8M2271.4 1274.8L2379.2 921.1M2379.2 921.1L2487.0 1264.3M2487.0 1264.3L2594.8 1271.3" stroke="#00C0FF"/>
<path d="M2163.6 1036.7L2271.4 1085.7M2271.4 1085.7L2379.2 921.1M2379.2 921.1L2487.0 1015.7M2487.0 1015.7L2594.8 1099.7" stroke="#00DCF8"/>
<path d="M2163.6 1271.3L2271.4 1274.8M2271.4 1274.8L2379.2 921.1M2379.2 921.1L2487.0 1264.3M2487.0 1264.3L2594.8 1271.3" stroke="#00DCF8"/>
<path d="M2163.6 1042.5L2271.4 1089.2M2271.4 1089.2L2379.2 921.1M2379.2 921.1L2487.0 1019.2M2487.0 1019.2L2594.8 1104.4" stroke="#00DCF8"/>
<path d="M2163.6 1271.3L2271.4 1274.8M2271.4 1274.8L2379.2 921.1M2379.2 921.1L2487.0 1264.3M2487.0 1264.3L2594.8 1271.3" stroke="#00DCF8"/>
<path d="M2163.6 1048.4L2271.4 1092.7M2271.4 1092.7L2379.2 921.1M2379.2 921.1L2487.0 1022.7M2487.0 1022.7L2594.8 1109.0" stroke="#12F0E8"/>
<path d="M2163.6 1271.3L2271.4 1274.8M2271.4 1274.8L2379.2 921.1M2379.2 921.1L2487.0 1264.3M2487.0 1264.3L2594.8 1271.3" stroke="#12F0E8"/>
<path d="M2163.6 1054.2L2271.4 1096.2M2271.4 1096.2L2379.2 921.1M2379.2 921.1L2487.0 1026.2M2487.0 1026.2L2594.8 1113.7" stroke="#12F0E8"/>
<path d="M2163.6 1271.3L2271.4 1274.8M2271.4 1274.8L2379.2 921.1M2379.2 921.1L2487.0 1264.3M2487.0 1264.3L2594.8 1271.3" stroke="#12F0E8"/>
<path d="M2163.6 1057.7L2271.4 1099.7M2271.4 1099.7L2379.2 921.1M2379.2 921.1L2487.0 1032.0M2487.0 1032.0L2594.8 1117.8" stroke="#30FFC8"/>
<path d="M2163.6 1265.4L2271.4 1274.8M2271.4 1274.8L2379.2 921.1M2379.2 921.1L2487.0 1260.8M2487.0 1260.8L2594.8 1270.7" stroke="#30FFC8"/>
<path d="M2163.6 1061.2L2271.4 1103.2M2271.4 1103.2L2379.2 921.1M2379.2 921.1L2487.0 1037.8M2487.0 1037.8L2594.8 1121.9" stroke="#30FFC8"/>
<path d="M2163.6 1259.6L2271.4 1274.8M2271.4 1274.8L2379.2 921.1M2379.2 921.1L2487.0 1257.3M2487.0 1257.3L2594.8 1270.1" stroke="#30FFC8"/>
<path d="M2163.6 1064.7L2271.4 1106.7M2271.4 1106.7L2379.2 921.1M2379.2 921.1L2487.0 1043.7M2487.0 1043.7L2594.8 1126.0" stroke="#52FFA6"/>
<path d="M2163.6 1253.8L2271.4 1274.8M2271.4 1274.8L2379.2 921.1M2379.2 921.1L2487.0 1253.8M2487.0 1253.8L2594.8 1269.5" stroke="#52FFA6"/>
<path d="M2163.6 1068.2L2271.4 1110.2M2271.4 1110.2L2379.2 921.1M2379.2 921.1L2487.0 1049.5M2487.0 1049.5L2594.8 1130.1" stroke="#52FFA6"/>
<path d="M2163.6 1247.9L2271.4 1274.8M2271.4 1274.8L2379.2 921.1M2379.2 921.1L2487.0 1250.3M2487.0 1250.3L2594.8 1268.9" stroke="#52FFA6"/>
<path d="M2163.6 1071.7L2271.4 1113.7M2271.4 1113.7L2379.2 921.1M2379.2 921.1L2487.0 1055.4M2487.0 1055.4L2594.8 1134.1" stroke="#52FFA6"/>
<path d="M2163.6 1242.1L2271.4 1274.8M2271.4 1274.8L2379.2 921.1M2379.2 921.1L2487.0 1246.8M2487.0 1246.8L2594.8 1268.4" stroke="#52FFA6"/>
<path d="M2163.6 1075.2L2271.4 1117.2M2271.4 1117.2L2379.2 921.1M2379.2 921.1L2487.0 1061.2M2487.0 1061.2L2594.8 1138.2" stroke="#76FF82"/>
<path d="M2163.6 1236.3L2271.4 1274.8M2271.4 1274.8L2379.2 921.1M2379.2 921.1L2487.0 1243.3M2487.0 1243.3L2594.8 1267.8" stroke="#76FF82"/>
<path d="M2163.6 1077.8L2271.4 1119.8M2271.4 1119.8L2379.2 921.1M2379.2 921.1L2487.0 1069.9M2487.0 1069.9L2594.8 1140.8" stroke="#76FF82"/>
<path d="M2163.6 1234.5L2271.4 1274.3M2271.4 1274.3L2379.2 921.1M2379.2 921.1L2487.0 1241.5M2487.0 1241.5L2594.8 1266.9" stroke="#76FF82"/>
<path d="M2163.6 1080.4L2271.4 1122.5M2271.4 1122.5L2379.2 921.1M2379.2 921.1L2487.0 1078.7M2487.0 1078.7L2594.8 1143.5" stroke="#9CFF5C"/>
<path d="M2163.6 1232.8L2271.4 1273.9M2271.4 1273.9L2379.2 921.1M2379.2 921.1L2487.0 1239.8M2487.0 1239.8L2594.8 1266.0" stroke="#9CFF5C"/>
<path d="M2163.6 1083.1L2271.4 1125.1M2271.4 1125.1L2379.2 921.1M2379.2 921.1L2487.0 1087.5M2487.0 1087.5L2594.8 1146.1" stroke="#9CFF5C"/>
<path d="M2163.6 1231.0L2271.4 1273.5M2271.4 1273.5L2379.2 921.1M2379.2 921.1L2487.0 1238.0M2487.0 1238.0L2594.8 1265.2" stroke="#9CFF5C"/>
<path d="M2163.6 1085.7L2271.4 1127.7M2271.4 1127.7L2379.2 921.1M2379.2 921.1L2487.0 1096.2M2487.0 1096.2L2594.8 1148.7" stroke="#C4FF36"/>
<path d="M2163.6 1229.3L2271.4 1273.0M2271.4 1273.0L2379.2 921.1M2379.2 921.1L2487.0 1236.3M2487.0 1236.3L2594.8 1264.3" stroke="#C4FF36"/>
<path d="M2163.6 1088.3L2271.4 1129.5M2271.4 1129.5L2379.2 921.1M2379.2 921.1L2487.0 1101.5M2487.0 1101.5L2594.8 1151.4" stroke="#C4FF36"/>
<path d="M2163.6 1227.5L2271.4 1272.6M2271.4 1272.6L2379.2 921.1M2379.2 921.1L2487.0 1234.5M2487.0 1234.5L2594.8 1263.4" stroke="#C4FF36"/>
<path d="M2163.6 1091.0L2271.4 1131.2M2271.4 1131.2L2379.2 921.1M2379.2 921.1L2487.0 1106.7M2487.0 1106.7L2594.8 1154.0" stroke="#ECFF14"/>
<path d="M2163.6 1225.8L2271.4 1272.2M2271.4 1272.2L2379.2 921.1M2379.2 921.1L2487.0 1232.8M2487.0 1232.8L2594.8 1262.5" stroke="#ECFF14"/>
<path d="M2163.6 1093.6L2271.4 1133.0M2271.4 1133.0L2379.2 921.1M2379.2 921.1L2487.0 1112.0M2487.0 1112.0L2594.8 1156.6" stroke="#ECFF14"/>
<path d="M2163.6 1224.0L2271.4 1271.7M2271.4 1271.7L2379.2 921.1M2379.2 921.1L2487.0 1231.0M2487.0 1231.0L2594.8 1261.6" stroke="#ECFF14"/>
<path d="M2163.6 1096.2L2271.4 1134.7M2271.4 1134.7L2379.2 921.1M2379.2 921.1L2487.0 1117.2M2487.0 1117.2L2594.8 1159.2" stroke="#FFF200"/>
<path d="M2163.6 1222.3L2271.4 1271.3M2271.4 1271.3L2379.2 921.1M2379.2 921.1L2487.0 1229.3M2487.0 1229.3L2594.8 1260.8" stroke="#FFF200"/>
<path d="M2163.6 1099.4L2271.4 1137.4M2271.4 1137.4L2379.2 921.1M2379.2 921.1L2487.0 1120.4M2487.0 1120.4L2594.8 1161.9" stroke="#FFF200"/>
<path d="M2163.6 1213.9L2271.4 1262.9M2271.4 1262.9L2379.2 921.1M2379.2 921.1L2487.0 1222.3M2487.0 1222.3L2594.8 1258.0" stroke="#FFF200"/>
<path d="M2163.6 1102.7L2271.4 1140.1M2271.4 1140.1L2379.2 921.1M2379.2 921.1L2487.0 1123.7M2487.0 1123.7L2594.8 1164.6" stroke="#FFD200"/>
<path d="M2163.6 1205.4L2271.4 1254.5M2271.4 1254.5L2379.2 921.1M2379.2 921.1L2487.0 1215.3M2487.0 1215.3L2594.8 1255.2" stroke="#FFD200"/>
<path d="M2163.6 1105.9L2271.4 1142.8M2271.4 1142.8L2379.2 921.1M2379.2 921.1L2487.0 1126.9M2487.0 1126.9L2594.8 1167.3" stroke="#FFD200"/>
<path d="M2163.6 1199.5L2271.4 1246.8M2271.4 1246.8L2379.2 921.1M2379.2 921.1L2487.0 1209.6M2487.0 1209.6L2594.8 1251.6" stroke="#FFD200"/>
<path d="M2163.6 1109.1L2271.4 1145.5M2271.4 1145.5L2379.2 921.1M2379.2 921.1L2487.0 1130.1M2487.0 1130.1L2594.8 1170.0" stroke="#FFAA00"/>
<path d="M2163.6 1196.0L2271.4 1239.8M2271.4 1239.8L2379.2 921.1M2379.2 921.1L2487.0 1205.2M2487.0 1205.2L2594.8 1247.2" stroke="#FFAA00"/>
<path d="M2163.6 1112.4L2271.4 1148.2M2271.4 1148.2L2379.2 921.1M2379.2 921.1L2487.0 1133.4M2487.0 1133.4L2594.8 1172.7" stroke="#FFAA00"/>
<path d="M2163.6 1192.5L2271.4 1232.8M2271.4 1232.8L2379.2 921.1M2379.2 921.1L2487.0 1200.8M2487.0 1200.8L2594.8 1242.8" stroke="#FFAA00"/>
<path d="M2163.6 1115.6L2271.4 1150.9M2271.4 1150.9L2379.2 921.1M2379.2 921.1L2487.0 1136.6M2487.0 1136.6L2594.8 1175.4" stroke="#FF8000"/>
<path d="M2163.6 1189.0L2271.4 1225.8M2271.4 1225.8L2379.2 921.1M2379.2 921.1L2487.0 1196.4M2487.0 1196.4L2594.8 1238.5" stroke="#FF8000"/>
<path d="M2163.6 1118.8L2271.4 1153.8M2271.4 1153.8L2379.2 921.1M2379.2 921.1L2487.0 1139.4M2487.0 1139.4L2594.8 1177.9" stroke="#FF8000"/>
<path d="M2163.6 1186.1L2271.4 1219.9M2271.4 1219.9L2379.2 921.1M2379.2 921.1L2487.0 1192.7M2487.0 1192.7L2594.8 1234.3" stroke="#FF8000"/>
<path d="M2163.6 1121.9L2271.4 1156.9M2271.4 1156.9L2379.2 921.1M2379.2 921.1L2487.0 1141.7M2487.0 1141.7L2594.8 1180.2" stroke="#FF5A00"/>
<path d="M2163.6 1183.7L2271.4 1215.3M2271.4 1215.3L2379.2 921.1M2379.2 921.1L2487.0 1189.6M2487.0 1189.6L2594.8 1230.4" stroke="#FF5A00"/>
<path d="M2163.6 1125.0L2271.4 1160.0M2271.4 1160.0L2379.2 921.1M2379.2 921.1L2487.0 1144.1M2487.0 1144.1L2594.8 1182.6" stroke="#FF5A00"/>
<path d="M2163.6 1181.4L2271.4 1210.6M2271.4 1210.6L2379.2 921.1M2379.2 921.1L2487.0 1186.5M2487.0 1186.5L2594.8 1226.5" stroke="#FF5A00"/>
<path d="M2163.6 1128.1L2271.4 1163.1M2271.4 1163.1L2379.2 921.1M2379.2 921.1L2487.0 1146.4M2487.0 1146.4L2594.8 1184.9" stroke="#FF3800"/>
<path d="M2163.6 1179.1L2271.4 1205.9M2271.4 1205.9L2379.2 921.1M2379.2 921.1L2487.0 1183.4M2487.0 1183.4L2594.8 1222.6" stroke="#FF3800"/>
<path d="M2163.6 1131.2L2271.4 1166.2M2271.4 1166.2L2379.2 921.1M2379.2 921.1L2487.0 1148.7M2487.0 1148.7L2594.8 1187.2" stroke="#FF3800"/>
<path d="M2163.6 1176.7L2271.4 1201.2M2271.4 1201.2L2379.2 921.1M2379.2 921.1L2487.0 1180.2M2487.0 1180.2L2594.8 1218.8" stroke="#FF3800"/>
<path d="M2163.6 1137.3L2271.4 1171.5M2271.4 1171.5L2379.2 921.1M2379.2 921.1L2487.0 1151.4M2487.0 1151.4L2594.8 1190.7" stroke="#F51E00"/>
<path d="M2163.6 1171.5L2271.4 1197.7M2271.4 1197.7L2379.2 921.1M2379.2 921.1L2487.0 1175.0M2487.0 1175.0L2594.8 1214.4" stroke="#F51E00"/>
<path d="M2163.6 1143.5L2271.4 1176.7M2271.4 1176.7L2379.2 921.1M2379.2 921.1L2487.0 1154.0M2487.0 1154.0L2594.8 1194.2" stroke="#F51E00"/>
<path d="M2163.6 1166.2L2271.4 1194.2M2271.4 1194.2L2379.2 921.1M2379.2 921.1L2487.0 1169.7M2487.0 1169.7L2594.8 1210.0" stroke="#F51E00"/>
<path d="M2163.6 1149.6L2271.4 1182.0M2271.4 1182.0L2379.2 921.1M2379.2 921.1L2487.0 1156.6M2487.0 1156.6L2594.8 1197.7" stroke="#DF0E00"/>
<path d="M2163.6 1161.0L2271.4 1190.7M2271.4 1190.7L2379.2 921.1M2379.2 921.1L2487.0 1164.5M2487.0 1164.5L2594.8 1205.6" stroke="#DF0E00"/>
<path d="M2163.6 1155.7L2271.4 1187.2M2271.4 1187.2L2379.2 921.1M2379.2 921.1L2487.0 1159.2M2487.0 1159.2L2594.8 1201.2" stroke="#DF0E00"/>
<path d="M2163.6 1155.7L2271.4 1187.2M2271.4 1187.2L2379.2 921.1M2379.2 921.1L2487.0 1159.2M2487.0 1159.2L2594.8 1201.2" stroke="#DF0E00"/>
</g>
<path d="M2055.8 849.9V1324.4H2702.6" stroke="#000" stroke-width="2.7" fill="none"/>
<text x="2050.5" y="855.9" text-anchor="end" font-size="21.5" textLength="43" lengthAdjust="spacingAndGlyphs">1.20</text>
<text x="2050.5" y="908.4" text-anchor="end" font-size="21.5" textLength="43" lengthAdjust="spacingAndGlyphs">1.05</text>
<text x="2050.5" y="960.9" text-anchor="end" font-size="21.5" textLength="43" lengthAdjust="spacingAndGlyphs">0.90</text>
<text x="2050.5" y="1013.5" text-anchor="end" font-size="21.5" textLength="43" lengthAdjust="spacingAndGlyphs">0.75</text>
<text x="2050.5" y="1066.0" text-anchor="end" font-size="21.5" textLength="43" lengthAdjust="spacingAndGlyphs">0.60</text>
<text x="2050.5" y="1118.5" text-anchor="end" font-size="21.5" textLength="43" lengthAdjust="spacingAndGlyphs">0.45</text>
<text x="2050.5" y="1171.0" text-anchor="end" font-size="21.5" textLength="43" lengthAdjust="spacingAndGlyphs">0.30</text>
<text x="2050.5" y="1223.6" text-anchor="end" font-size="21.5" textLength="43" lengthAdjust="spacingAndGlyphs">0.15</text>
<text x="2050.5" y="1276.1" text-anchor="end" font-size="21.5" textLength="43" lengthAdjust="spacingAndGlyphs">0.00</text>
<text x="2050.5" y="1328.6" text-anchor="end" font-size="21.5" textLength="51" lengthAdjust="spacingAndGlyphs">-0.15</text>
<path d="M2050.8 851.1H2055.8M2050.8 903.6H2055.8M2050.8 956.1H2055.8M2050.8 1008.7H2055.8M2050.8 1061.2H2055.8M2050.8 1113.7H2055.8M2050.8 1166.2H2055.8M2050.8 1218.8H2055.8M2050.8 1271.3H2055.8M2050.8 1323.8H2055.8M2163.6 1323.8V1328.8M2271.4 1323.8V1328.8M2379.2 1323.8V1328.8M2487.0 1323.8V1328.8M2594.8 1323.8V1328.8" stroke="#000" stroke-width="2.4" fill="none"/>
<text x="2163.6" y="1345.1" text-anchor="middle" font-size="21" textLength="29.8" lengthAdjust="spacingAndGlyphs">QC</text>
<text x="2271.4" y="1345.1" text-anchor="middle" font-size="21" textLength="47.5" lengthAdjust="spacingAndGlyphs">MCT</text>
<text x="2379.2" y="1345.1" text-anchor="middle" font-size="21" textLength="95.2" lengthAdjust="spacingAndGlyphs">MCT-NPS</text>
<text x="2487.0" y="1345.1" text-anchor="middle" font-size="21" textLength="40" lengthAdjust="spacingAndGlyphs">NPS</text>
<text x="2594.8" y="1345.1" text-anchor="middle" font-size="21" textLength="38" lengthAdjust="spacingAndGlyphs">Con</text>
<text x="2056.9" y="841.3" font-size="40" textLength="138.3" lengthAdjust="spacingAndGlyphs">Cluster</text>
<text x="2210.8" y="841.3" font-size="40" textLength="44.2" lengthAdjust="spacingAndGlyphs">#6</text>
<text x="2379.5" y="1389.9" text-anchor="middle" font-size="28" textLength="147.2" lengthAdjust="spacingAndGlyphs">time groups</text>
<text transform="translate(1968.4,1087.7) rotate(-90)" x="0" y="0" text-anchor="middle" font-size="27.5" textLength="317.8" lengthAdjust="spacingAndGlyphs">expression quantification</text>
<text x="2677.0" y="869.1" font-size="27" textLength="153.5" lengthAdjust="spacingAndGlyphs">membership</text>
<rect x="2717.0" y="1193.08" width="73.7" height="12.42" fill="#000080"/>
<rect x="2717.0" y="1180.97" width="73.7" height="12.42" fill="#0000A8"/>
<rect x="2717.0" y="1168.85" width="73.7" height="12.42" fill="#0000D4"/>
<rect x="2717.0" y="1156.74" width="73.7" height="12.42" fill="#0000FF"/>
<rect x="2717.0" y="1144.62" width="73.7" height="12.42" fill="#0028FF"/>
<rect x="2717.0" y="1132.50" width="73.7" height="12.42" fill="#0050FF"/>
<rect x="2717.0" y="1120.39" width="73.7" height="12.42" fill="#0078FF"/>
<rect x="2717.0" y="1108.27" width="73.7" height="12.42" fill="#009CFF"/>
<rect x="2717.0" y="1096.16" width="73.7" height="12.42" fill="#00C0FF"/>
<rect x="2717.0" y="1084.04" width="73.7" height="12.42" fill="#00DCF8"/>
<rect x="2717.0" y="1071.92" width="73.7" height="12.42" fill="#12F0E8"/>
<rect x="2717.0" y="1059.81" width="73.7" height="12.42" fill="#30FFC8"/>
<rect x="2717.0" y="1047.69" width="73.7" height="12.42" fill="#52FFA6"/>
<rect x="2717.0" y="1035.58" width="73.7" height="12.42" fill="#76FF82"/>
<rect x="2717.0" y="1023.46" width="73.7" height="12.42" fill="#9CFF5C"/>
<rect x="2717.0" y="1011.34" width="73.7" height="12.42" fill="#C4FF36"/>
<rect x="2717.0" y="999.23" width="73.7" height="12.42" fill="#ECFF14"/>
<rect x="2717.0" y="987.11" width="73.7" height="12.42" fill="#FFF200"/>
<rect x="2717.0" y="975.00" width="73.7" height="12.42" fill="#FFD200"/>
<rect x="2717.0" y="962.88" width="73.7" height="12.42" fill="#FFAA00"/>
<rect x="2717.0" y="950.76" width="73.7" height="12.42" fill="#FF8000"/>
<rect x="2717.0" y="938.65" width="73.7" height="12.42" fill="#FF5A00"/>
<rect x="2717.0" y="926.53" width="73.7" height="12.42" fill="#FF3800"/>
<rect x="2717.0" y="914.42" width="73.7" height="12.42" fill="#F51E00"/>
<rect x="2717.0" y="902.30" width="73.7" height="12.42" fill="#DF0E00"/>
<text x="2804.0" y="903.5" font-size="20.5" textLength="45" lengthAdjust="spacingAndGlyphs">1.00</text>
<text x="2805.0" y="937.2" font-size="18" style="font-weight:normal;fill:#737373" textLength="35.4" lengthAdjust="spacingAndGlyphs">0.90</text>
<text x="2805.0" y="970.8" font-size="18" style="font-weight:normal;fill:#737373" textLength="35.4" lengthAdjust="spacingAndGlyphs">0.80</text>
<text x="2805.0" y="1004.5" font-size="18" style="font-weight:normal;fill:#737373" textLength="35.4" lengthAdjust="spacingAndGlyphs">0.70</text>
<text x="2805.0" y="1038.1" font-size="18" style="font-weight:normal;fill:#737373" textLength="35.4" lengthAdjust="spacingAndGlyphs">0.60</text>
<text x="2805.0" y="1071.8" font-size="18" style="font-weight:normal;fill:#737373" textLength="35.4" lengthAdjust="spacingAndGlyphs">0.50</text>
<text x="2805.0" y="1105.4" font-size="18" style="font-weight:normal;fill:#737373" textLength="35.4" lengthAdjust="spacingAndGlyphs">0.40</text>
<text x="2805.0" y="1139.1" font-size="18" style="font-weight:normal;fill:#737373" textLength="35.4" lengthAdjust="spacingAndGlyphs">0.30</text>
<text x="2805.0" y="1172.7" font-size="18" style="font-weight:normal;fill:#737373" textLength="35.4" lengthAdjust="spacingAndGlyphs">0.20</text>
<text x="2804.0" y="1206.4" font-size="20.5" textLength="45" lengthAdjust="spacingAndGlyphs">0.10</text>
<path d="M2796.5 902.3V1205.2M2796.5 902.3H2801.0M2796.5 936.0H2801.0M2796.5 969.6H2801.0M2796.5 1003.3H2801.0M2796.5 1036.9H2801.0M2796.5 1070.6H2801.0M2796.5 1104.2H2801.0M2796.5 1137.9H2801.0M2796.5 1171.5H2801.0M2796.5 1205.2H2801.0" stroke="#808080" stroke-width="1.4" fill="none"/>
<rect x="205.8" y="1526.1" width="646.8" height="472.7" fill="#F4F4F4"/>
<path d="M205.8 1526.1H852.6M205.8 1578.6H852.6M205.8 1631.1H852.6M205.8 1683.7H852.6M205.8 1736.2H852.6M205.8 1788.7H852.6M205.8 1841.2H852.6M205.8 1893.8H852.6M205.8 1946.3H852.6M205.8 1998.8H852.6" stroke="#FFFFFF" stroke-width="1.2" stroke-dasharray="1 1" fill="none"/>
<path d="M313.6 1526.1V1998.8M421.4 1526.1V1998.8M529.2 1526.1V1998.8M637.0 1526.1V1998.8M744.8 1526.1V1998.8" stroke="#FFFFFF" stroke-width="1.2" stroke-dasharray="2.5 1.5" fill="none"/>
<clipPath id="clip7"><rect x="205.8" y="1526.1" width="646.8" height="472.7"/></clipPath>
<g clip-path="url(#clip7)" fill="none" stroke-width="15" stroke-linecap="butt">
<path d="M313.6 1771.2L421.4 1736.2M421.4 1736.2L529.2 1932.3M529.2 1932.3L637.0 1841.2M637.0 1841.2L744.8 1666.2" stroke="#000080"/>
<path d="M313.6 1666.2L421.4 1683.7M421.4 1683.7L529.2 1624.1M529.2 1624.1L637.0 1666.2M637.0 1666.2L744.8 1596.1" stroke="#0000A8"/>
<path d="M313.6 1823.7L421.4 1788.7M421.4 1788.7L529.2 1928.8M529.2 1928.8L637.0 1904.3M637.0 1904.3L744.8 1711.7" stroke="#0000A8"/>
<path d="M313.6 1821.6L421.4 1785.2M421.4 1785.2L529.2 1923.2M529.2 1923.2L637.0 1902.2M637.0 1902.2L744.8 1711.0" stroke="#0000D4"/>
<path d="M313.6 1819.5L421.4 1781.7M421.4 1781.7L529.2 1917.6M529.2 1917.6L637.0 1900.1M637.0 1900.1L744.8 1710.3" stroke="#0000D4"/>
<path d="M313.6 1596.1L421.4 1596.1M421.4 1596.1L529.2 1655.7M529.2 1655.7L637.0 1596.1M637.0 1596.1L744.8 1596.1" stroke="#0000D4"/>
<path d="M313.6 1862.2L421.4 1690.7M421.4 1690.7L529.2 1841.2M529.2 1841.2L637.0 1806.2M637.0 1806.2L744.8 1666.2" stroke="#0000D4"/>
<path d="M313.6 1817.4L421.4 1778.2M421.4 1778.2L529.2 1912.0M529.2 1912.0L637.0 1898.0M637.0 1898.0L744.8 1709.6" stroke="#0000FF"/>
<path d="M313.6 1596.1L421.4 1596.1M421.4 1596.1L529.2 1655.7M529.2 1655.7L637.0 1596.1M637.0 1596.1L744.8 1596.1" stroke="#0000FF"/>
<path d="M313.6 1815.3L421.4 1774.7M421.4 1774.7L529.2 1906.4M529.2 1906.4L637.0 1895.9M637.0 1895.9L744.8 1708.9" stroke="#0000FF"/>
<path d="M313.6 1596.1L421.4 1596.1M421.4 1596.1L529.2 1658.3M529.2 1658.3L637.0 1603.1M637.0 1603.1L744.8 1596.1" stroke="#0000FF"/>
<path d="M313.6 1813.2L421.4 1771.2M421.4 1771.2L529.2 1900.8M529.2 1900.8L637.0 1893.8M637.0 1893.8L744.8 1708.2" stroke="#0028FF"/>
<path d="M313.6 1596.1L421.4 1596.1M421.4 1596.1L529.2 1660.9M529.2 1660.9L637.0 1610.1M637.0 1610.1L744.8 1596.1" stroke="#0028FF"/>
<path d="M313.6 1810.0L421.4 1767.5M421.4 1767.5L529.2 1898.0M529.2 1898.0L637.0 1889.6M637.0 1889.6L744.8 1706.3" stroke="#0028FF"/>
<path d="M313.6 1596.1L421.4 1596.1M421.4 1596.1L529.2 1663.5M529.2 1663.5L637.0 1617.1M637.0 1617.1L744.8 1596.1" stroke="#0028FF"/>
<path d="M313.6 1806.7L421.4 1763.7M421.4 1763.7L529.2 1895.2M529.2 1895.2L637.0 1885.4M637.0 1885.4L744.8 1704.4" stroke="#0050FF"/>
<path d="M313.6 1596.1L421.4 1596.1M421.4 1596.1L529.2 1666.2M529.2 1666.2L637.0 1624.1M637.0 1624.1L744.8 1596.1" stroke="#0050FF"/>
<path d="M313.6 1803.4L421.4 1760.0M421.4 1760.0L529.2 1892.4M529.2 1892.4L637.0 1881.2M637.0 1881.2L744.8 1702.6" stroke="#0050FF"/>
<path d="M313.6 1596.1L421.4 1596.1M421.4 1596.1L529.2 1669.7M529.2 1669.7L637.0 1629.0M637.0 1629.0L744.8 1596.1" stroke="#0050FF"/>
<path d="M313.6 1800.1L421.4 1756.3M421.4 1756.3L529.2 1889.6M529.2 1889.6L637.0 1876.9M637.0 1876.9L744.8 1700.7" stroke="#0078FF"/>
<path d="M313.6 1596.1L421.4 1596.1M421.4 1596.1L529.2 1673.2M529.2 1673.2L637.0 1633.9M637.0 1633.9L744.8 1596.1" stroke="#0078FF"/>
<path d="M313.6 1796.9L421.4 1752.5M421.4 1752.5L529.2 1886.8M529.2 1886.8L637.0 1872.7M637.0 1872.7L744.8 1698.8" stroke="#0078FF"/>
<path d="M313.6 1596.1L421.4 1596.1M421.4 1596.1L529.2 1676.7M529.2 1676.7L637.0 1638.8M637.0 1638.8L744.8 1596.1" stroke="#0078FF"/>
<path d="M313.6 1793.6L421.4 1748.8M421.4 1748.8L529.2 1884.0M529.2 1884.0L637.0 1868.5M637.0 1868.5L744.8 1697.0" stroke="#0078FF"/>
<path d="M313.6 1596.1L421.4 1596.1M421.4 1596.1L529.2 1680.2M529.2 1680.2L637.0 1643.7M637.0 1643.7L744.8 1596.1" stroke="#009CFF"/>
<path d="M313.6 1790.3L421.4 1745.1M421.4 1745.1L529.2 1881.2M529.2 1881.2L637.0 1864.3M637.0 1864.3L744.8 1695.1" stroke="#009CFF"/>
<path d="M313.6 1596.1L421.4 1596.1M421.4 1596.1L529.2 1683.7M529.2 1683.7L637.0 1648.7M637.0 1648.7L744.8 1596.1" stroke="#009CFF"/>
<path d="M313.6 1787.3L421.4 1741.7M421.4 1741.7L529.2 1878.3M529.2 1878.3L637.0 1860.8M637.0 1860.8L744.8 1693.0" stroke="#009CFF"/>
<path d="M313.6 1600.2L421.4 1596.1M421.4 1596.1L529.2 1686.6M529.2 1686.6L637.0 1652.7M637.0 1652.7L744.8 1596.1" stroke="#00C0FF"/>
<path d="M313.6 1784.3L421.4 1738.8M421.4 1738.8L529.2 1875.4M529.2 1875.4L637.0 1857.9M637.0 1857.9L744.8 1690.7" stroke="#00C0FF"/>
<path d="M313.6 1604.3L421.4 1596.1M421.4 1596.1L529.2 1689.5M529.2 1689.5L637.0 1656.8M637.0 1656.8L744.8 1596.1" stroke="#00C0FF"/>
<path d="M313.6 1781.4L421.4 1735.9M421.4 1735.9L529.2 1872.5M529.2 1872.5L637.0 1854.9M637.0 1854.9L744.8 1688.3" stroke="#00C0FF"/>
<path d="M313.6 1608.4L421.4 1596.1M421.4 1596.1L529.2 1692.4M529.2 1692.4L637.0 1660.9M637.0 1660.9L744.8 1596.1" stroke="#00DCF8"/>
<path d="M313.6 1778.5L421.4 1733.0M421.4 1733.0L529.2 1869.5M529.2 1869.5L637.0 1852.0M637.0 1852.0L744.8 1686.0" stroke="#00DCF8"/>
<path d="M313.6 1612.5L421.4 1596.1M421.4 1596.1L529.2 1695.3M529.2 1695.3L637.0 1665.0M637.0 1665.0L744.8 1596.1" stroke="#00DCF8"/>
<path d="M313.6 1775.6L421.4 1730.1M421.4 1730.1L529.2 1866.6M529.2 1866.6L637.0 1849.1M637.0 1849.1L744.8 1683.7" stroke="#00DCF8"/>
<path d="M313.6 1616.6L421.4 1596.1M421.4 1596.1L529.2 1698.3M529.2 1698.3L637.0 1669.1M637.0 1669.1L744.8 1596.1" stroke="#12F0E8"/>
<path d="M313.6 1772.7L421.4 1727.1M421.4 1727.1L529.2 1863.7M529.2 1863.7L637.0 1846.2M637.0 1846.2L744.8 1681.3" stroke="#12F0E8"/>
<path d="M313.6 1620.6L421.4 1596.1M421.4 1596.1L529.2 1701.2M529.2 1701.2L637.0 1673.2M637.0 1673.2L744.8 1596.1" stroke="#12F0E8"/>
<path d="M313.6 1770.3L421.4 1724.5M421.4 1724.5L529.2 1860.8M529.2 1860.8L637.0 1843.3M637.0 1843.3L744.8 1678.4" stroke="#12F0E8"/>
<path d="M313.6 1623.6L421.4 1596.1M421.4 1596.1L529.2 1705.8M529.2 1705.8L637.0 1677.8M637.0 1677.8L744.8 1596.1" stroke="#30FFC8"/>
<path d="M313.6 1768.6L421.4 1722.2M421.4 1722.2L529.2 1857.9M529.2 1857.9L637.0 1840.4M637.0 1840.4L744.8 1674.9" stroke="#30FFC8"/>
<path d="M313.6 1626.5L421.4 1596.1M421.4 1596.1L529.2 1710.5M529.2 1710.5L637.0 1682.5M637.0 1682.5L744.8 1596.1" stroke="#30FFC8"/>
<path d="M313.6 1766.8L421.4 1719.8M421.4 1719.8L529.2 1854.9M529.2 1854.9L637.0 1837.4M637.0 1837.4L744.8 1671.4" stroke="#30FFC8"/>
<path d="M313.6 1629.4L421.4 1596.1M421.4 1596.1L529.2 1715.2M529.2 1715.2L637.0 1687.2M637.0 1687.2L744.8 1596.1" stroke="#52FFA6"/>
<path d="M313.6 1765.1L421.4 1717.5M421.4 1717.5L529.2 1852.0M529.2 1852.0L637.0 1834.5M637.0 1834.5L744.8 1667.9" stroke="#52FFA6"/>
<path d="M313.6 1632.3L421.4 1596.1M421.4 1596.1L529.2 1719.8M529.2 1719.8L637.0 1691.8M637.0 1691.8L744.8 1596.1" stroke="#52FFA6"/>
<path d="M313.6 1763.3L421.4 1715.2M421.4 1715.2L529.2 1849.1M529.2 1849.1L637.0 1831.6M637.0 1831.6L744.8 1664.4" stroke="#52FFA6"/>
<path d="M313.6 1635.2L421.4 1596.1M421.4 1596.1L529.2 1724.5M529.2 1724.5L637.0 1696.5M637.0 1696.5L744.8 1596.1" stroke="#52FFA6"/>
<path d="M313.6 1761.6L421.4 1712.8M421.4 1712.8L529.2 1846.2M529.2 1846.2L637.0 1828.7M637.0 1828.7L744.8 1660.9" stroke="#76FF82"/>
<path d="M313.6 1638.1L421.4 1596.1M421.4 1596.1L529.2 1729.2M529.2 1729.2L637.0 1701.2M637.0 1701.2L744.8 1596.1" stroke="#76FF82"/>
<path d="M313.6 1759.4L421.4 1710.6M421.4 1710.6L529.2 1843.9M529.2 1843.9L637.0 1825.9M637.0 1825.9L744.8 1657.4" stroke="#76FF82"/>
<path d="M313.6 1640.8L421.4 1597.0M421.4 1597.0L529.2 1730.9M529.2 1730.9L637.0 1703.8M637.0 1703.8L744.8 1596.1" stroke="#76FF82"/>
<path d="M313.6 1756.8L421.4 1708.4M421.4 1708.4L529.2 1842.1M529.2 1842.1L637.0 1823.3M637.0 1823.3L744.8 1653.9" stroke="#9CFF5C"/>
<path d="M313.6 1643.4L421.4 1597.9M421.4 1597.9L529.2 1732.7M529.2 1732.7L637.0 1706.4M637.0 1706.4L744.8 1596.1" stroke="#9CFF5C"/>
<path d="M313.6 1754.1L421.4 1706.2M421.4 1706.2L529.2 1840.4M529.2 1840.4L637.0 1820.7M637.0 1820.7L744.8 1650.4" stroke="#9CFF5C"/>
<path d="M313.6 1646.0L421.4 1598.8M421.4 1598.8L529.2 1734.4M529.2 1734.4L637.0 1709.1M637.0 1709.1L744.8 1596.1" stroke="#9CFF5C"/>
<path d="M313.6 1751.5L421.4 1704.0M421.4 1704.0L529.2 1838.6M529.2 1838.6L637.0 1818.0M637.0 1818.0L744.8 1646.9" stroke="#C4FF36"/>
<path d="M313.6 1648.7L421.4 1599.6M421.4 1599.6L529.2 1736.2M529.2 1736.2L637.0 1711.7M637.0 1711.7L744.8 1596.1" stroke="#C4FF36"/>
<path d="M313.6 1748.9L421.4 1701.8M421.4 1701.8L529.2 1836.9M529.2 1836.9L637.0 1815.4M637.0 1815.4L744.8 1643.4" stroke="#C4FF36"/>
<path d="M313.6 1651.3L421.4 1600.7M421.4 1600.7L529.2 1737.8M529.2 1737.8L637.0 1714.4M637.0 1714.4L744.8 1596.1" stroke="#C4FF36"/>
<path d="M313.6 1746.3L421.4 1699.6M421.4 1699.6L529.2 1835.1M529.2 1835.1L637.0 1812.8M637.0 1812.8L744.8 1639.9" stroke="#ECFF14"/>
<path d="M313.6 1654.0L421.4 1601.8M421.4 1601.8L529.2 1739.4M529.2 1739.4L637.0 1717.1M637.0 1717.1L744.8 1596.1" stroke="#ECFF14"/>
<path d="M313.6 1743.6L421.4 1697.5M421.4 1697.5L529.2 1833.4M529.2 1833.4L637.0 1810.2M637.0 1810.2L744.8 1636.4" stroke="#ECFF14"/>
<path d="M313.6 1656.7L421.4 1602.9M421.4 1602.9L529.2 1741.0M529.2 1741.0L637.0 1719.8M637.0 1719.8L744.8 1596.1" stroke="#ECFF14"/>
<path d="M313.6 1741.0L421.4 1695.3M421.4 1695.3L529.2 1831.6M529.2 1831.6L637.0 1807.5M637.0 1807.5L744.8 1632.9" stroke="#FFF200"/>
<path d="M313.6 1659.4L421.4 1603.9M421.4 1603.9L529.2 1742.7M529.2 1742.7L637.0 1722.5M637.0 1722.5L744.8 1596.1" stroke="#FFF200"/>
<path d="M313.6 1738.9L421.4 1693.6M421.4 1693.6L529.2 1829.4M529.2 1829.4L637.0 1805.1M637.0 1805.1L744.8 1630.1" stroke="#FFF200"/>
<path d="M313.6 1662.1L421.4 1605.0M421.4 1605.0L529.2 1744.3M529.2 1744.3L637.0 1725.1M637.0 1725.1L744.8 1596.1" stroke="#FFF200"/>
<path d="M313.6 1737.3L421.4 1692.6M421.4 1692.6L529.2 1826.7M529.2 1826.7L637.0 1803.0M637.0 1803.0L744.8 1627.9" stroke="#FFD200"/>
<path d="M313.6 1664.8L421.4 1606.1M421.4 1606.1L529.2 1745.9M529.2 1745.9L637.0 1727.8M637.0 1727.8L744.8 1596.1" stroke="#FFD200"/>
<path d="M313.6 1735.7L421.4 1691.5M421.4 1691.5L529.2 1824.0M529.2 1824.0L637.0 1800.8M637.0 1800.8L744.8 1625.8" stroke="#FFD200"/>
<path d="M313.6 1667.5L421.4 1608.8M421.4 1608.8L529.2 1748.0M529.2 1748.0L637.0 1730.9M637.0 1730.9L744.8 1596.1" stroke="#FFD200"/>
<path d="M313.6 1734.0L421.4 1690.4M421.4 1690.4L529.2 1821.3M529.2 1821.3L637.0 1798.7M637.0 1798.7L744.8 1623.6" stroke="#FFD200"/>
<path d="M313.6 1670.1L421.4 1613.2M421.4 1613.2L529.2 1750.6M529.2 1750.6L637.0 1734.4M637.0 1734.4L744.8 1596.1" stroke="#FFAA00"/>
<path d="M313.6 1732.4L421.4 1689.3M421.4 1689.3L529.2 1818.6M529.2 1818.6L637.0 1796.5M637.0 1796.5L744.8 1621.4" stroke="#FFAA00"/>
<path d="M313.6 1672.7L421.4 1617.6M421.4 1617.6L529.2 1753.3M529.2 1753.3L637.0 1737.9M637.0 1737.9L744.8 1596.1" stroke="#FFAA00"/>
<path d="M313.6 1730.8L421.4 1688.2M421.4 1688.2L529.2 1815.9M529.2 1815.9L637.0 1794.4M637.0 1794.4L744.8 1619.3" stroke="#FFAA00"/>
<path d="M313.6 1675.4L421.4 1622.0M421.4 1622.0L529.2 1755.9M529.2 1755.9L637.0 1741.4M637.0 1741.4L744.8 1596.1" stroke="#FF8000"/>
<path d="M313.6 1729.2L421.4 1687.2M421.4 1687.2L529.2 1813.2M529.2 1813.2L637.0 1792.2M637.0 1792.2L744.8 1617.1" stroke="#FF8000"/>
<path d="M313.6 1678.2L421.4 1626.5M421.4 1626.5L529.2 1758.8M529.2 1758.8L637.0 1744.4M637.0 1744.4L744.8 1596.1" stroke="#FF8000"/>
<path d="M313.6 1727.6L421.4 1685.6M421.4 1685.6L529.2 1810.1M529.2 1810.1L637.0 1789.9M637.0 1789.9L744.8 1615.6" stroke="#FF8000"/>
<path d="M313.6 1681.3L421.4 1631.1M421.4 1631.1L529.2 1761.9M529.2 1761.9L637.0 1746.7M637.0 1746.7L744.8 1596.1" stroke="#FF5A00"/>
<path d="M313.6 1726.1L421.4 1684.1M421.4 1684.1L529.2 1807.0M529.2 1807.0L637.0 1787.5M637.0 1787.5L744.8 1614.0" stroke="#FF5A00"/>
<path d="M313.6 1684.4L421.4 1635.8M421.4 1635.8L529.2 1765.0M529.2 1765.0L637.0 1749.0M637.0 1749.0L744.8 1596.1" stroke="#FF5A00"/>
<path d="M313.6 1724.5L421.4 1682.5M421.4 1682.5L529.2 1803.9M529.2 1803.9L637.0 1785.2M637.0 1785.2L744.8 1612.5" stroke="#FF5A00"/>
<path d="M313.6 1687.6L421.4 1640.5M421.4 1640.5L529.2 1768.1M529.2 1768.1L637.0 1751.4M637.0 1751.4L744.8 1596.1" stroke="#FF3800"/>
<path d="M313.6 1723.0L421.4 1680.9M421.4 1680.9L529.2 1800.8M529.2 1800.8L637.0 1782.9M637.0 1782.9L744.8 1610.9" stroke="#FF3800"/>
<path d="M313.6 1690.7L421.4 1645.2M421.4 1645.2L529.2 1771.2M529.2 1771.2L637.0 1753.7M637.0 1753.7L744.8 1596.1" stroke="#FF3800"/>
<path d="M313.6 1720.4L421.4 1678.4M421.4 1678.4L529.2 1797.5M529.2 1797.5L637.0 1780.0M637.0 1780.0L744.8 1608.4" stroke="#FF3800"/>
<path d="M313.6 1695.0L421.4 1650.4M421.4 1650.4L529.2 1774.7M529.2 1774.7L637.0 1757.2M637.0 1757.2L744.8 1596.1" stroke="#F51E00"/>
<path d="M313.6 1716.9L421.4 1674.9M421.4 1674.9L529.2 1794.0M529.2 1794.0L637.0 1776.5M637.0 1776.5L744.8 1604.9" stroke="#F51E00"/>
<path d="M313.6 1699.4L421.4 1655.7M421.4 1655.7L529.2 1778.2M529.2 1778.2L637.0 1760.7M637.0 1760.7L744.8 1596.1" stroke="#F51E00"/>
<path d="M313.6 1713.4L421.4 1671.4M421.4 1671.4L529.2 1790.5M529.2 1790.5L637.0 1773.0M637.0 1773.0L744.8 1601.4" stroke="#F51E00"/>
<path d="M313.6 1703.8L421.4 1660.9M421.4 1660.9L529.2 1781.7M529.2 1781.7L637.0 1764.2M637.0 1764.2L744.8 1596.1" stroke="#DF0E00"/>
<path d="M313.6 1709.9L421.4 1667.9M421.4 1667.9L529.2 1787.0M529.2 1787.0L637.0 1769.5M637.0 1769.5L744.8 1597.9" stroke="#DF0E00"/>
<path d="M313.6 1708.2L421.4 1666.2M421.4 1666.2L529.2 1785.2M529.2 1785.2L637.0 1767.7M637.0 1767.7L744.8 1596.1" stroke="#DF0E00"/>
<path d="M313.6 1708.2L421.4 1666.2M421.4 1666.2L529.2 1785.2M529.2 1785.2L637.0 1767.7M637.0 1767.7L744.8 1596.1" stroke="#DF0E00"/>
</g>
<path d="M205.8 1524.9V1999.4H852.6" stroke="#000" stroke-width="2.7" fill="none"/>
<text x="200.5" y="1530.9" text-anchor="end" font-size="21.5" textLength="43" lengthAdjust="spacingAndGlyphs">1.20</text>
<text x="200.5" y="1583.4" text-anchor="end" font-size="21.5" textLength="43" lengthAdjust="spacingAndGlyphs">1.05</text>
<text x="200.5" y="1635.9" text-anchor="end" font-size="21.5" textLength="43" lengthAdjust="spacingAndGlyphs">0.90</text>
<text x="200.5" y="1688.5" text-anchor="end" font-size="21.5" textLength="43" lengthAdjust="spacingAndGlyphs">0.75</text>
<text x="200.5" y="1741.0" text-anchor="end" font-size="21.5" textLength="43" lengthAdjust="spacingAndGlyphs">0.60</text>
<text x="200.5" y="1793.5" text-anchor="end" font-size="21.5" textLength="43" lengthAdjust="spacingAndGlyphs">0.45</text>
<text x="200.5" y="1846.0" text-anchor="end" font-size="21.5" textLength="43" lengthAdjust="spacingAndGlyphs">0.30</text>
<text x="200.5" y="1898.6" text-anchor="end" font-size="21.5" textLength="43" lengthAdjust="spacingAndGlyphs">0.15</text>
<text x="200.5" y="1951.1" text-anchor="end" font-size="21.5" textLength="43" lengthAdjust="spacingAndGlyphs">0.00</text>
<text x="200.5" y="2003.6" text-anchor="end" font-size="21.5" textLength="51" lengthAdjust="spacingAndGlyphs">-0.15</text>
<path d="M200.8 1526.1H205.8M200.8 1578.6H205.8M200.8 1631.1H205.8M200.8 1683.7H205.8M200.8 1736.2H205.8M200.8 1788.7H205.8M200.8 1841.2H205.8M200.8 1893.8H205.8M200.8 1946.3H205.8M200.8 1998.8H205.8M313.6 1998.8V2003.8M421.4 1998.8V2003.8M529.2 1998.8V2003.8M637.0 1998.8V2003.8M744.8 1998.8V2003.8" stroke="#000" stroke-width="2.4" fill="none"/>
<text x="313.6" y="2020.1" text-anchor="middle" font-size="21" textLength="29.8" lengthAdjust="spacingAndGlyphs">QC</text>
<text x="421.4" y="2020.1" text-anchor="middle" font-size="21" textLength="47.5" lengthAdjust="spacingAndGlyphs">MCT</text>
<text x="529.2" y="2020.1" text-anchor="middle" font-size="21" textLength="95.2" lengthAdjust="spacingAndGlyphs">MCT-NPS</text>
<text x="637.0" y="2020.1" text-anchor="middle" font-size="21" textLength="40" lengthAdjust="spacingAndGlyphs">NPS</text>
<text x="744.8" y="2020.1" text-anchor="middle" font-size="21" textLength="38" lengthAdjust="spacingAndGlyphs">Con</text>
<text x="206.9" y="1516.3" font-size="40" textLength="138.3" lengthAdjust="spacingAndGlyphs">Cluster</text>
<text x="360.8" y="1516.3" font-size="40" textLength="44.2" lengthAdjust="spacingAndGlyphs">#7</text>
<text x="529.5" y="2064.9" text-anchor="middle" font-size="28" textLength="147.2" lengthAdjust="spacingAndGlyphs">time groups</text>
<text transform="translate(118.4,1762.7) rotate(-90)" x="0" y="0" text-anchor="middle" font-size="27.5" textLength="317.8" lengthAdjust="spacingAndGlyphs">expression quantification</text>
<text x="827.0" y="1544.1" font-size="27" textLength="153.5" lengthAdjust="spacingAndGlyphs">membership</text>
<rect x="867.0" y="1868.08" width="73.7" height="12.42" fill="#000080"/>
<rect x="867.0" y="1855.97" width="73.7" height="12.42" fill="#0000A8"/>
<rect x="867.0" y="1843.85" width="73.7" height="12.42" fill="#0000D4"/>
<rect x="867.0" y="1831.74" width="73.7" height="12.42" fill="#0000FF"/>
<rect x="867.0" y="1819.62" width="73.7" height="12.42" fill="#0028FF"/>
<rect x="867.0" y="1807.50" width="73.7" height="12.42" fill="#0050FF"/>
<rect x="867.0" y="1795.39" width="73.7" height="12.42" fill="#0078FF"/>
<rect x="867.0" y="1783.27" width="73.7" height="12.42" fill="#009CFF"/>
<rect x="867.0" y="1771.16" width="73.7" height="12.42" fill="#00C0FF"/>
<rect x="867.0" y="1759.04" width="73.7" height="12.42" fill="#00DCF8"/>
<rect x="867.0" y="1746.92" width="73.7" height="12.42" fill="#12F0E8"/>
<rect x="867.0" y="1734.81" width="73.7" height="12.42" fill="#30FFC8"/>
<rect x="867.0" y="1722.69" width="73.7" height="12.42" fill="#52FFA6"/>
<rect x="867.0" y="1710.58" width="73.7" height="12.42" fill="#76FF82"/>
<rect x="867.0" y="1698.46" width="73.7" height="12.42" fill="#9CFF5C"/>
<rect x="867.0" y="1686.34" width="73.7" height="12.42" fill="#C4FF36"/>
<rect x="867.0" y="1674.23" width="73.7" height="12.42" fill="#ECFF14"/>
<rect x="867.0" y="1662.11" width="73.7" height="12.42" fill="#FFF200"/>
<rect x="867.0" y="1650.00" width="73.7" height="12.42" fill="#FFD200"/>
<rect x="867.0" y="1637.88" width="73.7" height="12.42" fill="#FFAA00"/>
<rect x="867.0" y="1625.76" width="73.7" height="12.42" fill="#FF8000"/>
<rect x="867.0" y="1613.65" width="73.7" height="12.42" fill="#FF5A00"/>
<rect x="867.0" y="1601.53" width="73.7" height="12.42" fill="#FF3800"/>
<rect x="867.0" y="1589.42" width="73.7" height="12.42" fill="#F51E00"/>
<rect x="867.0" y="1577.30" width="73.7" height="12.42" fill="#DF0E00"/>
<text x="954.0" y="1578.5" font-size="20.5" textLength="45" lengthAdjust="spacingAndGlyphs">0.82</text>
<text x="955.0" y="1612.2" font-size="18" style="font-weight:normal;fill:#737373" textLength="35.4" lengthAdjust="spacingAndGlyphs">0.75</text>
<text x="955.0" y="1645.8" font-size="18" style="font-weight:normal;fill:#737373" textLength="35.4" lengthAdjust="spacingAndGlyphs">0.68</text>
<text x="955.0" y="1679.5" font-size="18" style="font-weight:normal;fill:#737373" textLength="35.4" lengthAdjust="spacingAndGlyphs">0.60</text>
<text x="955.0" y="1713.1" font-size="18" style="font-weight:normal;fill:#737373" textLength="35.4" lengthAdjust="spacingAndGlyphs">0.53</text>
<text x="955.0" y="1746.8" font-size="18" style="font-weight:normal;fill:#737373" textLength="35.4" lengthAdjust="spacingAndGlyphs">0.45</text>
<text x="955.0" y="1780.4" font-size="18" style="font-weight:normal;fill:#737373" textLength="35.4" lengthAdjust="spacingAndGlyphs">0.38</text>
<text x="955.0" y="1814.1" font-size="18" style="font-weight:normal;fill:#737373" textLength="35.4" lengthAdjust="spacingAndGlyphs">0.30</text>
<text x="955.0" y="1847.7" font-size="18" style="font-weight:normal;fill:#737373" textLength="35.4" lengthAdjust="spacingAndGlyphs">0.23</text>
<text x="954.0" y="1881.4" font-size="20.5" textLength="45" lengthAdjust="spacingAndGlyphs">0.15</text>
<path d="M946.5 1577.3V1880.2M946.5 1577.3H951.0M946.5 1611.0H951.0M946.5 1644.6H951.0M946.5 1678.3H951.0M946.5 1711.9H951.0M946.5 1745.6H951.0M946.5 1779.2H951.0M946.5 1812.9H951.0M946.5 1846.5H951.0M946.5 1880.2H951.0" stroke="#808080" stroke-width="1.4" fill="none"/>
<rect x="1130.8" y="1526.1" width="646.8" height="472.7" fill="#F4F4F4"/>
<path d="M1130.8 1526.1H1777.6M1130.8 1578.6H1777.6M1130.8 1631.1H1777.6M1130.8 1683.7H1777.6M1130.8 1736.2H1777.6M1130.8 1788.7H1777.6M1130.8 1841.2H1777.6M1130.8 1893.8H1777.6M1130.8 1946.3H1777.6M1130.8 1998.8H1777.6" stroke="#FFFFFF" stroke-width="1.2" stroke-dasharray="1 1" fill="none"/>
<path d="M1238.6 1526.1V1998.8M1346.4 1526.1V1998.8M1454.2 1526.1V1998.8M1562.0 1526.1V1998.8M1669.8 1526.1V1998.8" stroke="#FFFFFF" stroke-width="1.2" stroke-dasharray="2.5 1.5" fill="none"/>
<clipPath id="clip8"><rect x="1130.8" y="1526.1" width="646.8" height="472.7"/></clipPath>
<g clip-path="url(#clip8)" fill="none" stroke-width="15" stroke-linecap="butt">
<path d="M1238.6 1862.2L1346.4 1659.2M1346.4 1659.2L1454.2 1792.2M1454.2 1792.2L1562.0 1596.1M1562.0 1596.1L1669.8 1631.1" stroke="#000080"/>
<path d="M1238.6 1627.6L1346.4 1869.2M1346.4 1869.2L1454.2 1841.2M1454.2 1841.2L1562.0 1596.1M1562.0 1596.1L1669.8 1631.1" stroke="#000080"/>
<path d="M1238.6 1676.7L1346.4 1711.7M1346.4 1711.7L1454.2 1620.6M1454.2 1620.6L1562.0 1596.1M1562.0 1596.1L1669.8 1596.1" stroke="#0000A8"/>
<path d="M1238.6 1679.5L1346.4 1718.0M1346.4 1718.0L1454.2 1633.2M1454.2 1633.2L1562.0 1596.1M1562.0 1596.1L1669.8 1596.1" stroke="#0000D4"/>
<path d="M1238.6 1682.3L1346.4 1724.3M1346.4 1724.3L1454.2 1645.9M1454.2 1645.9L1562.0 1596.1M1562.0 1596.1L1669.8 1596.1" stroke="#0000D4"/>
<path d="M1238.6 1944.5L1346.4 1949.8M1346.4 1949.8L1454.2 1946.3M1454.2 1946.3L1562.0 1596.1M1562.0 1596.1L1669.8 1944.5" stroke="#0000D4"/>
<path d="M1238.6 1685.1L1346.4 1730.6M1346.4 1730.6L1454.2 1658.5M1454.2 1658.5L1562.0 1596.1M1562.0 1596.1L1669.8 1596.1" stroke="#0000FF"/>
<path d="M1238.6 1944.5L1346.4 1949.8M1346.4 1949.8L1454.2 1946.3M1454.2 1946.3L1562.0 1596.1M1562.0 1596.1L1669.8 1944.5" stroke="#0000FF"/>
<path d="M1238.6 1687.9L1346.4 1736.9M1346.4 1736.9L1454.2 1671.1M1454.2 1671.1L1562.0 1596.1M1562.0 1596.1L1669.8 1596.1" stroke="#0000FF"/>
<path d="M1238.6 1944.5L1346.4 1949.8M1346.4 1949.8L1454.2 1946.3M1454.2 1946.3L1562.0 1596.1M1562.0 1596.1L1669.8 1944.5" stroke="#0000FF"/>
<path d="M1238.6 1690.7L1346.4 1743.2M1346.4 1743.2L1454.2 1683.7M1454.2 1683.7L1562.0 1596.1M1562.0 1596.1L1669.8 1596.1" stroke="#0028FF"/>
<path d="M1238.6 1944.5L1346.4 1949.8M1346.4 1949.8L1454.2 1946.3M1454.2 1946.3L1562.0 1596.1M1562.0 1596.1L1669.8 1944.5" stroke="#0028FF"/>
<path d="M1238.6 1693.7L1346.4 1751.2M1346.4 1751.2L1454.2 1698.7M1454.2 1698.7L1562.0 1596.1M1562.0 1596.1L1669.8 1601.1" stroke="#0028FF"/>
<path d="M1238.6 1944.5L1346.4 1949.8M1346.4 1949.8L1454.2 1946.3M1454.2 1946.3L1562.0 1596.1M1562.0 1596.1L1669.8 1944.5" stroke="#0028FF"/>
<path d="M1238.6 1696.7L1346.4 1759.2M1346.4 1759.2L1454.2 1713.7M1454.2 1713.7L1562.0 1596.1M1562.0 1596.1L1669.8 1606.1" stroke="#0050FF"/>
<path d="M1238.6 1944.5L1346.4 1949.8M1346.4 1949.8L1454.2 1946.3M1454.2 1946.3L1562.0 1596.1M1562.0 1596.1L1669.8 1944.5" stroke="#0050FF"/>
<path d="M1238.6 1699.7L1346.4 1767.2M1346.4 1767.2L1454.2 1728.7M1454.2 1728.7L1562.0 1596.1M1562.0 1596.1L1669.8 1611.1" stroke="#0050FF"/>
<path d="M1238.6 1944.5L1346.4 1949.8M1346.4 1949.8L1454.2 1946.3M1454.2 1946.3L1562.0 1596.1M1562.0 1596.1L1669.8 1944.5" stroke="#0050FF"/>
<path d="M1238.6 1703.4L1346.4 1773.0M1346.4 1773.0L1454.2 1739.3M1454.2 1739.3L1562.0 1596.1M1562.0 1596.1L1669.8 1616.7" stroke="#0078FF"/>
<path d="M1238.6 1944.5L1346.4 1949.8M1346.4 1949.8L1454.2 1946.3M1454.2 1946.3L1562.0 1596.1M1562.0 1596.1L1669.8 1944.5" stroke="#0078FF"/>
<path d="M1238.6 1707.7L1346.4 1776.5M1346.4 1776.5L1454.2 1745.4M1454.2 1745.4L1562.0 1596.1M1562.0 1596.1L1669.8 1622.8" stroke="#0078FF"/>
<path d="M1238.6 1944.5L1346.4 1949.8M1346.4 1949.8L1454.2 1946.3M1454.2 1946.3L1562.0 1596.1M1562.0 1596.1L1669.8 1944.5" stroke="#0078FF"/>
<path d="M1238.6 1712.1L1346.4 1780.0M1346.4 1780.0L1454.2 1751.5M1454.2 1751.5L1562.0 1596.1M1562.0 1596.1L1669.8 1629.0" stroke="#0078FF"/>
<path d="M1238.6 1944.5L1346.4 1949.8M1346.4 1949.8L1454.2 1946.3M1454.2 1946.3L1562.0 1596.1M1562.0 1596.1L1669.8 1944.5" stroke="#009CFF"/>
<path d="M1238.6 1716.5L1346.4 1783.5M1346.4 1783.5L1454.2 1757.6M1454.2 1757.6L1562.0 1596.1M1562.0 1596.1L1669.8 1635.1" stroke="#009CFF"/>
<path d="M1238.6 1944.5L1346.4 1949.8M1346.4 1949.8L1454.2 1946.3M1454.2 1946.3L1562.0 1596.1M1562.0 1596.1L1669.8 1944.5" stroke="#009CFF"/>
<path d="M1238.6 1721.0L1346.4 1785.8M1346.4 1785.8L1454.2 1761.9M1454.2 1761.9L1562.0 1596.1M1562.0 1596.1L1669.8 1641.6" stroke="#009CFF"/>
<path d="M1238.6 1942.5L1346.4 1949.2M1346.4 1949.2L1454.2 1945.1M1454.2 1945.1L1562.0 1596.1M1562.0 1596.1L1669.8 1936.1" stroke="#00C0FF"/>
<path d="M1238.6 1725.7L1346.4 1787.0M1346.4 1787.0L1454.2 1764.2M1454.2 1764.2L1562.0 1596.1M1562.0 1596.1L1669.8 1648.7" stroke="#00C0FF"/>
<path d="M1238.6 1940.4L1346.4 1948.6M1346.4 1948.6L1454.2 1943.9M1454.2 1943.9L1562.0 1596.1M1562.0 1596.1L1669.8 1927.6" stroke="#00C0FF"/>
<path d="M1238.6 1730.4L1346.4 1788.1M1346.4 1788.1L1454.2 1766.5M1454.2 1766.5L1562.0 1596.1M1562.0 1596.1L1669.8 1655.7" stroke="#00C0FF"/>
<path d="M1238.6 1938.4L1346.4 1948.0M1346.4 1948.0L1454.2 1942.8M1454.2 1942.8L1562.0 1596.1M1562.0 1596.1L1669.8 1919.1" stroke="#00DCF8"/>
<path d="M1238.6 1735.0L1346.4 1789.3M1346.4 1789.3L1454.2 1768.9M1454.2 1768.9L1562.0 1596.1M1562.0 1596.1L1669.8 1662.7" stroke="#00DCF8"/>
<path d="M1238.6 1936.4L1346.4 1947.4M1346.4 1947.4L1454.2 1941.6M1454.2 1941.6L1562.0 1596.1M1562.0 1596.1L1669.8 1910.7" stroke="#00DCF8"/>
<path d="M1238.6 1739.7L1346.4 1790.5M1346.4 1790.5L1454.2 1771.2M1454.2 1771.2L1562.0 1596.1M1562.0 1596.1L1669.8 1669.7" stroke="#00DCF8"/>
<path d="M1238.6 1934.3L1346.4 1946.9M1346.4 1946.9L1454.2 1940.4M1454.2 1940.4L1562.0 1596.1M1562.0 1596.1L1669.8 1902.2" stroke="#12F0E8"/>
<path d="M1238.6 1744.4L1346.4 1791.6M1346.4 1791.6L1454.2 1773.5M1454.2 1773.5L1562.0 1596.1M1562.0 1596.1L1669.8 1676.7" stroke="#12F0E8"/>
<path d="M1238.6 1932.3L1346.4 1946.3M1346.4 1946.3L1454.2 1939.3M1454.2 1939.3L1562.0 1596.1M1562.0 1596.1L1669.8 1893.8" stroke="#12F0E8"/>
<path d="M1238.6 1748.2L1346.4 1793.1M1346.4 1793.1L1454.2 1776.2M1454.2 1776.2L1562.0 1596.1M1562.0 1596.1L1669.8 1681.9" stroke="#12F0E8"/>
<path d="M1238.6 1929.4L1346.4 1944.5M1346.4 1944.5L1454.2 1937.5M1454.2 1937.5L1562.0 1596.1M1562.0 1596.1L1669.8 1888.5" stroke="#30FFC8"/>
<path d="M1238.6 1751.1L1346.4 1794.8M1346.4 1794.8L1454.2 1779.1M1454.2 1779.1L1562.0 1596.1M1562.0 1596.1L1669.8 1685.4" stroke="#30FFC8"/>
<path d="M1238.6 1926.4L1346.4 1942.8M1346.4 1942.8L1454.2 1935.8M1454.2 1935.8L1562.0 1596.1M1562.0 1596.1L1669.8 1883.3" stroke="#30FFC8"/>
<path d="M1238.6 1754.0L1346.4 1796.6M1346.4 1796.6L1454.2 1782.0M1454.2 1782.0L1562.0 1596.1M1562.0 1596.1L1669.8 1688.9" stroke="#30FFC8"/>
<path d="M1238.6 1923.5L1346.4 1941.0M1346.4 1941.0L1454.2 1934.0M1454.2 1934.0L1562.0 1596.1M1562.0 1596.1L1669.8 1878.0" stroke="#52FFA6"/>
<path d="M1238.6 1756.9L1346.4 1798.3M1346.4 1798.3L1454.2 1784.9M1454.2 1784.9L1562.0 1596.1M1562.0 1596.1L1669.8 1692.4" stroke="#52FFA6"/>
<path d="M1238.6 1920.6L1346.4 1939.3M1346.4 1939.3L1454.2 1932.3M1454.2 1932.3L1562.0 1596.1M1562.0 1596.1L1669.8 1872.7" stroke="#52FFA6"/>
<path d="M1238.6 1759.8L1346.4 1800.1M1346.4 1800.1L1454.2 1787.8M1454.2 1787.8L1562.0 1596.1M1562.0 1596.1L1669.8 1695.9" stroke="#52FFA6"/>
<path d="M1238.6 1917.7L1346.4 1937.5M1346.4 1937.5L1454.2 1930.5M1454.2 1930.5L1562.0 1596.1M1562.0 1596.1L1669.8 1867.5" stroke="#52FFA6"/>
<path d="M1238.6 1762.7L1346.4 1801.8M1346.4 1801.8L1454.2 1790.8M1454.2 1790.8L1562.0 1596.1M1562.0 1596.1L1669.8 1699.4" stroke="#76FF82"/>
<path d="M1238.6 1914.8L1346.4 1935.8M1346.4 1935.8L1454.2 1928.8M1454.2 1928.8L1562.0 1596.1M1562.0 1596.1L1669.8 1862.2" stroke="#76FF82"/>
<path d="M1238.6 1766.4L1346.4 1804.0M1346.4 1804.0L1454.2 1793.1M1454.2 1793.1L1562.0 1596.1M1562.0 1596.1L1669.8 1702.5" stroke="#76FF82"/>
<path d="M1238.6 1912.1L1346.4 1934.5M1346.4 1934.5L1454.2 1927.0M1454.2 1927.0L1562.0 1596.1M1562.0 1596.1L1669.8 1858.3" stroke="#76FF82"/>
<path d="M1238.6 1770.8L1346.4 1806.7M1346.4 1806.7L1454.2 1794.8M1454.2 1794.8L1562.0 1596.1M1562.0 1596.1L1669.8 1705.1" stroke="#9CFF5C"/>
<path d="M1238.6 1909.5L1346.4 1933.1M1346.4 1933.1L1454.2 1925.3M1454.2 1925.3L1562.0 1596.1M1562.0 1596.1L1669.8 1854.4" stroke="#9CFF5C"/>
<path d="M1238.6 1775.1L1346.4 1809.3M1346.4 1809.3L1454.2 1796.6M1454.2 1796.6L1562.0 1596.1M1562.0 1596.1L1669.8 1707.7" stroke="#9CFF5C"/>
<path d="M1238.6 1906.9L1346.4 1931.8M1346.4 1931.8L1454.2 1923.5M1454.2 1923.5L1562.0 1596.1M1562.0 1596.1L1669.8 1850.4" stroke="#9CFF5C"/>
<path d="M1238.6 1779.5L1346.4 1811.9M1346.4 1811.9L1454.2 1798.3M1454.2 1798.3L1562.0 1596.1M1562.0 1596.1L1669.8 1710.4" stroke="#C4FF36"/>
<path d="M1238.6 1904.3L1346.4 1930.5M1346.4 1930.5L1454.2 1921.8M1454.2 1921.8L1562.0 1596.1M1562.0 1596.1L1669.8 1846.5" stroke="#C4FF36"/>
<path d="M1238.6 1783.0L1346.4 1814.1M1346.4 1814.1L1454.2 1799.7M1454.2 1799.7L1562.0 1596.1M1562.0 1596.1L1669.8 1713.0" stroke="#C4FF36"/>
<path d="M1238.6 1901.6L1346.4 1929.2M1346.4 1929.2L1454.2 1920.0M1454.2 1920.0L1562.0 1596.1M1562.0 1596.1L1669.8 1842.5" stroke="#C4FF36"/>
<path d="M1238.6 1785.6L1346.4 1815.8M1346.4 1815.8L1454.2 1800.5M1454.2 1800.5L1562.0 1596.1M1562.0 1596.1L1669.8 1715.6" stroke="#ECFF14"/>
<path d="M1238.6 1899.0L1346.4 1927.9M1346.4 1927.9L1454.2 1918.3M1454.2 1918.3L1562.0 1596.1M1562.0 1596.1L1669.8 1838.6" stroke="#ECFF14"/>
<path d="M1238.6 1788.3L1346.4 1817.6M1346.4 1817.6L1454.2 1801.4M1454.2 1801.4L1562.0 1596.1M1562.0 1596.1L1669.8 1718.2" stroke="#ECFF14"/>
<path d="M1238.6 1896.4L1346.4 1926.6M1346.4 1926.6L1454.2 1916.5M1454.2 1916.5L1562.0 1596.1M1562.0 1596.1L1669.8 1834.7" stroke="#ECFF14"/>
<path d="M1238.6 1790.9L1346.4 1819.3M1346.4 1819.3L1454.2 1802.3M1454.2 1802.3L1562.0 1596.1M1562.0 1596.1L1669.8 1720.9" stroke="#FFF200"/>
<path d="M1238.6 1893.8L1346.4 1925.3M1346.4 1925.3L1454.2 1914.8M1454.2 1914.8L1562.0 1596.1M1562.0 1596.1L1669.8 1830.7" stroke="#FFF200"/>
<path d="M1238.6 1793.3L1346.4 1821.6M1346.4 1821.6L1454.2 1804.3M1454.2 1804.3L1562.0 1596.1M1562.0 1596.1L1669.8 1723.0" stroke="#FFF200"/>
<path d="M1238.6 1891.1L1346.4 1922.6M1346.4 1922.6L1454.2 1912.6M1454.2 1912.6L1562.0 1596.1M1562.0 1596.1L1669.8 1825.9" stroke="#FFF200"/>
<path d="M1238.6 1795.4L1346.4 1824.3M1346.4 1824.3L1454.2 1807.6M1454.2 1807.6L1562.0 1596.1M1562.0 1596.1L1669.8 1724.6" stroke="#FFD200"/>
<path d="M1238.6 1888.4L1346.4 1919.9M1346.4 1919.9L1454.2 1910.5M1454.2 1910.5L1562.0 1596.1M1562.0 1596.1L1669.8 1821.0" stroke="#FFD200"/>
<path d="M1238.6 1797.6L1346.4 1827.0M1346.4 1827.0L1454.2 1810.8M1454.2 1810.8L1562.0 1596.1M1562.0 1596.1L1669.8 1726.2" stroke="#FFD200"/>
<path d="M1238.6 1885.7L1346.4 1917.2M1346.4 1917.2L1454.2 1908.3M1454.2 1908.3L1562.0 1596.1M1562.0 1596.1L1669.8 1816.2" stroke="#FFD200"/>
<path d="M1238.6 1799.8L1346.4 1829.7M1346.4 1829.7L1454.2 1814.0M1454.2 1814.0L1562.0 1596.1M1562.0 1596.1L1669.8 1727.8" stroke="#FFD200"/>
<path d="M1238.6 1883.0L1346.4 1914.5M1346.4 1914.5L1454.2 1906.1M1454.2 1906.1L1562.0 1596.1M1562.0 1596.1L1669.8 1811.3" stroke="#FFAA00"/>
<path d="M1238.6 1801.9L1346.4 1832.3M1346.4 1832.3L1454.2 1817.3M1454.2 1817.3L1562.0 1596.1M1562.0 1596.1L1669.8 1729.5" stroke="#FFAA00"/>
<path d="M1238.6 1880.3L1346.4 1911.8M1346.4 1911.8L1454.2 1904.0M1454.2 1904.0L1562.0 1596.1M1562.0 1596.1L1669.8 1806.5" stroke="#FFAA00"/>
<path d="M1238.6 1804.1L1346.4 1835.0M1346.4 1835.0L1454.2 1820.5M1454.2 1820.5L1562.0 1596.1M1562.0 1596.1L1669.8 1731.1" stroke="#FFAA00"/>
<path d="M1238.6 1877.6L1346.4 1909.1M1346.4 1909.1L1454.2 1901.8M1454.2 1901.8L1562.0 1596.1M1562.0 1596.1L1669.8 1801.6" stroke="#FF8000"/>
<path d="M1238.6 1806.2L1346.4 1837.7M1346.4 1837.7L1454.2 1823.7M1454.2 1823.7L1562.0 1596.1M1562.0 1596.1L1669.8 1732.7" stroke="#FF8000"/>
<path d="M1238.6 1875.1L1346.4 1905.8M1346.4 1905.8L1454.2 1898.8M1454.2 1898.8L1562.0 1596.1M1562.0 1596.1L1669.8 1796.9" stroke="#FF8000"/>
<path d="M1238.6 1810.9L1346.4 1842.4M1346.4 1842.4L1454.2 1827.6M1454.2 1827.6L1562.0 1596.1M1562.0 1596.1L1669.8 1735.0" stroke="#FF8000"/>
<path d="M1238.6 1872.7L1346.4 1901.9M1346.4 1901.9L1454.2 1894.9M1454.2 1894.9L1562.0 1596.1M1562.0 1596.1L1669.8 1792.2" stroke="#FF5A00"/>
<path d="M1238.6 1815.6L1346.4 1847.1M1346.4 1847.1L1454.2 1831.5M1454.2 1831.5L1562.0 1596.1M1562.0 1596.1L1669.8 1737.4" stroke="#FF5A00"/>
<path d="M1238.6 1870.4L1346.4 1898.0M1346.4 1898.0L1454.2 1891.0M1454.2 1891.0L1562.0 1596.1M1562.0 1596.1L1669.8 1787.5" stroke="#FF5A00"/>
<path d="M1238.6 1820.2L1346.4 1851.7M1346.4 1851.7L1454.2 1835.4M1454.2 1835.4L1562.0 1596.1M1562.0 1596.1L1669.8 1739.7" stroke="#FF5A00"/>
<path d="M1238.6 1868.1L1346.4 1894.1M1346.4 1894.1L1454.2 1887.1M1454.2 1887.1L1562.0 1596.1M1562.0 1596.1L1669.8 1782.9" stroke="#FF3800"/>
<path d="M1238.6 1824.9L1346.4 1856.4M1346.4 1856.4L1454.2 1839.3M1454.2 1839.3L1562.0 1596.1M1562.0 1596.1L1669.8 1742.0" stroke="#FF3800"/>
<path d="M1238.6 1865.7L1346.4 1890.3M1346.4 1890.3L1454.2 1883.3M1454.2 1883.3L1562.0 1596.1M1562.0 1596.1L1669.8 1778.2" stroke="#FF3800"/>
<path d="M1238.6 1829.4L1346.4 1860.3M1346.4 1860.3L1454.2 1843.4M1454.2 1843.4L1562.0 1596.1M1562.0 1596.1L1669.8 1744.5" stroke="#FF3800"/>
<path d="M1238.6 1860.5L1346.4 1885.4M1346.4 1885.4L1454.2 1877.1M1454.2 1877.1L1562.0 1596.1M1562.0 1596.1L1669.8 1772.1" stroke="#F51E00"/>
<path d="M1238.6 1833.8L1346.4 1863.3M1346.4 1863.3L1454.2 1847.8M1454.2 1847.8L1562.0 1596.1M1562.0 1596.1L1669.8 1747.1" stroke="#F51E00"/>
<path d="M1238.6 1855.2L1346.4 1880.6M1346.4 1880.6L1454.2 1871.0M1454.2 1871.0L1562.0 1596.1M1562.0 1596.1L1669.8 1766.0" stroke="#F51E00"/>
<path d="M1238.6 1838.2L1346.4 1866.4M1346.4 1866.4L1454.2 1852.2M1454.2 1852.2L1562.0 1596.1M1562.0 1596.1L1669.8 1749.8" stroke="#F51E00"/>
<path d="M1238.6 1850.0L1346.4 1875.8M1346.4 1875.8L1454.2 1864.9M1454.2 1864.9L1562.0 1596.1M1562.0 1596.1L1669.8 1759.8" stroke="#DF0E00"/>
<path d="M1238.6 1842.5L1346.4 1869.5M1346.4 1869.5L1454.2 1856.6M1454.2 1856.6L1562.0 1596.1M1562.0 1596.1L1669.8 1752.4" stroke="#DF0E00"/>
<path d="M1238.6 1844.7L1346.4 1871.0M1346.4 1871.0L1454.2 1858.7M1454.2 1858.7L1562.0 1596.1M1562.0 1596.1L1669.8 1753.7" stroke="#DF0E00"/>
<path d="M1238.6 1844.7L1346.4 1871.0M1346.4 1871.0L1454.2 1858.7M1454.2 1858.7L1562.0 1596.1M1562.0 1596.1L1669.8 1753.7" stroke="#DF0E00"/>
</g>
<path d="M1130.8 1524.9V1999.4H1777.6" stroke="#000" stroke-width="2.7" fill="none"/>
<text x="1125.5" y="1530.9" text-anchor="end" font-size="21.5" textLength="43" lengthAdjust="spacingAndGlyphs">1.20</text>
<text x="1125.5" y="1583.4" text-anchor="end" font-size="21.5" textLength="43" lengthAdjust="spacingAndGlyphs">1.05</text>
<text x="1125.5" y="1635.9" text-anchor="end" font-size="21.5" textLength="43" lengthAdjust="spacingAndGlyphs">0.90</text>
<text x="1125.5" y="1688.5" text-anchor="end" font-size="21.5" textLength="43" lengthAdjust="spacingAndGlyphs">0.75</text>
<text x="1125.5" y="1741.0" text-anchor="end" font-size="21.5" textLength="43" lengthAdjust="spacingAndGlyphs">0.60</text>
<text x="1125.5" y="1793.5" text-anchor="end" font-size="21.5" textLength="43" lengthAdjust="spacingAndGlyphs">0.45</text>
<text x="1125.5" y="1846.0" text-anchor="end" font-size="21.5" textLength="43" lengthAdjust="spacingAndGlyphs">0.30</text>
<text x="1125.5" y="1898.6" text-anchor="end" font-size="21.5" textLength="43" lengthAdjust="spacingAndGlyphs">0.15</text>
<text x="1125.5" y="1951.1" text-anchor="end" font-size="21.5" textLength="43" lengthAdjust="spacingAndGlyphs">0.00</text>
<text x="1125.5" y="2003.6" text-anchor="end" font-size="21.5" textLength="51" lengthAdjust="spacingAndGlyphs">-0.15</text>
<path d="M1125.8 1526.1H1130.8M1125.8 1578.6H1130.8M1125.8 1631.1H1130.8M1125.8 1683.7H1130.8M1125.8 1736.2H1130.8M1125.8 1788.7H1130.8M1125.8 1841.2H1130.8M1125.8 1893.8H1130.8M1125.8 1946.3H1130.8M1125.8 1998.8H1130.8M1238.6 1998.8V2003.8M1346.4 1998.8V2003.8M1454.2 1998.8V2003.8M1562.0 1998.8V2003.8M1669.8 1998.8V2003.8" stroke="#000" stroke-width="2.4" fill="none"/>
<text x="1238.6" y="2020.1" text-anchor="middle" font-size="21" textLength="29.8" lengthAdjust="spacingAndGlyphs">QC</text>
<text x="1346.4" y="2020.1" text-anchor="middle" font-size="21" textLength="47.5" lengthAdjust="spacingAndGlyphs">MCT</text>
<text x="1454.2" y="2020.1" text-anchor="middle" font-size="21" textLength="95.2" lengthAdjust="spacingAndGlyphs">MCT-NPS</text>
<text x="1562.0" y="2020.1" text-anchor="middle" font-size="21" textLength="40" lengthAdjust="spacingAndGlyphs">NPS</text>
<text x="1669.8" y="2020.1" text-anchor="middle" font-size="21" textLength="38" lengthAdjust="spacingAndGlyphs">Con</text>
<text x="1131.9" y="1516.3" font-size="40" textLength="138.3" lengthAdjust="spacingAndGlyphs">Cluster</text>
<text x="1285.8" y="1516.3" font-size="40" textLength="44.2" lengthAdjust="spacingAndGlyphs">#8</text>
<text x="1454.5" y="2064.9" text-anchor="middle" font-size="28" textLength="147.2" lengthAdjust="spacingAndGlyphs">time groups</text>
<text transform="translate(1043.4,1762.7) rotate(-90)" x="0" y="0" text-anchor="middle" font-size="27.5" textLength="317.8" lengthAdjust="spacingAndGlyphs">expression quantification</text>
<text x="1752.0" y="1544.1" font-size="27" textLength="153.5" lengthAdjust="spacingAndGlyphs">membership</text>
<rect x="1792.0" y="1868.08" width="73.7" height="12.42" fill="#000080"/>
<rect x="1792.0" y="1855.97" width="73.7" height="12.42" fill="#0000A8"/>
<rect x="1792.0" y="1843.85" width="73.7" height="12.42" fill="#0000D4"/>
<rect x="1792.0" y="1831.74" width="73.7" height="12.42" fill="#0000FF"/>
<rect x="1792.0" y="1819.62" width="73.7" height="12.42" fill="#0028FF"/>
<rect x="1792.0" y="1807.50" width="73.7" height="12.42" fill="#0050FF"/>
<rect x="1792.0" y="1795.39" width="73.7" height="12.42" fill="#0078FF"/>
<rect x="1792.0" y="1783.27" width="73.7" height="12.42" fill="#009CFF"/>
<rect x="1792.0" y="1771.16" width="73.7" height="12.42" fill="#00C0FF"/>
<rect x="1792.0" y="1759.04" width="73.7" height="12.42" fill="#00DCF8"/>
<rect x="1792.0" y="1746.92" width="73.7" height="12.42" fill="#12F0E8"/>
<rect x="1792.0" y="1734.81" width="73.7" height="12.42" fill="#30FFC8"/>
<rect x="1792.0" y="1722.69" width="73.7" height="12.42" fill="#52FFA6"/>
<rect x="1792.0" y="1710.58" width="73.7" height="12.42" fill="#76FF82"/>
<rect x="1792.0" y="1698.46" width="73.7" height="12.42" fill="#9CFF5C"/>
<rect x="1792.0" y="1686.34" width="73.7" height="12.42" fill="#C4FF36"/>
<rect x="1792.0" y="1674.23" width="73.7" height="12.42" fill="#ECFF14"/>
<rect x="1792.0" y="1662.11" width="73.7" height="12.42" fill="#FFF200"/>
<rect x="1792.0" y="1650.00" width="73.7" height="12.42" fill="#FFD200"/>
<rect x="1792.0" y="1637.88" width="73.7" height="12.42" fill="#FFAA00"/>
<rect x="1792.0" y="1625.76" width="73.7" height="12.42" fill="#FF8000"/>
<rect x="1792.0" y="1613.65" width="73.7" height="12.42" fill="#FF5A00"/>
<rect x="1792.0" y="1601.53" width="73.7" height="12.42" fill="#FF3800"/>
<rect x="1792.0" y="1589.42" width="73.7" height="12.42" fill="#F51E00"/>
<rect x="1792.0" y="1577.30" width="73.7" height="12.42" fill="#DF0E00"/>
<text x="1879.0" y="1578.5" font-size="20.5" textLength="45" lengthAdjust="spacingAndGlyphs">1.00</text>
<text x="1880.0" y="1612.2" font-size="18" style="font-weight:normal;fill:#737373" textLength="35.4" lengthAdjust="spacingAndGlyphs">0.90</text>
<text x="1880.0" y="1645.8" font-size="18" style="font-weight:normal;fill:#737373" textLength="35.4" lengthAdjust="spacingAndGlyphs">0.80</text>
<text x="1880.0" y="1679.5" font-size="18" style="font-weight:normal;fill:#737373" textLength="35.4" lengthAdjust="spacingAndGlyphs">0.70</text>
<text x="1880.0" y="1713.1" font-size="18" style="font-weight:normal;fill:#737373" textLength="35.4" lengthAdjust="spacingAndGlyphs">0.60</text>
<text x="1880.0" y="1746.8" font-size="18" style="font-weight:normal;fill:#737373" textLength="35.4" lengthAdjust="spacingAndGlyphs">0.50</text>
<text x="1880.0" y="1780.4" font-size="18" style="font-weight:normal;fill:#737373" textLength="35.4" lengthAdjust="spacingAndGlyphs">0.40</text>
<text x="1880.0" y="1814.1" font-size="18" style="font-weight:normal;fill:#737373" textLength="35.4" lengthAdjust="spacingAndGlyphs">0.30</text>
<text x="1880.0" y="1847.7" font-size="18" style="font-weight:normal;fill:#737373" textLength="35.4" lengthAdjust="spacingAndGlyphs">0.20</text>
<text x="1879.0" y="1881.4" font-size="20.5" textLength="45" lengthAdjust="spacingAndGlyphs">0.10</text>
<path d="M1871.5 1577.3V1880.2M1871.5 1577.3H1876.0M1871.5 1611.0H1876.0M1871.5 1644.6H1876.0M1871.5 1678.3H1876.0M1871.5 1711.9H1876.0M1871.5 1745.6H1876.0M1871.5 1779.2H1876.0M1871.5 1812.9H1876.0M1871.5 1846.5H1876.0M1871.5 1880.2H1876.0" stroke="#808080" stroke-width="1.4" fill="none"/>
<rect x="2055.8" y="1526.1" width="646.8" height="472.7" fill="#F4F4F4"/>
<path d="M2055.8 1526.1H2702.6M2055.8 1578.6H2702.6M2055.8 1631.1H2702.6M2055.8 1683.7H2702.6M2055.8 1736.2H2702.6M2055.8 1788.7H2702.6M2055.8 1841.2H2702.6M2055.8 1893.8H2702.6M2055.8 1946.3H2702.6M2055.8 1998.8H2702.6" stroke="#FFFFFF" stroke-width="1.2" stroke-dasharray="1 1" fill="none"/>
<path d="M2163.6 1526.1V1998.8M2271.4 1526.1V1998.8M2379.2 1526.1V1998.8M2487.0 1526.1V1998.8M2594.8 1526.1V1998.8" stroke="#FFFFFF" stroke-width="1.2" stroke-dasharray="2.5 1.5" fill="none"/>
<clipPath id="clip9"><rect x="2055.8" y="1526.1" width="646.8" height="472.7"/></clipPath>
<g clip-path="url(#clip9)" fill="none" stroke-width="15" stroke-linecap="butt">
<path d="M2163.6 1771.2L2271.4 1596.1M2271.4 1596.1L2379.2 1813.2M2379.2 1813.2L2487.0 1683.7M2487.0 1683.7L2594.8 1883.3" stroke="#000080"/>
<path d="M2163.6 1736.2L2271.4 1596.1M2271.4 1596.1L2379.2 1676.7M2379.2 1676.7L2487.0 1851.7M2487.0 1851.7L2594.8 1841.2" stroke="#0000A8"/>
<path d="M2163.6 1736.2L2271.4 1596.1M2271.4 1596.1L2379.2 1729.2M2379.2 1729.2L2487.0 1736.2M2487.0 1736.2L2594.8 1823.7" stroke="#0000A8"/>
<path d="M2163.6 1736.2L2271.4 1596.1M2271.4 1596.1L2379.2 1771.2M2379.2 1771.2L2487.0 1841.2M2487.0 1841.2L2594.8 1736.2" stroke="#0000D4"/>
<path d="M2163.6 1701.2L2271.4 1596.1M2271.4 1596.1L2379.2 1715.2M2379.2 1715.2L2487.0 1781.7M2487.0 1781.7L2594.8 1781.7" stroke="#0000D4"/>
<path d="M2163.6 1928.8L2271.4 1596.1M2271.4 1596.1L2379.2 1949.8M2379.2 1949.8L2487.0 1949.8M2487.0 1949.8L2594.8 1953.3" stroke="#0000D4"/>
<path d="M2163.6 1736.2L2271.4 1596.1M2271.4 1596.1L2379.2 1694.2M2379.2 1694.2L2487.0 1841.2M2487.0 1841.2L2594.8 1830.7" stroke="#0000D4"/>
<path d="M2163.6 1736.2L2271.4 1596.1M2271.4 1596.1L2379.2 1736.2M2379.2 1736.2L2487.0 1750.2M2487.0 1750.2L2594.8 1820.2" stroke="#0000D4"/>
<path d="M2163.6 1736.2L2271.4 1596.1M2271.4 1596.1L2379.2 1771.2M2379.2 1771.2L2487.0 1834.2M2487.0 1834.2L2594.8 1746.7" stroke="#0000FF"/>
<path d="M2163.6 1701.2L2271.4 1596.1M2271.4 1596.1L2379.2 1715.2M2379.2 1715.2L2487.0 1781.7M2487.0 1781.7L2594.8 1781.7" stroke="#0000FF"/>
<path d="M2163.6 1928.8L2271.4 1596.1M2271.4 1596.1L2379.2 1949.8M2379.2 1949.8L2487.0 1949.8M2487.0 1949.8L2594.8 1953.3" stroke="#0000FF"/>
<path d="M2163.6 1703.9L2271.4 1596.1M2271.4 1596.1L2379.2 1717.5M2379.2 1717.5L2487.0 1782.5M2487.0 1782.5L2594.8 1782.5" stroke="#0000FF"/>
<path d="M2163.6 1928.8L2271.4 1596.1M2271.4 1596.1L2379.2 1949.8M2379.2 1949.8L2487.0 1949.8M2487.0 1949.8L2594.8 1953.3" stroke="#0000FF"/>
<path d="M2163.6 1736.2L2271.4 1596.1M2271.4 1596.1L2379.2 1746.7M2379.2 1746.7L2487.0 1764.2M2487.0 1764.2L2594.8 1813.2" stroke="#0000FF"/>
<path d="M2163.6 1706.6L2271.4 1596.1M2271.4 1596.1L2379.2 1719.8M2379.2 1719.8L2487.0 1783.3M2487.0 1783.3L2594.8 1783.3" stroke="#0028FF"/>
<path d="M2163.6 1928.8L2271.4 1596.1M2271.4 1596.1L2379.2 1949.8M2379.2 1949.8L2487.0 1949.8M2487.0 1949.8L2594.8 1953.3" stroke="#0028FF"/>
<path d="M2163.6 1736.2L2271.4 1596.1M2271.4 1596.1L2379.2 1771.2M2379.2 1771.2L2487.0 1827.2M2487.0 1827.2L2594.8 1757.2" stroke="#0028FF"/>
<path d="M2163.6 1709.3L2271.4 1596.1M2271.4 1596.1L2379.2 1722.2M2379.2 1722.2L2487.0 1784.0M2487.0 1784.0L2594.8 1784.0" stroke="#0028FF"/>
<path d="M2163.6 1928.8L2271.4 1596.1M2271.4 1596.1L2379.2 1949.8M2379.2 1949.8L2487.0 1949.8M2487.0 1949.8L2594.8 1953.3" stroke="#0028FF"/>
<path d="M2163.6 1736.2L2271.4 1596.1M2271.4 1596.1L2379.2 1753.7M2379.2 1753.7L2487.0 1774.7M2487.0 1774.7L2594.8 1806.2" stroke="#0028FF"/>
<path d="M2163.6 1712.1L2271.4 1596.1M2271.4 1596.1L2379.2 1724.5M2379.2 1724.5L2487.0 1784.8M2487.0 1784.8L2594.8 1784.8" stroke="#0050FF"/>
<path d="M2163.6 1928.8L2271.4 1596.1M2271.4 1596.1L2379.2 1949.8M2379.2 1949.8L2487.0 1949.8M2487.0 1949.8L2594.8 1953.3" stroke="#0050FF"/>
<path d="M2163.6 1736.2L2271.4 1596.1M2271.4 1596.1L2379.2 1771.2M2379.2 1771.2L2487.0 1820.2M2487.0 1820.2L2594.8 1767.7" stroke="#0050FF"/>
<path d="M2163.6 1714.8L2271.4 1596.1M2271.4 1596.1L2379.2 1726.9M2379.2 1726.9L2487.0 1785.6M2487.0 1785.6L2594.8 1785.6" stroke="#0050FF"/>
<path d="M2163.6 1928.8L2271.4 1596.1M2271.4 1596.1L2379.2 1949.1M2379.2 1949.1L2487.0 1949.8M2487.0 1949.8L2594.8 1952.6" stroke="#0050FF"/>
<path d="M2163.6 1717.5L2271.4 1596.1M2271.4 1596.1L2379.2 1729.2M2379.2 1729.2L2487.0 1786.4M2487.0 1786.4L2594.8 1786.4" stroke="#0078FF"/>
<path d="M2163.6 1928.8L2271.4 1596.1M2271.4 1596.1L2379.2 1948.4M2379.2 1948.4L2487.0 1949.8M2487.0 1949.8L2594.8 1951.9" stroke="#0078FF"/>
<path d="M2163.6 1720.2L2271.4 1596.1M2271.4 1596.1L2379.2 1731.5M2379.2 1731.5L2487.0 1787.2M2487.0 1787.2L2594.8 1787.2" stroke="#0078FF"/>
<path d="M2163.6 1928.8L2271.4 1596.1M2271.4 1596.1L2379.2 1947.7M2379.2 1947.7L2487.0 1949.8M2487.0 1949.8L2594.8 1951.2" stroke="#0078FF"/>
<path d="M2163.6 1723.0L2271.4 1596.1M2271.4 1596.1L2379.2 1733.9M2379.2 1733.9L2487.0 1787.9M2487.0 1787.9L2594.8 1787.9" stroke="#009CFF"/>
<path d="M2163.6 1928.8L2271.4 1596.1M2271.4 1596.1L2379.2 1947.0M2379.2 1947.0L2487.0 1949.8M2487.0 1949.8L2594.8 1950.5" stroke="#009CFF"/>
<path d="M2163.6 1725.7L2271.4 1596.1M2271.4 1596.1L2379.2 1736.2M2379.2 1736.2L2487.0 1788.7M2487.0 1788.7L2594.8 1788.7" stroke="#009CFF"/>
<path d="M2163.6 1928.8L2271.4 1596.1M2271.4 1596.1L2379.2 1946.3M2379.2 1946.3L2487.0 1949.8M2487.0 1949.8L2594.8 1949.8" stroke="#009CFF"/>
<path d="M2163.6 1727.4L2271.4 1596.1M2271.4 1596.1L2379.2 1739.7M2379.2 1739.7L2487.0 1791.0M2487.0 1791.0L2594.8 1789.3" stroke="#00C0FF"/>
<path d="M2163.6 1927.0L2271.4 1596.1M2271.4 1596.1L2379.2 1944.5M2379.2 1944.5L2487.0 1949.2M2487.0 1949.2L2594.8 1948.6" stroke="#00C0FF"/>
<path d="M2163.6 1729.2L2271.4 1596.1M2271.4 1596.1L2379.2 1743.2M2379.2 1743.2L2487.0 1793.4M2487.0 1793.4L2594.8 1789.9" stroke="#00C0FF"/>
<path d="M2163.6 1925.3L2271.4 1596.1M2271.4 1596.1L2379.2 1942.8M2379.2 1942.8L2487.0 1948.6M2487.0 1948.6L2594.8 1947.4" stroke="#00C0FF"/>
<path d="M2163.6 1730.9L2271.4 1596.1M2271.4 1596.1L2379.2 1746.7M2379.2 1746.7L2487.0 1795.7M2487.0 1795.7L2594.8 1790.5" stroke="#00DCF8"/>
<path d="M2163.6 1923.5L2271.4 1596.1M2271.4 1596.1L2379.2 1941.0M2379.2 1941.0L2487.0 1948.0M2487.0 1948.0L2594.8 1946.3" stroke="#00DCF8"/>
<path d="M2163.6 1732.7L2271.4 1596.1M2271.4 1596.1L2379.2 1750.2M2379.2 1750.2L2487.0 1798.0M2487.0 1798.0L2594.8 1791.0" stroke="#00DCF8"/>
<path d="M2163.6 1921.8L2271.4 1596.1M2271.4 1596.1L2379.2 1939.3M2379.2 1939.3L2487.0 1947.4M2487.0 1947.4L2594.8 1945.1" stroke="#00DCF8"/>
<path d="M2163.6 1734.4L2271.4 1596.1M2271.4 1596.1L2379.2 1753.7M2379.2 1753.7L2487.0 1800.4M2487.0 1800.4L2594.8 1791.6" stroke="#12F0E8"/>
<path d="M2163.6 1920.0L2271.4 1596.1M2271.4 1596.1L2379.2 1937.5M2379.2 1937.5L2487.0 1946.9M2487.0 1946.9L2594.8 1943.9" stroke="#12F0E8"/>
<path d="M2163.6 1736.2L2271.4 1596.1M2271.4 1596.1L2379.2 1757.2M2379.2 1757.2L2487.0 1802.7M2487.0 1802.7L2594.8 1792.2" stroke="#12F0E8"/>
<path d="M2163.6 1918.3L2271.4 1596.1M2271.4 1596.1L2379.2 1935.8M2379.2 1935.8L2487.0 1946.3M2487.0 1946.3L2594.8 1942.8" stroke="#12F0E8"/>
<path d="M2163.6 1738.5L2271.4 1596.1M2271.4 1596.1L2379.2 1760.1M2379.2 1760.1L2487.0 1805.6M2487.0 1805.6L2594.8 1794.0" stroke="#30FFC8"/>
<path d="M2163.6 1914.8L2271.4 1596.1M2271.4 1596.1L2379.2 1933.4M2379.2 1933.4L2487.0 1945.1M2487.0 1945.1L2594.8 1941.0" stroke="#30FFC8"/>
<path d="M2163.6 1740.9L2271.4 1596.1M2271.4 1596.1L2379.2 1763.0M2379.2 1763.0L2487.0 1808.6M2487.0 1808.6L2594.8 1795.7" stroke="#30FFC8"/>
<path d="M2163.6 1911.3L2271.4 1596.1M2271.4 1596.1L2379.2 1931.1M2379.2 1931.1L2487.0 1943.9M2487.0 1943.9L2594.8 1939.3" stroke="#30FFC8"/>
<path d="M2163.6 1743.2L2271.4 1596.1M2271.4 1596.1L2379.2 1766.0M2379.2 1766.0L2487.0 1811.5M2487.0 1811.5L2594.8 1797.5" stroke="#52FFA6"/>
<path d="M2163.6 1907.8L2271.4 1596.1M2271.4 1596.1L2379.2 1928.8M2379.2 1928.8L2487.0 1942.8M2487.0 1942.8L2594.8 1937.5" stroke="#52FFA6"/>
<path d="M2163.6 1745.5L2271.4 1596.1M2271.4 1596.1L2379.2 1768.9M2379.2 1768.9L2487.0 1814.4M2487.0 1814.4L2594.8 1799.2" stroke="#52FFA6"/>
<path d="M2163.6 1904.3L2271.4 1596.1M2271.4 1596.1L2379.2 1926.4M2379.2 1926.4L2487.0 1941.6M2487.0 1941.6L2594.8 1935.8" stroke="#52FFA6"/>
<path d="M2163.6 1747.9L2271.4 1596.1M2271.4 1596.1L2379.2 1771.8M2379.2 1771.8L2487.0 1817.3M2487.0 1817.3L2594.8 1801.0" stroke="#52FFA6"/>
<path d="M2163.6 1900.8L2271.4 1596.1M2271.4 1596.1L2379.2 1924.1M2379.2 1924.1L2487.0 1940.4M2487.0 1940.4L2594.8 1934.0" stroke="#52FFA6"/>
<path d="M2163.6 1750.2L2271.4 1596.1M2271.4 1596.1L2379.2 1774.7M2379.2 1774.7L2487.0 1820.2M2487.0 1820.2L2594.8 1802.7" stroke="#76FF82"/>
<path d="M2163.6 1897.3L2271.4 1596.1M2271.4 1596.1L2379.2 1921.8M2379.2 1921.8L2487.0 1939.3M2487.0 1939.3L2594.8 1932.3" stroke="#76FF82"/>
<path d="M2163.6 1751.9L2271.4 1596.1M2271.4 1596.1L2379.2 1776.9M2379.2 1776.9L2487.0 1822.9M2487.0 1822.9L2594.8 1804.0" stroke="#76FF82"/>
<path d="M2163.6 1894.6L2271.4 1596.1M2271.4 1596.1L2379.2 1920.0M2379.2 1920.0L2487.0 1938.0M2487.0 1938.0L2594.8 1931.0" stroke="#76FF82"/>
<path d="M2163.6 1753.7L2271.4 1596.1M2271.4 1596.1L2379.2 1779.1M2379.2 1779.1L2487.0 1825.5M2487.0 1825.5L2594.8 1805.3" stroke="#9CFF5C"/>
<path d="M2163.6 1892.0L2271.4 1596.1M2271.4 1596.1L2379.2 1918.3M2379.2 1918.3L2487.0 1936.6M2487.0 1936.6L2594.8 1929.6" stroke="#9CFF5C"/>
<path d="M2163.6 1755.4L2271.4 1596.1M2271.4 1596.1L2379.2 1781.3M2379.2 1781.3L2487.0 1828.1M2487.0 1828.1L2594.8 1806.7" stroke="#9CFF5C"/>
<path d="M2163.6 1889.4L2271.4 1596.1M2271.4 1596.1L2379.2 1916.5M2379.2 1916.5L2487.0 1935.3M2487.0 1935.3L2594.8 1928.3" stroke="#9CFF5C"/>
<path d="M2163.6 1757.2L2271.4 1596.1M2271.4 1596.1L2379.2 1783.5M2379.2 1783.5L2487.0 1830.7M2487.0 1830.7L2594.8 1808.0" stroke="#C4FF36"/>
<path d="M2163.6 1886.8L2271.4 1596.1M2271.4 1596.1L2379.2 1914.8M2379.2 1914.8L2487.0 1934.0M2487.0 1934.0L2594.8 1927.0" stroke="#C4FF36"/>
<path d="M2163.6 1758.9L2271.4 1596.1M2271.4 1596.1L2379.2 1785.6M2379.2 1785.6L2487.0 1833.4M2487.0 1833.4L2594.8 1809.3" stroke="#C4FF36"/>
<path d="M2163.6 1884.1L2271.4 1596.1M2271.4 1596.1L2379.2 1913.0M2379.2 1913.0L2487.0 1932.7M2487.0 1932.7L2594.8 1925.7" stroke="#C4FF36"/>
<path d="M2163.6 1760.7L2271.4 1596.1M2271.4 1596.1L2379.2 1787.8M2379.2 1787.8L2487.0 1836.0M2487.0 1836.0L2594.8 1810.6" stroke="#ECFF14"/>
<path d="M2163.6 1881.5L2271.4 1596.1M2271.4 1596.1L2379.2 1911.3M2379.2 1911.3L2487.0 1931.4M2487.0 1931.4L2594.8 1924.4" stroke="#ECFF14"/>
<path d="M2163.6 1762.4L2271.4 1596.1M2271.4 1596.1L2379.2 1790.0M2379.2 1790.0L2487.0 1838.6M2487.0 1838.6L2594.8 1811.9" stroke="#ECFF14"/>
<path d="M2163.6 1878.9L2271.4 1596.1M2271.4 1596.1L2379.2 1909.5M2379.2 1909.5L2487.0 1930.1M2487.0 1930.1L2594.8 1923.1" stroke="#ECFF14"/>
<path d="M2163.6 1764.2L2271.4 1596.1M2271.4 1596.1L2379.2 1792.2M2379.2 1792.2L2487.0 1841.2M2487.0 1841.2L2594.8 1813.2" stroke="#FFF200"/>
<path d="M2163.6 1876.2L2271.4 1596.1M2271.4 1596.1L2379.2 1907.8M2379.2 1907.8L2487.0 1928.8M2487.0 1928.8L2594.8 1921.8" stroke="#FFF200"/>
<path d="M2163.6 1765.8L2271.4 1596.1M2271.4 1596.1L2379.2 1794.9M2379.2 1794.9L2487.0 1842.8M2487.0 1842.8L2594.8 1815.4" stroke="#FFF200"/>
<path d="M2163.6 1873.0L2271.4 1596.1M2271.4 1596.1L2379.2 1904.0M2379.2 1904.0L2487.0 1926.1M2487.0 1926.1L2594.8 1919.6" stroke="#FFF200"/>
<path d="M2163.6 1767.4L2271.4 1596.1M2271.4 1596.1L2379.2 1797.6M2379.2 1797.6L2487.0 1844.5M2487.0 1844.5L2594.8 1817.5" stroke="#FFD200"/>
<path d="M2163.6 1869.8L2271.4 1596.1M2271.4 1596.1L2379.2 1900.2M2379.2 1900.2L2487.0 1923.4M2487.0 1923.4L2594.8 1917.5" stroke="#FFD200"/>
<path d="M2163.6 1769.0L2271.4 1596.1M2271.4 1596.1L2379.2 1800.3M2379.2 1800.3L2487.0 1846.1M2487.0 1846.1L2594.8 1819.7" stroke="#FFD200"/>
<path d="M2163.6 1866.6L2271.4 1596.1M2271.4 1596.1L2379.2 1896.4M2379.2 1896.4L2487.0 1920.7M2487.0 1920.7L2594.8 1915.3" stroke="#FFD200"/>
<path d="M2163.6 1770.7L2271.4 1596.1M2271.4 1596.1L2379.2 1803.0M2379.2 1803.0L2487.0 1847.7M2487.0 1847.7L2594.8 1821.8" stroke="#FFAA00"/>
<path d="M2163.6 1863.3L2271.4 1596.1M2271.4 1596.1L2379.2 1892.7M2379.2 1892.7L2487.0 1918.0M2487.0 1918.0L2594.8 1913.1" stroke="#FFAA00"/>
<path d="M2163.6 1772.3L2271.4 1596.1M2271.4 1596.1L2379.2 1805.7M2379.2 1805.7L2487.0 1849.3M2487.0 1849.3L2594.8 1824.0" stroke="#FFAA00"/>
<path d="M2163.6 1860.1L2271.4 1596.1M2271.4 1596.1L2379.2 1888.9M2379.2 1888.9L2487.0 1915.3M2487.0 1915.3L2594.8 1911.0" stroke="#FFAA00"/>
<path d="M2163.6 1773.9L2271.4 1596.1M2271.4 1596.1L2379.2 1808.4M2379.2 1808.4L2487.0 1850.9M2487.0 1850.9L2594.8 1826.2" stroke="#FF8000"/>
<path d="M2163.6 1856.9L2271.4 1596.1M2271.4 1596.1L2379.2 1885.1M2379.2 1885.1L2487.0 1912.6M2487.0 1912.6L2594.8 1908.8" stroke="#FF8000"/>
<path d="M2163.6 1776.3L2271.4 1596.1M2271.4 1596.1L2379.2 1811.3M2379.2 1811.3L2487.0 1852.9M2487.0 1852.9L2594.8 1829.6" stroke="#FF8000"/>
<path d="M2163.6 1853.3L2271.4 1596.1M2271.4 1596.1L2379.2 1881.3M2379.2 1881.3L2487.0 1909.7M2487.0 1909.7L2594.8 1906.6" stroke="#FF8000"/>
<path d="M2163.6 1779.4L2271.4 1596.1M2271.4 1596.1L2379.2 1814.4M2379.2 1814.4L2487.0 1855.2M2487.0 1855.2L2594.8 1834.2" stroke="#FF5A00"/>
<path d="M2163.6 1849.4L2271.4 1596.1M2271.4 1596.1L2379.2 1877.4M2379.2 1877.4L2487.0 1906.6M2487.0 1906.6L2594.8 1904.3" stroke="#FF5A00"/>
<path d="M2163.6 1782.5L2271.4 1596.1M2271.4 1596.1L2379.2 1817.5M2379.2 1817.5L2487.0 1857.6M2487.0 1857.6L2594.8 1838.9" stroke="#FF5A00"/>
<path d="M2163.6 1845.5L2271.4 1596.1M2271.4 1596.1L2379.2 1873.5M2379.2 1873.5L2487.0 1903.5M2487.0 1903.5L2594.8 1901.9" stroke="#FF5A00"/>
<path d="M2163.6 1785.6L2271.4 1596.1M2271.4 1596.1L2379.2 1820.6M2379.2 1820.6L2487.0 1859.9M2487.0 1859.9L2594.8 1843.6" stroke="#FF3800"/>
<path d="M2163.6 1841.6L2271.4 1596.1M2271.4 1596.1L2379.2 1869.6M2379.2 1869.6L2487.0 1900.4M2487.0 1900.4L2594.8 1899.6" stroke="#FF3800"/>
<path d="M2163.6 1788.7L2271.4 1596.1M2271.4 1596.1L2379.2 1823.7M2379.2 1823.7L2487.0 1862.2M2487.0 1862.2L2594.8 1848.2" stroke="#FF3800"/>
<path d="M2163.6 1837.7L2271.4 1596.1M2271.4 1596.1L2379.2 1865.7M2379.2 1865.7L2487.0 1897.3M2487.0 1897.3L2594.8 1897.3" stroke="#FF3800"/>
<path d="M2163.6 1794.8L2271.4 1596.1M2271.4 1596.1L2379.2 1828.1M2379.2 1828.1L2487.0 1864.9M2487.0 1864.9L2594.8 1855.2" stroke="#F51E00"/>
<path d="M2163.6 1831.6L2271.4 1596.1M2271.4 1596.1L2379.2 1859.6M2379.2 1859.6L2487.0 1891.1M2487.0 1891.1L2594.8 1892.0" stroke="#F51E00"/>
<path d="M2163.6 1801.0L2271.4 1596.1M2271.4 1596.1L2379.2 1832.5M2379.2 1832.5L2487.0 1867.5M2487.0 1867.5L2594.8 1862.2" stroke="#F51E00"/>
<path d="M2163.6 1825.5L2271.4 1596.1M2271.4 1596.1L2379.2 1853.5M2379.2 1853.5L2487.0 1885.0M2487.0 1885.0L2594.8 1886.8" stroke="#F51E00"/>
<path d="M2163.6 1807.1L2271.4 1596.1M2271.4 1596.1L2379.2 1836.9M2379.2 1836.9L2487.0 1870.1M2487.0 1870.1L2594.8 1869.2" stroke="#DF0E00"/>
<path d="M2163.6 1819.3L2271.4 1596.1M2271.4 1596.1L2379.2 1847.4M2379.2 1847.4L2487.0 1878.9M2487.0 1878.9L2594.8 1881.5" stroke="#DF0E00"/>
<path d="M2163.6 1813.2L2271.4 1596.1M2271.4 1596.1L2379.2 1841.2M2379.2 1841.2L2487.0 1872.7M2487.0 1872.7L2594.8 1876.2" stroke="#DF0E00"/>
<path d="M2163.6 1813.2L2271.4 1596.1M2271.4 1596.1L2379.2 1841.2M2379.2 1841.2L2487.0 1872.7M2487.0 1872.7L2594.8 1876.2" stroke="#DF0E00"/>
</g>
<path d="M2055.8 1524.9V1999.4H2702.6" stroke="#000" stroke-width="2.7" fill="none"/>
<text x="2050.5" y="1530.9" text-anchor="end" font-size="21.5" textLength="43" lengthAdjust="spacingAndGlyphs">1.20</text>
<text x="2050.5" y="1583.4" text-anchor="end" font-size="21.5" textLength="43" lengthAdjust="spacingAndGlyphs">1.05</text>
<text x="2050.5" y="1635.9" text-anchor="end" font-size="21.5" textLength="43" lengthAdjust="spacingAndGlyphs">0.90</text>
<text x="2050.5" y="1688.5" text-anchor="end" font-size="21.5" textLength="43" lengthAdjust="spacingAndGlyphs">0.75</text>
<text x="2050.5" y="1741.0" text-anchor="end" font-size="21.5" textLength="43" lengthAdjust="spacingAndGlyphs">0.60</text>
<text x="2050.5" y="1793.5" text-anchor="end" font-size="21.5" textLength="43" lengthAdjust="spacingAndGlyphs">0.45</text>
<text x="2050.5" y="1846.0" text-anchor="end" font-size="21.5" textLength="43" lengthAdjust="spacingAndGlyphs">0.30</text>
<text x="2050.5" y="1898.6" text-anchor="end" font-size="21.5" textLength="43" lengthAdjust="spacingAndGlyphs">0.15</text>
<text x="2050.5" y="1951.1" text-anchor="end" font-size="21.5" textLength="43" lengthAdjust="spacingAndGlyphs">0.00</text>
<text x="2050.5" y="2003.6" text-anchor="end" font-size="21.5" textLength="51" lengthAdjust="spacingAndGlyphs">-0.15</text>
<path d="M2050.8 1526.1H2055.8M2050.8 1578.6H2055.8M2050.8 1631.1H2055.8M2050.8 1683.7H2055.8M2050.8 1736.2H2055.8M2050.8 1788.7H2055.8M2050.8 1841.2H2055.8M2050.8 1893.8H2055.8M2050.8 1946.3H2055.8M2050.8 1998.8H2055.8M2163.6 1998.8V2003.8M2271.4 1998.8V2003.8M2379.2 1998.8V2003.8M2487.0 1998.8V2003.8M2594.8 1998.8V2003.8" stroke="#000" stroke-width="2.4" fill="none"/>
<text x="2163.6" y="2020.1" text-anchor="middle" font-size="21" textLength="29.8" lengthAdjust="spacingAndGlyphs">QC</text>
<text x="2271.4" y="2020.1" text-anchor="middle" font-size="21" textLength="47.5" lengthAdjust="spacingAndGlyphs">MCT</text>
<text x="2379.2" y="2020.1" text-anchor="middle" font-size="21" textLength="95.2" lengthAdjust="spacingAndGlyphs">MCT-NPS</text>
<text x="2487.0" y="2020.1" text-anchor="middle" font-size="21" textLength="40" lengthAdjust="spacingAndGlyphs">NPS</text>
<text x="2594.8" y="2020.1" text-anchor="middle" font-size="21" textLength="38" lengthAdjust="spacingAndGlyphs">Con</text>
<text x="2056.9" y="1516.3" font-size="40" textLength="138.3" lengthAdjust="spacingAndGlyphs">Cluster</text>
<text x="2210.8" y="1516.3" font-size="40" textLength="44.2" lengthAdjust="spacingAndGlyphs">#9</text>
<text x="2379.5" y="2064.9" text-anchor="middle" font-size="28" textLength="147.2" lengthAdjust="spacingAndGlyphs">time groups</text>
<text transform="translate(1968.4,1762.7) rotate(-90)" x="0" y="0" text-anchor="middle" font-size="27.5" textLength="317.8" lengthAdjust="spacingAndGlyphs">expression quantification</text>
<text x="2677.0" y="1544.1" font-size="27" textLength="153.5" lengthAdjust="spacingAndGlyphs">membership</text>
<rect x="2717.0" y="1868.08" width="73.7" height="12.42" fill="#000080"/>
<rect x="2717.0" y="1855.97" width="73.7" height="12.42" fill="#0000A8"/>
<rect x="2717.0" y="1843.85" width="73.7" height="12.42" fill="#0000D4"/>
<rect x="2717.0" y="1831.74" width="73.7" height="12.42" fill="#0000FF"/>
<rect x="2717.0" y="1819.62" width="73.7" height="12.42" fill="#0028FF"/>
<rect x="2717.0" y="1807.50" width="73.7" height="12.42" fill="#0050FF"/>
<rect x="2717.0" y="1795.39" width="73.7" height="12.42" fill="#0078FF"/>
<rect x="2717.0" y="1783.27" width="73.7" height="12.42" fill="#009CFF"/>
<rect x="2717.0" y="1771.16" width="73.7" height="12.42" fill="#00C0FF"/>
<rect x="2717.0" y="1759.04" width="73.7" height="12.42" fill="#00DCF8"/>
<rect x="2717.0" y="1746.92" width="73.7" height="12.42" fill="#12F0E8"/>
<rect x="2717.0" y="1734.81" width="73.7" height="12.42" fill="#30FFC8"/>
<rect x="2717.0" y="1722.69" width="73.7" height="12.42" fill="#52FFA6"/>
<rect x="2717.0" y="1710.58" width="73.7" height="12.42" fill="#76FF82"/>
<rect x="2717.0" y="1698.46" width="73.7" height="12.42" fill="#9CFF5C"/>
<rect x="2717.0" y="1686.34" width="73.7" height="12.42" fill="#C4FF36"/>
<rect x="2717.0" y="1674.23" width="73.7" height="12.42" fill="#ECFF14"/>
<rect x="2717.0" y="1662.11" width="73.7" height="12.42" fill="#FFF200"/>
<rect x="2717.0" y="1650.00" width="73.7" height="12.42" fill="#FFD200"/>
<rect x="2717.0" y="1637.88" width="73.7" height="12.42" fill="#FFAA00"/>
<rect x="2717.0" y="1625.76" width="73.7" height="12.42" fill="#FF8000"/>
<rect x="2717.0" y="1613.65" width="73.7" height="12.42" fill="#FF5A00"/>
<rect x="2717.0" y="1601.53" width="73.7" height="12.42" fill="#FF3800"/>
<rect x="2717.0" y="1589.42" width="73.7" height="12.42" fill="#F51E00"/>
<rect x="2717.0" y="1577.30" width="73.7" height="12.42" fill="#DF0E00"/>
<text x="2804.0" y="1578.5" font-size="20.5" textLength="45" lengthAdjust="spacingAndGlyphs">0.95</text>
<text x="2805.0" y="1598.7" font-size="18" style="font-weight:normal;fill:#737373" textLength="35.4" lengthAdjust="spacingAndGlyphs">0.90</text>
<text x="2805.0" y="1618.9" font-size="18" style="font-weight:normal;fill:#737373" textLength="35.4" lengthAdjust="spacingAndGlyphs">0.85</text>
<text x="2805.0" y="1639.1" font-size="18" style="font-weight:normal;fill:#737373" textLength="35.4" lengthAdjust="spacingAndGlyphs">0.80</text>
<text x="2805.0" y="1659.3" font-size="18" style="font-weight:normal;fill:#737373" textLength="35.4" lengthAdjust="spacingAndGlyphs">0.75</text>
<text x="2805.0" y="1679.5" font-size="18" style="font-weight:normal;fill:#737373" textLength="35.4" lengthAdjust="spacingAndGlyphs">0.70</text>
<text x="2805.0" y="1699.7" font-size="18" style="font-weight:normal;fill:#737373" textLength="35.4" lengthAdjust="spacingAndGlyphs">0.65</text>
<text x="2805.0" y="1719.9" font-size="18" style="font-weight:normal;fill:#737373" textLength="35.4" lengthAdjust="spacingAndGlyphs">0.60</text>
<text x="2805.0" y="1740.0" font-size="18" style="font-weight:normal;fill:#737373" textLength="35.4" lengthAdjust="spacingAndGlyphs">0.55</text>
<text x="2805.0" y="1760.2" font-size="18" style="font-weight:normal;fill:#737373" textLength="35.4" lengthAdjust="spacingAndGlyphs">0.50</text>
<text x="2805.0" y="1780.4" font-size="18" style="font-weight:normal;fill:#737373" textLength="35.4" lengthAdjust="spacingAndGlyphs">0.45</text>
<text x="2805.0" y="1800.6" font-size="18" style="font-weight:normal;fill:#737373" textLength="35.4" lengthAdjust="spacingAndGlyphs">0.40</text>
<text x="2805.0" y="1820.8" font-size="18" style="font-weight:normal;fill:#737373" textLength="35.4" lengthAdjust="spacingAndGlyphs">0.35</text>
<text x="2805.0" y="1841.0" font-size="18" style="font-weight:normal;fill:#737373" textLength="35.4" lengthAdjust="spacingAndGlyphs">0.30</text>
<text x="2805.0" y="1861.2" font-size="18" style="font-weight:normal;fill:#737373" textLength="35.4" lengthAdjust="spacingAndGlyphs">0.25</text>
<text x="2804.0" y="1881.4" font-size="20.5" textLength="45" lengthAdjust="spacingAndGlyphs">0.20</text>
<path d="M2796.5 1577.3V1880.2M2796.5 1577.3H2801.0M2796.5 1597.5H2801.0M2796.5 1617.7H2801.0M2796.5 1637.9H2801.0M2796.5 1658.1H2801.0M2796.5 1678.3H2801.0M2796.5 1698.5H2801.0M2796.5 1718.7H2801.0M2796.5 1738.8H2801.0M2796.5 1759.0H2801.0M2796.5 1779.2H2801.0M2796.5 1799.4H2801.0M2796.5 1819.6H2801.0M2796.5 1839.8H2801.0M2796.5 1860.0H2801.0M2796.5 1880.2H2801.0" stroke="#808080" stroke-width="1.4" fill="none"/>
</svg>
</body></html>
